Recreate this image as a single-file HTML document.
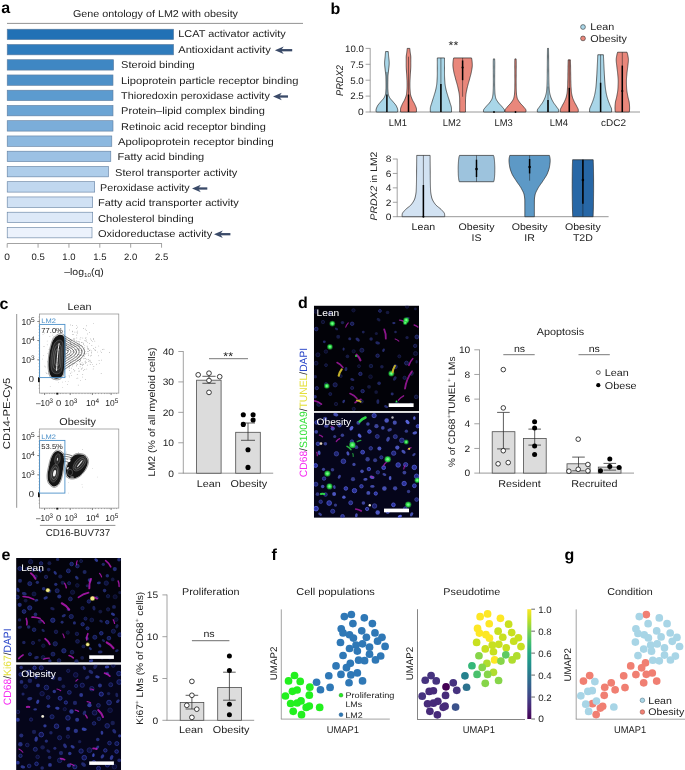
<!DOCTYPE html>
<html lang="en"><head><meta charset="utf-8"><title>Figure</title>
<style>
html,body{margin:0;padding:0;background:#fff;}
svg{display:block;font-family:"Liberation Sans", Arial, Helvetica, sans-serif;will-change:transform;}
text{font-family:"Liberation Sans", Arial, Helvetica, sans-serif;text-rendering:geometricPrecision;}
</style></head><body>
<svg width="685" height="770" viewBox="0 0 685 770">
<rect x="0" y="0" width="685" height="770" fill="#ffffff"/>
<g id="panel-a">
<text x="1.30" y="12.85" font-size="16" font-weight="bold" fill="#000">a</text>
<text x="0" y="0" transform="translate(155.50 16.56) scale(1.0929 1)" font-size="9.88" text-anchor="middle" fill="#222" textLength="150.98" lengthAdjust="spacingAndGlyphs">Gene ontology of LM2 with obesity</text>
<line x1="7.00" y1="23.40" x2="303.00" y2="23.40" stroke="#777" stroke-width="0.8"/>
<rect x="7.20" y="29.20" width="166.40" height="10.40" fill="#2171b5" stroke="#5f7c9e" stroke-width="0.6"/>
<text x="0" y="0" transform="translate(178.20 37.46) scale(1.0929 1)" font-size="9.88" text-anchor="start" fill="#222" textLength="98.45" lengthAdjust="spacingAndGlyphs">LCAT activator activity</text>
<rect x="7.20" y="44.45" width="166.40" height="10.40" fill="#2f7cbd" stroke="#5f7c9e" stroke-width="0.6"/>
<text x="0" y="0" transform="translate(178.20 52.82) scale(1.0929 1)" font-size="9.88" text-anchor="start" fill="#222" textLength="84.73" lengthAdjust="spacingAndGlyphs">Antioxidant activity</text>
<rect x="7.20" y="59.70" width="106.40" height="10.40" fill="#3f87c3" stroke="#5f7c9e" stroke-width="0.6"/>
<text x="0" y="0" transform="translate(121.10 68.18) scale(1.0929 1)" font-size="9.88" text-anchor="start" fill="#222" textLength="67.34" lengthAdjust="spacingAndGlyphs">Steroid binding</text>
<rect x="7.20" y="74.95" width="105.80" height="10.40" fill="#4d90c8" stroke="#5f7c9e" stroke-width="0.6"/>
<text x="0" y="0" transform="translate(121.10 83.54) scale(1.0929 1)" font-size="9.88" text-anchor="start" fill="#222" textLength="162.23" lengthAdjust="spacingAndGlyphs">Lipoprotein particle receptor binding</text>
<rect x="7.20" y="90.20" width="105.80" height="10.40" fill="#5c9bcf" stroke="#5f7c9e" stroke-width="0.6"/>
<text x="0" y="0" transform="translate(121.10 98.90) scale(1.0929 1)" font-size="9.88" text-anchor="start" fill="#222" textLength="136.06" lengthAdjust="spacingAndGlyphs">Thioredoxin peroxidase activity</text>
<rect x="7.20" y="105.45" width="105.80" height="10.40" fill="#6ba4d4" stroke="#5f7c9e" stroke-width="0.6"/>
<text x="0" y="0" transform="translate(121.10 114.26) scale(1.0929 1)" font-size="9.88" text-anchor="start" fill="#222" textLength="131.49" lengthAdjust="spacingAndGlyphs">Protein–lipid complex binding</text>
<rect x="7.20" y="120.70" width="105.80" height="10.40" fill="#7badd9" stroke="#5f7c9e" stroke-width="0.6"/>
<text x="0" y="0" transform="translate(121.10 129.62) scale(1.0929 1)" font-size="9.88" text-anchor="start" fill="#222" textLength="132.40" lengthAdjust="spacingAndGlyphs">Retinoic acid receptor binding</text>
<rect x="7.20" y="135.95" width="104.60" height="10.40" fill="#8cb8df" stroke="#5f7c9e" stroke-width="0.6"/>
<text x="0" y="0" transform="translate(118.10 144.98) scale(1.0929 1)" font-size="9.88" text-anchor="start" fill="#222" textLength="142.47" lengthAdjust="spacingAndGlyphs">Apolipoprotein receptor binding</text>
<rect x="7.20" y="151.20" width="103.60" height="10.40" fill="#9cc1e4" stroke="#5f7c9e" stroke-width="0.6"/>
<text x="0" y="0" transform="translate(117.60 160.34) scale(1.0929 1)" font-size="9.88" text-anchor="start" fill="#222" textLength="79.24" lengthAdjust="spacingAndGlyphs">Fatty acid binding</text>
<rect x="7.20" y="166.45" width="101.30" height="10.40" fill="#aecdea" stroke="#5f7c9e" stroke-width="0.6"/>
<text x="0" y="0" transform="translate(115.10 175.70) scale(1.0929 1)" font-size="9.88" text-anchor="start" fill="#222" textLength="111.81" lengthAdjust="spacingAndGlyphs">Sterol transporter activity</text>
<rect x="7.20" y="181.70" width="87.50" height="10.40" fill="#c0d7ef" stroke="#5f7c9e" stroke-width="0.6"/>
<text x="0" y="0" transform="translate(100.10 191.06) scale(1.0929 1)" font-size="9.88" text-anchor="start" fill="#222" textLength="81.98" lengthAdjust="spacingAndGlyphs">Peroxidase activity</text>
<rect x="7.20" y="196.95" width="85.50" height="10.40" fill="#d0e1f4" stroke="#5f7c9e" stroke-width="0.6"/>
<text x="0" y="0" transform="translate(98.00 206.42) scale(1.0929 1)" font-size="9.88" text-anchor="start" fill="#222" textLength="128.83" lengthAdjust="spacingAndGlyphs">Fatty acid transporter activity</text>
<rect x="7.20" y="212.20" width="85.50" height="10.40" fill="#dde9f8" stroke="#5f7c9e" stroke-width="0.6"/>
<text x="0" y="0" transform="translate(98.00 221.78) scale(1.0929 1)" font-size="9.88" text-anchor="start" fill="#222" textLength="87.57" lengthAdjust="spacingAndGlyphs">Cholesterol binding</text>
<rect x="7.20" y="227.45" width="84.80" height="10.40" fill="#ecf2fc" stroke="#5f7c9e" stroke-width="0.6"/>
<text x="0" y="0" transform="translate(98.00 237.14) scale(1.0929 1)" font-size="9.88" text-anchor="start" fill="#222" textLength="104.49" lengthAdjust="spacingAndGlyphs">Oxidoreductase activity</text>
<path d="M292.2 50.2 L279.9 50.2" stroke="#3a4a68" stroke-width="2.3" fill="none"/>
<path d="M274.9 50.2 L283.7 46.5 L281.1 50.2 L283.7 53.9 Z" fill="#3a4a68"/>
<path d="M288.0 96.5 L278.0 96.5" stroke="#3a4a68" stroke-width="2.3" fill="none"/>
<path d="M273.0 96.5 L281.8 92.8 L279.2 96.5 L281.8 100.2 Z" fill="#3a4a68"/>
<path d="M207.3 188.5 L197.0 188.5" stroke="#3a4a68" stroke-width="2.3" fill="none"/>
<path d="M192.0 188.5 L200.8 184.8 L198.2 188.5 L200.8 192.2 Z" fill="#3a4a68"/>
<path d="M230.4 234.2 L219.0 234.2" stroke="#3a4a68" stroke-width="2.3" fill="none"/>
<path d="M214.0 234.2 L222.8 230.5 L220.2 234.2 L222.8 237.9 Z" fill="#3a4a68"/>
<line x1="7.20" y1="243.50" x2="161.90" y2="243.50" stroke="#8c8c8c" stroke-width="0.8"/>
<line x1="7.20" y1="243.50" x2="7.20" y2="247.70" stroke="#8c8c8c" stroke-width="0.8"/>
<text x="0" y="0" transform="translate(7.20 259.86) scale(1.0929 1)" font-size="9.33" text-anchor="middle" fill="#222">0</text>
<line x1="38.07" y1="243.50" x2="38.07" y2="247.70" stroke="#8c8c8c" stroke-width="0.8"/>
<text x="0" y="0" transform="translate(38.07 259.86) scale(1.0929 1)" font-size="9.33" text-anchor="middle" fill="#222" textLength="12.08" lengthAdjust="spacingAndGlyphs">0.5</text>
<line x1="68.94" y1="243.50" x2="68.94" y2="247.70" stroke="#8c8c8c" stroke-width="0.8"/>
<text x="0" y="0" transform="translate(68.94 259.86) scale(1.0929 1)" font-size="9.33" text-anchor="middle" fill="#222" textLength="12.08" lengthAdjust="spacingAndGlyphs">1.0</text>
<line x1="99.81" y1="243.50" x2="99.81" y2="247.70" stroke="#8c8c8c" stroke-width="0.8"/>
<text x="0" y="0" transform="translate(99.81 259.86) scale(1.0929 1)" font-size="9.33" text-anchor="middle" fill="#222" textLength="12.08" lengthAdjust="spacingAndGlyphs">1.5</text>
<line x1="130.68" y1="243.50" x2="130.68" y2="247.70" stroke="#8c8c8c" stroke-width="0.8"/>
<text x="0" y="0" transform="translate(130.68 259.86) scale(1.0929 1)" font-size="9.33" text-anchor="middle" fill="#222" textLength="12.08" lengthAdjust="spacingAndGlyphs">2.0</text>
<line x1="161.55" y1="243.50" x2="161.55" y2="247.70" stroke="#8c8c8c" stroke-width="0.8"/>
<text x="0" y="0" transform="translate(161.55 259.86) scale(1.0929 1)" font-size="9.33" text-anchor="middle" fill="#222" textLength="12.08" lengthAdjust="spacingAndGlyphs">2.5</text>
<text x="0" y="0" transform="translate(84.00 274.96) scale(1.0929 1)" font-size="9.61" text-anchor="middle" fill="#222">–log<tspan font-size="5.76" dy="2.2">10</tspan><tspan dy="-2.2">(q)</tspan></text>
</g>
<g id="panel-b">
<text x="330.60" y="14.00" font-size="16" font-weight="bold" fill="#000">b</text>
<line x1="370.20" y1="48.20" x2="370.20" y2="112.00" stroke="#8c8c8c" stroke-width="0.8"/>
<line x1="369.80" y1="112.00" x2="640.00" y2="112.00" stroke="#8c8c8c" stroke-width="0.9"/>
<line x1="365.60" y1="112.00" x2="370.20" y2="112.00" stroke="#8c8c8c" stroke-width="0.8"/>
<text x="0" y="0" transform="translate(363.80 115.36) scale(1.0929 1)" font-size="9.33" text-anchor="end" fill="#222">0</text>
<line x1="365.60" y1="96.10" x2="370.20" y2="96.10" stroke="#8c8c8c" stroke-width="0.8"/>
<text x="0" y="0" transform="translate(363.80 99.46) scale(1.0929 1)" font-size="9.33" text-anchor="end" fill="#222" textLength="12.44" lengthAdjust="spacingAndGlyphs">2.5</text>
<line x1="365.60" y1="80.20" x2="370.20" y2="80.20" stroke="#8c8c8c" stroke-width="0.8"/>
<text x="0" y="0" transform="translate(363.80 83.56) scale(1.0929 1)" font-size="9.33" text-anchor="end" fill="#222" textLength="12.44" lengthAdjust="spacingAndGlyphs">5.0</text>
<line x1="365.60" y1="64.30" x2="370.20" y2="64.30" stroke="#8c8c8c" stroke-width="0.8"/>
<text x="0" y="0" transform="translate(363.80 67.66) scale(1.0929 1)" font-size="9.33" text-anchor="end" fill="#222" textLength="12.44" lengthAdjust="spacingAndGlyphs">7.5</text>
<line x1="365.60" y1="48.40" x2="370.20" y2="48.40" stroke="#8c8c8c" stroke-width="0.8"/>
<text x="0" y="0" transform="translate(363.80 51.76) scale(1.0929 1)" font-size="9.33" text-anchor="end" fill="#222" textLength="17.20" lengthAdjust="spacingAndGlyphs">10.0</text>
<text x="0" y="0" transform="rotate(-90 339.60 80.60) translate(339.60 83.89) scale(1.0929 1)" font-size="9.70" text-anchor="middle" fill="#222" font-style="italic" textLength="28.18" lengthAdjust="spacingAndGlyphs">PRDX2</text>
<path d="M397.50 112.00 L397.76 110.98 L397.78 109.95 L397.57 108.93 L397.21 107.90 L396.77 106.88 L396.29 105.86 L395.62 104.83 L394.79 103.81 L393.90 102.78 L393.05 101.76 L392.17 100.74 L391.23 99.71 L390.35 98.69 L389.65 97.66 L389.16 96.64 L388.73 95.61 L388.40 94.59 L388.20 93.57 L388.10 92.54 L388.01 91.52 L387.94 90.49 L387.88 89.47 L387.83 88.45 L387.81 87.42 L387.80 86.40 L387.80 85.37 L387.81 84.35 L387.81 83.33 L387.82 82.30 L387.83 81.28 L387.85 80.25 L387.86 79.23 L387.88 78.21 L387.90 77.18 L387.93 76.16 L388.01 75.13 L388.12 74.11 L388.24 73.09 L388.37 72.06 L388.49 71.04 L388.60 70.01 L388.70 68.99 L388.82 67.97 L388.94 66.94 L389.04 65.92 L389.13 64.89 L389.18 63.87 L389.20 62.84 L389.17 61.82 L389.10 60.80 L389.00 59.77 L388.88 58.75 L388.77 57.72 L388.66 56.70 L388.57 55.68 L388.49 54.65 L388.41 53.63 L388.33 52.60 L388.25 51.58 L385.55 51.58 L385.47 52.60 L385.39 53.63 L385.31 54.65 L385.23 55.68 L385.14 56.70 L385.03 57.72 L384.92 58.75 L384.80 59.77 L384.70 60.80 L384.63 61.82 L384.60 62.84 L384.62 63.87 L384.67 64.89 L384.76 65.92 L384.86 66.94 L384.98 67.97 L385.10 68.99 L385.20 70.01 L385.31 71.04 L385.43 72.06 L385.56 73.09 L385.68 74.11 L385.79 75.13 L385.87 76.16 L385.90 77.18 L385.92 78.21 L385.94 79.23 L385.95 80.25 L385.97 81.28 L385.98 82.30 L385.99 83.33 L385.99 84.35 L386.00 85.37 L386.00 86.40 L385.99 87.42 L385.97 88.45 L385.92 89.47 L385.86 90.49 L385.79 91.52 L385.70 92.54 L385.60 93.57 L385.40 94.59 L385.07 95.61 L384.64 96.64 L384.15 97.66 L383.45 98.69 L382.57 99.71 L381.63 100.74 L380.75 101.76 L379.90 102.78 L379.01 103.81 L378.18 104.83 L377.51 105.86 L377.03 106.88 L376.59 107.90 L376.23 108.93 L376.02 109.95 L376.04 110.98 L376.30 112.00 Z" fill="#a9d6e8" stroke="#2a2a2a" stroke-width="0.7" stroke-linejoin="round"/>
<line x1="386.90" y1="94.83" x2="386.90" y2="71.93" stroke="#1a1a1a" stroke-width="0.7" stroke-opacity="0.75"/>
<line x1="386.90" y1="112.00" x2="386.90" y2="94.51" stroke="#000" stroke-width="1.5"/>
<path d="M416.40 112.00 L416.48 110.92 L416.50 109.84 L416.45 108.77 L416.19 107.69 L415.79 106.61 L415.31 105.53 L414.84 104.45 L414.33 103.38 L413.72 102.30 L413.08 101.22 L412.48 100.14 L412.02 99.06 L411.60 97.99 L411.21 96.91 L410.87 95.83 L410.59 94.75 L410.41 93.67 L410.31 92.60 L410.21 91.52 L410.13 90.44 L410.06 89.36 L409.99 88.28 L409.95 87.21 L409.92 86.13 L409.90 85.05 L409.90 83.97 L409.92 82.89 L409.96 81.82 L410.00 80.74 L410.06 79.66 L410.11 78.58 L410.17 77.51 L410.23 76.43 L410.29 75.35 L410.34 74.27 L410.41 73.19 L410.48 72.12 L410.56 71.04 L410.63 69.96 L410.70 68.88 L410.75 67.80 L410.79 66.73 L410.80 65.65 L410.80 64.57 L410.80 63.49 L410.80 62.41 L410.80 61.34 L410.80 60.26 L410.80 59.18 L410.80 58.10 L410.80 57.02 L410.73 55.95 L410.59 54.87 L410.42 53.79 L410.25 52.71 L410.11 51.63 L410.00 50.56 L409.89 49.48 L409.80 48.40 L407.20 48.40 L407.11 49.48 L407.00 50.56 L406.89 51.63 L406.75 52.71 L406.58 53.79 L406.41 54.87 L406.27 55.95 L406.20 57.02 L406.20 58.10 L406.20 59.18 L406.20 60.26 L406.20 61.34 L406.20 62.41 L406.20 63.49 L406.20 64.57 L406.20 65.65 L406.21 66.73 L406.25 67.80 L406.30 68.88 L406.37 69.96 L406.44 71.04 L406.52 72.12 L406.59 73.19 L406.66 74.27 L406.71 75.35 L406.77 76.43 L406.83 77.51 L406.89 78.58 L406.94 79.66 L407.00 80.74 L407.04 81.82 L407.08 82.89 L407.10 83.97 L407.10 85.05 L407.08 86.13 L407.05 87.21 L407.01 88.28 L406.94 89.36 L406.87 90.44 L406.79 91.52 L406.69 92.60 L406.59 93.67 L406.41 94.75 L406.13 95.83 L405.79 96.91 L405.40 97.99 L404.98 99.06 L404.52 100.14 L403.92 101.22 L403.28 102.30 L402.67 103.38 L402.16 104.45 L401.69 105.53 L401.21 106.61 L400.81 107.69 L400.55 108.77 L400.50 109.84 L400.52 110.92 L400.60 112.00 Z" fill="#e9877b" stroke="#2a2a2a" stroke-width="0.7" stroke-linejoin="round"/>
<line x1="408.50" y1="112.00" x2="408.50" y2="56.67" stroke="#1a1a1a" stroke-width="0.7" stroke-opacity="0.75"/>
<line x1="408.50" y1="112.00" x2="408.50" y2="94.51" stroke="#000" stroke-width="1.5"/>
<path d="M451.50 112.00 L451.50 111.08 L451.50 110.17 L451.50 109.25 L451.48 108.33 L451.37 107.42 L451.17 106.50 L450.91 105.59 L450.61 104.67 L450.30 103.75 L450.01 102.84 L449.75 101.92 L449.47 101.00 L449.18 100.09 L448.89 99.17 L448.58 98.26 L448.29 97.34 L447.99 96.42 L447.71 95.51 L447.44 94.59 L447.15 93.67 L446.87 92.76 L446.59 91.84 L446.34 90.93 L446.10 90.01 L445.90 89.09 L445.71 88.18 L445.54 87.26 L445.37 86.34 L445.22 85.43 L445.08 84.51 L444.98 83.60 L444.90 82.68 L444.83 81.76 L444.77 80.85 L444.71 79.93 L444.66 79.01 L444.61 78.10 L444.57 77.18 L444.54 76.27 L444.52 75.35 L444.50 74.43 L444.50 73.52 L444.50 72.60 L444.50 71.68 L444.50 70.77 L444.50 69.85 L444.50 68.94 L444.50 68.02 L444.50 67.10 L444.50 66.19 L444.50 65.27 L444.50 64.35 L444.50 63.44 L444.50 62.52 L444.50 61.61 L444.50 60.69 L444.50 59.77 L444.50 58.86 L444.50 57.94 L437.30 57.94 L437.30 58.86 L437.30 59.77 L437.30 60.69 L437.30 61.61 L437.30 62.52 L437.30 63.44 L437.30 64.35 L437.30 65.27 L437.30 66.19 L437.30 67.10 L437.30 68.02 L437.30 68.94 L437.30 69.85 L437.30 70.77 L437.30 71.68 L437.30 72.60 L437.30 73.52 L437.30 74.43 L437.28 75.35 L437.26 76.27 L437.23 77.18 L437.19 78.10 L437.14 79.01 L437.09 79.93 L437.03 80.85 L436.97 81.76 L436.90 82.68 L436.82 83.60 L436.72 84.51 L436.58 85.43 L436.43 86.34 L436.26 87.26 L436.09 88.18 L435.90 89.09 L435.70 90.01 L435.46 90.93 L435.21 91.84 L434.93 92.76 L434.65 93.67 L434.36 94.59 L434.09 95.51 L433.81 96.42 L433.51 97.34 L433.22 98.26 L432.91 99.17 L432.62 100.09 L432.33 101.00 L432.05 101.92 L431.79 102.84 L431.50 103.75 L431.19 104.67 L430.89 105.59 L430.63 106.50 L430.43 107.42 L430.32 108.33 L430.30 109.25 L430.30 110.17 L430.30 111.08 L430.30 112.00 Z" fill="#a9d6e8" stroke="#2a2a2a" stroke-width="0.7" stroke-linejoin="round"/>
<line x1="440.90" y1="112.00" x2="440.90" y2="57.94" stroke="#1a1a1a" stroke-width="0.7" stroke-opacity="0.75"/>
<line x1="440.90" y1="112.00" x2="440.90" y2="84.02" stroke="#000" stroke-width="1.5"/>
<path d="M465.50 112.00 L465.50 111.08 L465.50 110.17 L465.50 109.25 L465.50 108.33 L465.50 107.42 L465.50 106.50 L465.50 105.59 L465.50 104.67 L465.50 103.75 L465.50 102.84 L465.50 101.92 L465.50 101.00 L465.50 100.09 L465.53 99.17 L465.58 98.26 L465.64 97.34 L465.72 96.42 L465.80 95.51 L465.89 94.59 L466.02 93.67 L466.17 92.76 L466.34 91.84 L466.52 90.93 L466.72 90.01 L466.92 89.09 L467.12 88.18 L467.33 87.26 L467.55 86.34 L467.79 85.43 L468.04 84.51 L468.29 83.60 L468.55 82.68 L468.82 81.76 L469.08 80.85 L469.33 79.93 L469.58 79.01 L469.82 78.10 L470.07 77.18 L470.32 76.27 L470.58 75.35 L470.82 74.43 L471.04 73.52 L471.25 72.60 L471.43 71.68 L471.59 70.77 L471.75 69.85 L471.90 68.94 L472.05 68.02 L472.17 67.10 L472.25 66.19 L472.30 65.27 L472.29 64.35 L472.26 63.44 L472.19 62.52 L472.11 61.61 L472.02 60.69 L471.90 59.77 L471.72 58.86 L471.50 57.94 L453.70 57.94 L453.48 58.86 L453.30 59.77 L453.18 60.69 L453.09 61.61 L453.01 62.52 L452.94 63.44 L452.91 64.35 L452.90 65.27 L452.95 66.19 L453.03 67.10 L453.15 68.02 L453.30 68.94 L453.45 69.85 L453.61 70.77 L453.77 71.68 L453.95 72.60 L454.16 73.52 L454.38 74.43 L454.62 75.35 L454.88 76.27 L455.13 77.18 L455.38 78.10 L455.62 79.01 L455.87 79.93 L456.12 80.85 L456.38 81.76 L456.65 82.68 L456.91 83.60 L457.16 84.51 L457.41 85.43 L457.65 86.34 L457.87 87.26 L458.08 88.18 L458.28 89.09 L458.48 90.01 L458.68 90.93 L458.86 91.84 L459.03 92.76 L459.18 93.67 L459.31 94.59 L459.40 95.51 L459.48 96.42 L459.56 97.34 L459.62 98.26 L459.67 99.17 L459.70 100.09 L459.70 101.00 L459.70 101.92 L459.70 102.84 L459.70 103.75 L459.70 104.67 L459.70 105.59 L459.70 106.50 L459.70 107.42 L459.70 108.33 L459.70 109.25 L459.70 110.17 L459.70 111.08 L459.70 112.00 Z" fill="#e9877b" stroke="#2a2a2a" stroke-width="0.7" stroke-linejoin="round"/>
<line x1="462.60" y1="96.74" x2="462.60" y2="57.94" stroke="#1a1a1a" stroke-width="0.7" stroke-opacity="0.75"/>
<line x1="462.60" y1="80.20" x2="462.60" y2="60.48" stroke="#000" stroke-width="1.5"/>
<circle cx="462.60" cy="67.48" r="1.10" fill="#000" stroke="none" stroke-width="0.7"/>
<path d="M504.40 112.00 L504.49 111.10 L504.49 110.20 L504.13 109.30 L503.46 108.40 L502.68 107.50 L501.95 106.60 L501.15 105.70 L500.28 104.80 L499.40 103.90 L498.61 103.00 L497.95 102.10 L497.33 101.20 L496.74 100.30 L496.24 99.40 L495.85 98.50 L495.60 97.60 L495.40 96.70 L495.23 95.80 L495.09 94.90 L494.98 94.00 L494.91 93.10 L494.87 92.20 L494.83 91.30 L494.79 90.40 L494.76 89.50 L494.73 88.60 L494.71 87.70 L494.69 86.80 L494.67 85.90 L494.66 85.00 L494.65 84.10 L494.65 83.20 L494.65 82.30 L494.65 81.40 L494.65 80.50 L494.66 79.60 L494.66 78.70 L494.66 77.80 L494.67 76.90 L494.67 76.00 L494.68 75.10 L494.68 74.20 L494.69 73.30 L494.69 72.40 L494.70 71.50 L494.70 70.60 L494.71 69.70 L494.71 68.80 L494.72 67.90 L494.73 66.99 L494.73 66.09 L494.74 65.19 L494.74 64.29 L494.75 63.39 L494.75 62.49 L494.74 61.59 L494.70 60.69 L494.65 59.79 L494.60 58.89 L493.40 58.89 L493.35 59.79 L493.30 60.69 L493.26 61.59 L493.25 62.49 L493.25 63.39 L493.26 64.29 L493.26 65.19 L493.27 66.09 L493.27 66.99 L493.28 67.90 L493.29 68.80 L493.29 69.70 L493.30 70.60 L493.30 71.50 L493.31 72.40 L493.31 73.30 L493.32 74.20 L493.32 75.10 L493.33 76.00 L493.33 76.90 L493.34 77.80 L493.34 78.70 L493.34 79.60 L493.35 80.50 L493.35 81.40 L493.35 82.30 L493.35 83.20 L493.35 84.10 L493.34 85.00 L493.33 85.90 L493.31 86.80 L493.29 87.70 L493.27 88.60 L493.24 89.50 L493.21 90.40 L493.17 91.30 L493.13 92.20 L493.09 93.10 L493.02 94.00 L492.91 94.90 L492.77 95.80 L492.60 96.70 L492.40 97.60 L492.15 98.50 L491.76 99.40 L491.26 100.30 L490.67 101.20 L490.05 102.10 L489.39 103.00 L488.60 103.90 L487.72 104.80 L486.85 105.70 L486.05 106.60 L485.32 107.50 L484.54 108.40 L483.87 109.30 L483.51 110.20 L483.51 111.10 L483.60 112.00 Z" fill="#a9d6e8" stroke="#2a2a2a" stroke-width="0.7" stroke-linejoin="round"/>
<circle cx="494.00" cy="112.00" r="0.90" fill="#000" stroke="none" stroke-width="0.7"/>
<path d="M525.90 112.00 L525.99 111.10 L525.99 110.20 L525.63 109.30 L524.96 108.40 L524.18 107.50 L523.45 106.60 L522.65 105.70 L521.78 104.80 L520.90 103.90 L520.11 103.00 L519.45 102.10 L518.83 101.20 L518.24 100.30 L517.74 99.40 L517.35 98.50 L517.10 97.60 L516.90 96.70 L516.73 95.80 L516.59 94.90 L516.48 94.00 L516.41 93.10 L516.37 92.20 L516.33 91.30 L516.29 90.40 L516.26 89.50 L516.23 88.60 L516.21 87.70 L516.19 86.80 L516.17 85.90 L516.16 85.00 L516.15 84.10 L516.15 83.20 L516.15 82.30 L516.15 81.40 L516.15 80.50 L516.16 79.60 L516.16 78.70 L516.16 77.80 L516.17 76.90 L516.17 76.00 L516.18 75.10 L516.18 74.20 L516.19 73.30 L516.19 72.40 L516.20 71.50 L516.20 70.60 L516.21 69.70 L516.21 68.80 L516.22 67.90 L516.23 66.99 L516.23 66.09 L516.24 65.19 L516.24 64.29 L516.25 63.39 L516.25 62.49 L516.24 61.59 L516.20 60.69 L516.15 59.79 L516.10 58.89 L514.90 58.89 L514.85 59.79 L514.80 60.69 L514.76 61.59 L514.75 62.49 L514.75 63.39 L514.76 64.29 L514.76 65.19 L514.77 66.09 L514.77 66.99 L514.78 67.90 L514.79 68.80 L514.79 69.70 L514.80 70.60 L514.80 71.50 L514.81 72.40 L514.81 73.30 L514.82 74.20 L514.82 75.10 L514.83 76.00 L514.83 76.90 L514.84 77.80 L514.84 78.70 L514.84 79.60 L514.85 80.50 L514.85 81.40 L514.85 82.30 L514.85 83.20 L514.85 84.10 L514.84 85.00 L514.83 85.90 L514.81 86.80 L514.79 87.70 L514.77 88.60 L514.74 89.50 L514.71 90.40 L514.67 91.30 L514.63 92.20 L514.59 93.10 L514.52 94.00 L514.41 94.90 L514.27 95.80 L514.10 96.70 L513.90 97.60 L513.65 98.50 L513.26 99.40 L512.76 100.30 L512.17 101.20 L511.55 102.10 L510.89 103.00 L510.10 103.90 L509.22 104.80 L508.35 105.70 L507.55 106.60 L506.82 107.50 L506.04 108.40 L505.37 109.30 L505.01 110.20 L505.01 111.10 L505.10 112.00 Z" fill="#e9877b" stroke="#2a2a2a" stroke-width="0.7" stroke-linejoin="round"/>
<circle cx="515.50" cy="112.00" r="0.90" fill="#000" stroke="none" stroke-width="0.7"/>
<path d="M558.60 112.00 L558.70 110.92 L558.60 109.84 L558.01 108.77 L557.17 107.69 L556.40 106.61 L555.61 105.53 L554.79 104.45 L553.99 103.38 L553.31 102.30 L552.69 101.22 L552.10 100.14 L551.57 99.06 L551.12 97.99 L550.75 96.91 L550.41 95.83 L550.11 94.75 L549.85 93.67 L549.64 92.60 L549.49 91.52 L549.37 90.44 L549.26 89.36 L549.16 88.28 L549.08 87.21 L549.01 86.13 L548.96 85.05 L548.92 83.97 L548.89 82.89 L548.87 81.82 L548.85 80.74 L548.83 79.66 L548.81 78.58 L548.80 77.51 L548.78 76.43 L548.77 75.35 L548.76 74.27 L548.75 73.19 L548.74 72.12 L548.73 71.04 L548.72 69.96 L548.71 68.88 L548.70 67.80 L548.69 66.73 L548.68 65.65 L548.68 64.57 L548.67 63.49 L548.66 62.41 L548.65 61.34 L548.65 60.26 L548.64 59.18 L548.63 58.10 L548.62 57.02 L548.61 55.95 L548.60 54.87 L548.59 53.79 L548.57 52.71 L548.56 51.63 L548.54 50.56 L548.52 49.48 L548.50 48.40 L547.50 48.40 L547.48 49.48 L547.46 50.56 L547.44 51.63 L547.43 52.71 L547.41 53.79 L547.40 54.87 L547.39 55.95 L547.38 57.02 L547.37 58.10 L547.36 59.18 L547.35 60.26 L547.35 61.34 L547.34 62.41 L547.33 63.49 L547.32 64.57 L547.32 65.65 L547.31 66.73 L547.30 67.80 L547.29 68.88 L547.28 69.96 L547.27 71.04 L547.26 72.12 L547.25 73.19 L547.24 74.27 L547.23 75.35 L547.22 76.43 L547.20 77.51 L547.19 78.58 L547.17 79.66 L547.15 80.74 L547.13 81.82 L547.11 82.89 L547.08 83.97 L547.04 85.05 L546.99 86.13 L546.92 87.21 L546.84 88.28 L546.74 89.36 L546.63 90.44 L546.51 91.52 L546.36 92.60 L546.15 93.67 L545.89 94.75 L545.59 95.83 L545.25 96.91 L544.88 97.99 L544.43 99.06 L543.90 100.14 L543.31 101.22 L542.69 102.30 L542.01 103.38 L541.21 104.45 L540.39 105.53 L539.60 106.61 L538.83 107.69 L537.99 108.77 L537.40 109.84 L537.30 110.92 L537.40 112.00 Z" fill="#a9d6e8" stroke="#2a2a2a" stroke-width="0.7" stroke-linejoin="round"/>
<line x1="548.00" y1="112.00" x2="548.00" y2="86.56" stroke="#1a1a1a" stroke-width="0.7" stroke-opacity="0.75"/>
<line x1="548.00" y1="112.00" x2="548.00" y2="99.92" stroke="#000" stroke-width="1.5"/>
<path d="M578.20 112.00 L578.28 111.12 L578.30 110.23 L578.20 109.35 L577.86 108.46 L577.40 107.58 L576.91 106.70 L576.47 105.81 L576.00 104.93 L575.49 104.04 L574.99 103.16 L574.52 102.28 L574.10 101.39 L573.70 100.51 L573.31 99.62 L572.95 98.74 L572.63 97.86 L572.36 96.97 L572.15 96.09 L571.95 95.21 L571.77 94.32 L571.60 93.44 L571.47 92.55 L571.36 91.67 L571.28 90.79 L571.22 89.90 L571.16 89.02 L571.11 88.13 L571.06 87.25 L571.01 86.37 L570.97 85.48 L570.94 84.60 L570.90 83.71 L570.87 82.83 L570.85 81.95 L570.82 81.06 L570.80 80.18 L570.78 79.29 L570.76 78.41 L570.75 77.53 L570.73 76.64 L570.72 75.76 L570.71 74.87 L570.70 73.99 L570.68 73.11 L570.67 72.22 L570.66 71.34 L570.65 70.46 L570.64 69.57 L570.62 68.69 L570.61 67.80 L570.59 66.92 L570.57 66.04 L570.55 65.15 L570.53 64.27 L570.50 63.38 L570.48 62.50 L570.45 61.62 L570.43 60.73 L570.40 59.85 L568.20 59.85 L568.17 60.73 L568.15 61.62 L568.12 62.50 L568.10 63.38 L568.07 64.27 L568.05 65.15 L568.03 66.04 L568.01 66.92 L567.99 67.80 L567.98 68.69 L567.96 69.57 L567.95 70.46 L567.94 71.34 L567.93 72.22 L567.92 73.11 L567.90 73.99 L567.89 74.87 L567.88 75.76 L567.87 76.64 L567.85 77.53 L567.84 78.41 L567.82 79.29 L567.80 80.18 L567.78 81.06 L567.75 81.95 L567.73 82.83 L567.70 83.71 L567.66 84.60 L567.63 85.48 L567.59 86.37 L567.54 87.25 L567.49 88.13 L567.44 89.02 L567.38 89.90 L567.32 90.79 L567.24 91.67 L567.13 92.55 L567.00 93.44 L566.83 94.32 L566.65 95.21 L566.45 96.09 L566.24 96.97 L565.97 97.86 L565.65 98.74 L565.29 99.62 L564.90 100.51 L564.50 101.39 L564.08 102.28 L563.61 103.16 L563.11 104.04 L562.60 104.93 L562.13 105.81 L561.69 106.70 L561.20 107.58 L560.74 108.46 L560.40 109.35 L560.30 110.23 L560.32 111.12 L560.40 112.00 Z" fill="#e9877b" stroke="#2a2a2a" stroke-width="0.7" stroke-linejoin="round"/>
<line x1="569.30" y1="112.00" x2="569.30" y2="59.85" stroke="#1a1a1a" stroke-width="0.7" stroke-opacity="0.75"/>
<line x1="569.30" y1="112.00" x2="569.30" y2="87.83" stroke="#000" stroke-width="1.5"/>
<path d="M611.60 112.00 L611.60 111.03 L611.60 110.06 L611.58 109.09 L611.32 108.12 L610.89 107.15 L610.43 106.18 L610.03 105.21 L609.64 104.24 L609.24 103.27 L608.85 102.30 L608.47 101.33 L608.14 100.36 L607.82 99.39 L607.51 98.42 L607.22 97.45 L606.95 96.48 L606.70 95.51 L606.47 94.54 L606.27 93.57 L606.09 92.60 L605.91 91.63 L605.75 90.66 L605.60 89.69 L605.46 88.72 L605.33 87.75 L605.22 86.78 L605.13 85.81 L605.04 84.84 L604.96 83.87 L604.88 82.89 L604.81 81.92 L604.75 80.95 L604.68 79.98 L604.62 79.01 L604.56 78.04 L604.50 77.07 L604.45 76.10 L604.39 75.13 L604.34 74.16 L604.29 73.19 L604.24 72.22 L604.19 71.25 L604.14 70.28 L604.09 69.31 L604.04 68.34 L603.99 67.37 L603.95 66.40 L603.90 65.43 L603.85 64.46 L603.80 63.49 L603.76 62.52 L603.71 61.55 L603.67 60.58 L603.62 59.61 L603.58 58.64 L603.53 57.67 L603.49 56.70 L603.44 55.73 L603.40 54.76 L597.80 54.76 L597.76 55.73 L597.71 56.70 L597.67 57.67 L597.62 58.64 L597.58 59.61 L597.53 60.58 L597.49 61.55 L597.44 62.52 L597.40 63.49 L597.35 64.46 L597.30 65.43 L597.25 66.40 L597.21 67.37 L597.16 68.34 L597.11 69.31 L597.06 70.28 L597.01 71.25 L596.96 72.22 L596.91 73.19 L596.86 74.16 L596.81 75.13 L596.75 76.10 L596.70 77.07 L596.64 78.04 L596.58 79.01 L596.52 79.98 L596.45 80.95 L596.39 81.92 L596.32 82.89 L596.24 83.87 L596.16 84.84 L596.07 85.81 L595.98 86.78 L595.87 87.75 L595.74 88.72 L595.60 89.69 L595.45 90.66 L595.29 91.63 L595.11 92.60 L594.93 93.57 L594.73 94.54 L594.50 95.51 L594.25 96.48 L593.98 97.45 L593.69 98.42 L593.38 99.39 L593.06 100.36 L592.73 101.33 L592.35 102.30 L591.96 103.27 L591.56 104.24 L591.17 105.21 L590.77 106.18 L590.31 107.15 L589.88 108.12 L589.62 109.09 L589.60 110.06 L589.60 111.03 L589.60 112.00 Z" fill="#a9d6e8" stroke="#2a2a2a" stroke-width="0.7" stroke-linejoin="round"/>
<line x1="600.60" y1="112.00" x2="600.60" y2="54.76" stroke="#1a1a1a" stroke-width="0.7" stroke-opacity="0.75"/>
<line x1="600.60" y1="112.00" x2="600.60" y2="82.74" stroke="#000" stroke-width="1.5"/>
<path d="M629.30 112.00 L629.43 110.99 L629.53 109.97 L629.59 108.96 L629.60 107.95 L629.58 106.93 L629.53 105.92 L629.46 104.91 L629.37 103.89 L629.28 102.88 L629.13 101.87 L628.91 100.85 L628.65 99.84 L628.39 98.83 L628.13 97.81 L627.91 96.80 L627.72 95.79 L627.53 94.77 L627.34 93.76 L627.15 92.75 L626.99 91.73 L626.85 90.72 L626.75 89.71 L626.67 88.69 L626.61 87.68 L626.56 86.67 L626.51 85.65 L626.46 84.64 L626.43 83.63 L626.41 82.61 L626.40 81.60 L626.41 80.59 L626.45 79.57 L626.50 78.56 L626.58 77.55 L626.66 76.53 L626.75 75.52 L626.84 74.51 L626.93 73.50 L627.03 72.48 L627.15 71.47 L627.28 70.46 L627.41 69.44 L627.54 68.43 L627.66 67.42 L627.78 66.40 L627.89 65.39 L628.02 64.38 L628.14 63.36 L628.26 62.35 L628.34 61.34 L628.39 60.32 L628.39 59.31 L628.31 58.30 L628.17 57.28 L627.99 56.27 L627.80 55.26 L627.59 54.24 L627.32 53.23 L627.00 52.22 L617.60 52.22 L617.28 53.23 L617.01 54.24 L616.80 55.26 L616.61 56.27 L616.43 57.28 L616.29 58.30 L616.21 59.31 L616.21 60.32 L616.26 61.34 L616.34 62.35 L616.46 63.36 L616.58 64.38 L616.71 65.39 L616.82 66.40 L616.94 67.42 L617.06 68.43 L617.19 69.44 L617.32 70.46 L617.45 71.47 L617.57 72.48 L617.67 73.50 L617.76 74.51 L617.85 75.52 L617.94 76.53 L618.02 77.55 L618.10 78.56 L618.15 79.57 L618.19 80.59 L618.20 81.60 L618.19 82.61 L618.17 83.63 L618.14 84.64 L618.09 85.65 L618.04 86.67 L617.99 87.68 L617.93 88.69 L617.85 89.71 L617.75 90.72 L617.61 91.73 L617.45 92.75 L617.26 93.76 L617.07 94.77 L616.88 95.79 L616.69 96.80 L616.47 97.81 L616.21 98.83 L615.95 99.84 L615.69 100.85 L615.47 101.87 L615.32 102.88 L615.23 103.89 L615.14 104.91 L615.07 105.92 L615.02 106.93 L615.00 107.95 L615.01 108.96 L615.07 109.97 L615.17 110.99 L615.30 112.00 Z" fill="#e9877b" stroke="#2a2a2a" stroke-width="0.7" stroke-linejoin="round"/>
<line x1="622.30" y1="112.00" x2="622.30" y2="52.22" stroke="#1a1a1a" stroke-width="0.7" stroke-opacity="0.75"/>
<line x1="622.30" y1="112.00" x2="622.30" y2="65.57" stroke="#000" stroke-width="1.5"/>
<circle cx="622.30" cy="91.01" r="1.10" fill="#000" stroke="none" stroke-width="0.7"/>
<text x="0" y="0" transform="translate(453.40 48.52) scale(1.0929 1)" font-size="11.44" text-anchor="middle" fill="#222">**</text>
<text x="0" y="0" transform="translate(397.80 125.59) scale(1.0929 1)" font-size="9.70" text-anchor="middle" fill="#222" textLength="16.65" lengthAdjust="spacingAndGlyphs">LM1</text>
<text x="0" y="0" transform="translate(451.90 125.59) scale(1.0929 1)" font-size="9.70" text-anchor="middle" fill="#222" textLength="16.65" lengthAdjust="spacingAndGlyphs">LM2</text>
<text x="0" y="0" transform="translate(503.70 125.59) scale(1.0929 1)" font-size="9.70" text-anchor="middle" fill="#222" textLength="16.65" lengthAdjust="spacingAndGlyphs">LM3</text>
<text x="0" y="0" transform="translate(558.80 125.59) scale(1.0929 1)" font-size="9.70" text-anchor="middle" fill="#222" textLength="16.65" lengthAdjust="spacingAndGlyphs">LM4</text>
<text x="0" y="0" transform="translate(613.50 125.59) scale(1.0929 1)" font-size="9.70" text-anchor="middle" fill="#222" textLength="22.88" lengthAdjust="spacingAndGlyphs">cDC2</text>
<circle cx="583.00" cy="27.00" r="2.40" fill="#a9d6e8" stroke="#333" stroke-width="0.6"/>
<text x="0" y="0" transform="translate(590.30 30.36) scale(1.0929 1)" font-size="9.88" text-anchor="start" fill="#222">Lean</text>
<circle cx="583.00" cy="38.40" r="2.40" fill="#e9877b" stroke="#333" stroke-width="0.6"/>
<text x="0" y="0" transform="translate(590.30 41.76) scale(1.0929 1)" font-size="9.88" text-anchor="start" fill="#222">Obesity</text>
<line x1="397.20" y1="158.72" x2="397.20" y2="216.70" stroke="#8c8c8c" stroke-width="0.8"/>
<line x1="396.80" y1="216.70" x2="608.60" y2="216.70" stroke="#8c8c8c" stroke-width="0.9"/>
<line x1="392.80" y1="216.70" x2="397.20" y2="216.70" stroke="#8c8c8c" stroke-width="0.8"/>
<text x="0" y="0" transform="translate(391.40 220.06) scale(1.0929 1)" font-size="9.33" text-anchor="end" fill="#222">0</text>
<line x1="392.80" y1="202.28" x2="397.20" y2="202.28" stroke="#8c8c8c" stroke-width="0.8"/>
<text x="0" y="0" transform="translate(391.40 205.64) scale(1.0929 1)" font-size="9.33" text-anchor="end" fill="#222">2</text>
<line x1="392.80" y1="187.86" x2="397.20" y2="187.86" stroke="#8c8c8c" stroke-width="0.8"/>
<text x="0" y="0" transform="translate(391.40 191.22) scale(1.0929 1)" font-size="9.33" text-anchor="end" fill="#222">4</text>
<line x1="392.80" y1="173.44" x2="397.20" y2="173.44" stroke="#8c8c8c" stroke-width="0.8"/>
<text x="0" y="0" transform="translate(391.40 176.80) scale(1.0929 1)" font-size="9.33" text-anchor="end" fill="#222">6</text>
<line x1="392.80" y1="159.02" x2="397.20" y2="159.02" stroke="#8c8c8c" stroke-width="0.8"/>
<text x="0" y="0" transform="translate(391.40 162.38) scale(1.0929 1)" font-size="9.33" text-anchor="end" fill="#222">8</text>
<text x="0" y="0" transform="rotate(-90 373.30 186.00) translate(373.30 189.23) scale(1.0929 1)" font-size="9.52" text-anchor="middle" fill="#222"><tspan font-style="italic">PRDX2</tspan> in LM2</text>
<path d="M444.70 216.70 L444.68 215.66 L444.63 214.62 L444.47 213.58 L443.90 212.55 L443.05 211.51 L442.12 210.47 L441.15 209.43 L439.95 208.39 L438.62 207.35 L437.30 206.31 L436.14 205.27 L435.25 204.24 L434.49 203.20 L433.79 202.16 L433.16 201.12 L432.60 200.08 L432.15 199.04 L431.81 198.00 L431.55 196.96 L431.32 195.93 L431.11 194.89 L430.93 193.85 L430.79 192.81 L430.67 191.77 L430.60 190.73 L430.55 189.69 L430.50 188.65 L430.46 187.62 L430.43 186.58 L430.40 185.54 L430.37 184.50 L430.35 183.46 L430.33 182.42 L430.31 181.38 L430.30 180.34 L430.28 179.31 L430.27 178.27 L430.26 177.23 L430.25 176.19 L430.24 175.15 L430.23 174.11 L430.22 173.07 L430.22 172.03 L430.21 171.00 L430.20 169.96 L430.19 168.92 L430.18 167.88 L430.18 166.84 L430.17 165.80 L430.16 164.76 L430.15 163.72 L430.15 162.69 L430.14 161.65 L430.13 160.61 L430.13 159.57 L430.12 158.53 L430.11 157.49 L430.11 156.45 L430.10 155.41 L416.70 155.41 L416.69 156.45 L416.69 157.49 L416.68 158.53 L416.67 159.57 L416.67 160.61 L416.66 161.65 L416.65 162.69 L416.65 163.72 L416.64 164.76 L416.63 165.80 L416.62 166.84 L416.62 167.88 L416.61 168.92 L416.60 169.96 L416.59 171.00 L416.58 172.03 L416.58 173.07 L416.57 174.11 L416.56 175.15 L416.55 176.19 L416.54 177.23 L416.53 178.27 L416.52 179.31 L416.50 180.34 L416.49 181.38 L416.47 182.42 L416.45 183.46 L416.43 184.50 L416.40 185.54 L416.37 186.58 L416.34 187.62 L416.30 188.65 L416.25 189.69 L416.20 190.73 L416.13 191.77 L416.01 192.81 L415.87 193.85 L415.69 194.89 L415.48 195.93 L415.25 196.96 L414.99 198.00 L414.65 199.04 L414.20 200.08 L413.64 201.12 L413.01 202.16 L412.31 203.20 L411.55 204.24 L410.66 205.27 L409.50 206.31 L408.18 207.35 L406.85 208.39 L405.65 209.43 L404.68 210.47 L403.75 211.51 L402.90 212.55 L402.33 213.58 L402.17 214.62 L402.12 215.66 L402.10 216.70 Z" fill="#d2e2f2" stroke="#2a2a2a" stroke-width="0.7" stroke-linejoin="round"/>
<line x1="423.40" y1="216.70" x2="423.40" y2="155.41" stroke="#1a1a1a" stroke-width="0.7" stroke-opacity="0.75"/>
<line x1="423.40" y1="216.70" x2="423.40" y2="184.98" stroke="#000" stroke-width="1.5"/>
<circle cx="423.40" cy="216.70" r="1.00" fill="#000" stroke="none" stroke-width="0.7"/>
<path d="M493.70 181.73 L493.83 181.29 L493.95 180.84 L494.07 180.39 L494.17 179.95 L494.26 179.50 L494.32 179.06 L494.37 178.61 L494.42 178.16 L494.47 177.72 L494.51 177.27 L494.55 176.83 L494.58 176.38 L494.62 175.93 L494.64 175.49 L494.67 175.04 L494.69 174.59 L494.70 174.15 L494.71 173.70 L494.73 173.26 L494.74 172.81 L494.75 172.36 L494.76 171.92 L494.77 171.47 L494.78 171.03 L494.78 170.58 L494.79 170.13 L494.79 169.69 L494.80 169.24 L494.80 168.80 L494.80 168.35 L494.80 167.90 L494.79 167.46 L494.78 167.01 L494.77 166.57 L494.76 166.12 L494.74 165.67 L494.73 165.23 L494.71 164.78 L494.69 164.34 L494.66 163.89 L494.64 163.44 L494.62 163.00 L494.60 162.55 L494.57 162.11 L494.54 161.66 L494.51 161.21 L494.48 160.77 L494.44 160.32 L494.39 159.88 L494.35 159.43 L494.29 158.98 L494.24 158.54 L494.18 158.09 L494.11 157.65 L494.03 157.20 L493.92 156.75 L493.79 156.31 L493.65 155.86 L493.50 155.41 L459.50 155.41 L459.35 155.86 L459.21 156.31 L459.08 156.75 L458.97 157.20 L458.89 157.65 L458.82 158.09 L458.76 158.54 L458.71 158.98 L458.65 159.43 L458.61 159.88 L458.56 160.32 L458.52 160.77 L458.49 161.21 L458.46 161.66 L458.43 162.11 L458.40 162.55 L458.38 163.00 L458.36 163.44 L458.34 163.89 L458.31 164.34 L458.29 164.78 L458.27 165.23 L458.26 165.67 L458.24 166.12 L458.23 166.57 L458.22 167.01 L458.21 167.46 L458.20 167.90 L458.20 168.35 L458.20 168.80 L458.20 169.24 L458.21 169.69 L458.21 170.13 L458.22 170.58 L458.22 171.03 L458.23 171.47 L458.24 171.92 L458.25 172.36 L458.26 172.81 L458.27 173.26 L458.29 173.70 L458.30 174.15 L458.31 174.59 L458.33 175.04 L458.36 175.49 L458.38 175.93 L458.42 176.38 L458.45 176.83 L458.49 177.27 L458.53 177.72 L458.58 178.16 L458.63 178.61 L458.68 179.06 L458.74 179.50 L458.83 179.95 L458.93 180.39 L459.05 180.84 L459.17 181.29 L459.30 181.73 Z" fill="#9dc3dd" stroke="#2a2a2a" stroke-width="0.7" stroke-linejoin="round"/>
<line x1="476.50" y1="181.73" x2="476.50" y2="155.41" stroke="#1a1a1a" stroke-width="0.7" stroke-opacity="0.75"/>
<line x1="476.50" y1="177.04" x2="476.50" y2="159.74" stroke="#000" stroke-width="1.5"/>
<circle cx="476.50" cy="169.11" r="1.30" fill="#000" stroke="none" stroke-width="0.7"/>
<path d="M534.40 216.70 L534.40 215.66 L534.40 214.62 L534.40 213.58 L534.40 212.55 L534.40 211.51 L534.40 210.47 L534.40 209.43 L534.40 208.39 L534.40 207.35 L534.40 206.31 L534.40 205.27 L534.40 204.24 L534.40 203.20 L534.40 202.16 L534.40 201.12 L534.40 200.08 L534.44 199.04 L534.53 198.00 L534.68 196.96 L534.85 195.93 L535.04 194.89 L535.31 193.85 L535.69 192.81 L536.15 191.77 L536.67 190.73 L537.21 189.69 L537.76 188.65 L538.34 187.62 L538.99 186.58 L539.69 185.54 L540.42 184.50 L541.17 183.46 L541.91 182.42 L542.62 181.38 L543.29 180.34 L543.97 179.31 L544.66 178.27 L545.34 177.23 L545.98 176.19 L546.58 175.15 L547.11 174.11 L547.55 173.07 L547.95 172.03 L548.33 171.00 L548.69 169.96 L549.00 168.92 L549.28 167.88 L549.50 166.84 L549.67 165.80 L549.82 164.76 L549.96 163.72 L550.08 162.69 L550.16 161.65 L550.20 160.61 L550.17 159.57 L550.07 158.53 L549.90 157.49 L549.67 156.45 L549.40 155.41 L509.80 155.41 L509.53 156.45 L509.30 157.49 L509.13 158.53 L509.03 159.57 L509.00 160.61 L509.04 161.65 L509.12 162.69 L509.24 163.72 L509.38 164.76 L509.53 165.80 L509.70 166.84 L509.92 167.88 L510.20 168.92 L510.51 169.96 L510.87 171.00 L511.25 172.03 L511.65 173.07 L512.09 174.11 L512.62 175.15 L513.22 176.19 L513.86 177.23 L514.54 178.27 L515.23 179.31 L515.91 180.34 L516.58 181.38 L517.29 182.42 L518.03 183.46 L518.78 184.50 L519.51 185.54 L520.21 186.58 L520.86 187.62 L521.44 188.65 L521.99 189.69 L522.53 190.73 L523.05 191.77 L523.51 192.81 L523.89 193.85 L524.16 194.89 L524.35 195.93 L524.52 196.96 L524.67 198.00 L524.76 199.04 L524.80 200.08 L524.80 201.12 L524.80 202.16 L524.80 203.20 L524.80 204.24 L524.80 205.27 L524.80 206.31 L524.80 207.35 L524.80 208.39 L524.80 209.43 L524.80 210.47 L524.80 211.51 L524.80 212.55 L524.80 213.58 L524.80 214.62 L524.80 215.66 L524.80 216.70 Z" fill="#5d99c6" stroke="#2a2a2a" stroke-width="0.7" stroke-linejoin="round"/>
<line x1="529.60" y1="180.65" x2="529.60" y2="155.41" stroke="#1a1a1a" stroke-width="0.7" stroke-opacity="0.75"/>
<line x1="529.60" y1="173.44" x2="529.60" y2="159.02" stroke="#000" stroke-width="1.5"/>
<circle cx="529.60" cy="166.95" r="1.30" fill="#000" stroke="none" stroke-width="0.7"/>
<path d="M593.10 216.70 L593.13 215.73 L593.16 214.77 L593.20 213.80 L593.23 212.84 L593.26 211.87 L593.28 210.91 L593.31 209.94 L593.34 208.98 L593.36 208.01 L593.38 207.05 L593.40 206.08 L593.41 205.12 L593.43 204.15 L593.44 203.18 L593.46 202.22 L593.47 201.25 L593.49 200.29 L593.50 199.32 L593.52 198.36 L593.53 197.39 L593.54 196.43 L593.55 195.46 L593.56 194.50 L593.57 193.53 L593.58 192.56 L593.59 191.60 L593.59 190.63 L593.60 189.67 L593.60 188.70 L593.60 187.74 L593.60 186.77 L593.60 185.81 L593.60 184.84 L593.59 183.88 L593.59 182.91 L593.59 181.95 L593.58 180.98 L593.58 180.01 L593.57 179.05 L593.57 178.08 L593.56 177.12 L593.55 176.15 L593.55 175.19 L593.54 174.22 L593.53 173.26 L593.52 172.29 L593.51 171.33 L593.51 170.36 L593.50 169.40 L593.48 168.43 L593.46 167.46 L593.44 166.50 L593.41 165.53 L593.38 164.57 L593.35 163.60 L593.31 162.64 L593.27 161.67 L593.24 160.71 L593.20 159.74 L572.60 159.74 L572.56 160.71 L572.53 161.67 L572.49 162.64 L572.45 163.60 L572.42 164.57 L572.39 165.53 L572.36 166.50 L572.34 167.46 L572.32 168.43 L572.30 169.40 L572.29 170.36 L572.29 171.33 L572.28 172.29 L572.27 173.26 L572.26 174.22 L572.25 175.19 L572.25 176.15 L572.24 177.12 L572.23 178.08 L572.23 179.05 L572.22 180.01 L572.22 180.98 L572.21 181.95 L572.21 182.91 L572.21 183.88 L572.20 184.84 L572.20 185.81 L572.20 186.77 L572.20 187.74 L572.20 188.70 L572.20 189.67 L572.21 190.63 L572.21 191.60 L572.22 192.56 L572.23 193.53 L572.24 194.50 L572.25 195.46 L572.26 196.43 L572.27 197.39 L572.28 198.36 L572.30 199.32 L572.31 200.29 L572.33 201.25 L572.34 202.22 L572.36 203.18 L572.37 204.15 L572.39 205.12 L572.40 206.08 L572.42 207.05 L572.44 208.01 L572.46 208.98 L572.49 209.94 L572.52 210.91 L572.54 211.87 L572.57 212.84 L572.60 213.80 L572.64 214.77 L572.67 215.73 L572.70 216.70 Z" fill="#2767a6" stroke="#2a2a2a" stroke-width="0.7" stroke-linejoin="round"/>
<line x1="582.90" y1="216.70" x2="582.90" y2="159.74" stroke="#1a1a1a" stroke-width="0.7" stroke-opacity="0.75"/>
<line x1="582.90" y1="203.72" x2="582.90" y2="159.74" stroke="#000" stroke-width="1.5"/>
<circle cx="582.90" cy="179.93" r="1.30" fill="#000" stroke="none" stroke-width="0.7"/>
<text x="0" y="0" transform="translate(423.40 229.89) scale(1.0929 1)" font-size="9.70" text-anchor="middle" fill="#222">Lean</text>
<text x="0" y="0" transform="translate(476.50 229.89) scale(1.0929 1)" font-size="9.70" text-anchor="middle" fill="#222">Obesity</text>
<text x="0" y="0" transform="translate(476.50 240.89) scale(1.0929 1)" font-size="9.70" text-anchor="middle" fill="#222">IS</text>
<text x="0" y="0" transform="translate(529.60 229.89) scale(1.0929 1)" font-size="9.70" text-anchor="middle" fill="#222">Obesity</text>
<text x="0" y="0" transform="translate(529.60 240.89) scale(1.0929 1)" font-size="9.70" text-anchor="middle" fill="#222">IR</text>
<text x="0" y="0" transform="translate(582.90 229.89) scale(1.0929 1)" font-size="9.70" text-anchor="middle" fill="#222">Obesity</text>
<text x="0" y="0" transform="translate(582.90 240.89) scale(1.0929 1)" font-size="9.70" text-anchor="middle" fill="#222">T2D</text>
</g>
<g id="panel-c">
<text x="-0.40" y="308.60" font-size="16" font-weight="bold" fill="#000">c</text>
<line x1="16.70" y1="314.00" x2="16.70" y2="507.80" stroke="#777" stroke-width="0.8"/>
<text x="0" y="0" transform="rotate(-90 6.90 413.40) translate(6.90 416.76) scale(1.0929 1)" font-size="9.88" text-anchor="middle" fill="#222" textLength="65.42" lengthAdjust="spacingAndGlyphs">CD14-PE-Cy5</text>
<rect x="39.50" y="314.00" width="79.30" height="79.10" fill="#fff" stroke="#8a8a8a" stroke-width="0.7"/>
<text x="0" y="0" transform="translate(79.40 309.96) scale(1.0929 1)" font-size="9.88" text-anchor="middle" fill="#222">Lean</text>
<text x="0" y="0" transform="translate(34.60 325.00) scale(1.0929 1)" font-size="8.60" text-anchor="end" fill="#222" textLength="12.08" lengthAdjust="spacingAndGlyphs">10<tspan font-size="6.59" dy="-3.1">5</tspan><tspan dy="3.1" font-size="0.92">​</tspan></text>
<line x1="37.30" y1="321.50" x2="39.50" y2="321.50" stroke="#333" stroke-width="0.6"/>
<text x="0" y="0" transform="translate(34.60 344.00) scale(1.0929 1)" font-size="8.60" text-anchor="end" fill="#222" textLength="12.08" lengthAdjust="spacingAndGlyphs">10<tspan font-size="6.59" dy="-3.1">4</tspan><tspan dy="3.1" font-size="0.92">​</tspan></text>
<line x1="37.30" y1="340.50" x2="39.50" y2="340.50" stroke="#333" stroke-width="0.6"/>
<text x="0" y="0" transform="translate(34.60 363.30) scale(1.0929 1)" font-size="8.60" text-anchor="end" fill="#222" textLength="12.08" lengthAdjust="spacingAndGlyphs">10<tspan font-size="6.59" dy="-3.1">3</tspan><tspan dy="3.1" font-size="0.92">​</tspan></text>
<line x1="37.30" y1="359.80" x2="39.50" y2="359.80" stroke="#333" stroke-width="0.6"/>
<text x="0" y="0" transform="translate(33.90 382.40) scale(1.0929 1)" font-size="8.60" text-anchor="end" fill="#222">0</text>
<text x="0" y="0" transform="translate(44.60 406.40) scale(1.0929 1)" font-size="8.60" text-anchor="middle" fill="#222" textLength="15.56" lengthAdjust="spacingAndGlyphs">–10<tspan font-size="6.59" dy="-3.1">3</tspan><tspan dy="3.1" font-size="0.92">​</tspan></text>
<text x="0" y="0" transform="translate(58.60 406.40) scale(1.0929 1)" font-size="8.60" text-anchor="middle" fill="#222">0</text>
<text x="0" y="0" transform="translate(71.00 406.40) scale(1.0929 1)" font-size="8.60" text-anchor="middle" fill="#222" textLength="11.71" lengthAdjust="spacingAndGlyphs">10<tspan font-size="6.59" dy="-3.1">3</tspan><tspan dy="3.1" font-size="0.92">​</tspan></text>
<text x="0" y="0" transform="translate(92.60 406.40) scale(1.0929 1)" font-size="8.60" text-anchor="middle" fill="#222" textLength="11.90" lengthAdjust="spacingAndGlyphs">10<tspan font-size="6.59" dy="-3.1">4</tspan><tspan dy="3.1" font-size="0.92">​</tspan></text>
<text x="0" y="0" transform="translate(111.80 406.40) scale(1.0929 1)" font-size="8.60" text-anchor="middle" fill="#222" textLength="11.90" lengthAdjust="spacingAndGlyphs">10<tspan font-size="6.59" dy="-3.1">5</tspan><tspan dy="3.1" font-size="0.92">​</tspan></text>
<line x1="44.60" y1="393.10" x2="44.60" y2="395.00" stroke="#333" stroke-width="0.6"/>
<line x1="70.20" y1="393.10" x2="70.20" y2="395.00" stroke="#333" stroke-width="0.6"/>
<line x1="92.40" y1="393.10" x2="92.40" y2="395.00" stroke="#333" stroke-width="0.6"/>
<line x1="111.10" y1="393.10" x2="111.10" y2="395.00" stroke="#333" stroke-width="0.6"/>
<line x1="42.00" y1="393.10" x2="42.00" y2="394.10" stroke="#666" stroke-width="0.45"/>
<line x1="47.00" y1="393.10" x2="47.00" y2="394.10" stroke="#666" stroke-width="0.45"/>
<line x1="49.50" y1="393.10" x2="49.50" y2="394.10" stroke="#666" stroke-width="0.45"/>
<line x1="52.00" y1="393.10" x2="52.00" y2="394.10" stroke="#666" stroke-width="0.45"/>
<line x1="54.50" y1="393.10" x2="54.50" y2="394.10" stroke="#666" stroke-width="0.45"/>
<line x1="60.50" y1="393.10" x2="60.50" y2="394.10" stroke="#666" stroke-width="0.45"/>
<line x1="63.00" y1="393.10" x2="63.00" y2="394.10" stroke="#666" stroke-width="0.45"/>
<line x1="66.00" y1="393.10" x2="66.00" y2="394.10" stroke="#666" stroke-width="0.45"/>
<line x1="73.00" y1="393.10" x2="73.00" y2="394.10" stroke="#666" stroke-width="0.45"/>
<line x1="76.00" y1="393.10" x2="76.00" y2="394.10" stroke="#666" stroke-width="0.45"/>
<line x1="79.00" y1="393.10" x2="79.00" y2="394.10" stroke="#666" stroke-width="0.45"/>
<line x1="82.00" y1="393.10" x2="82.00" y2="394.10" stroke="#666" stroke-width="0.45"/>
<line x1="85.00" y1="393.10" x2="85.00" y2="394.10" stroke="#666" stroke-width="0.45"/>
<line x1="88.00" y1="393.10" x2="88.00" y2="394.10" stroke="#666" stroke-width="0.45"/>
<line x1="90.30" y1="393.10" x2="90.30" y2="394.10" stroke="#666" stroke-width="0.45"/>
<line x1="95.50" y1="393.10" x2="95.50" y2="394.10" stroke="#666" stroke-width="0.45"/>
<line x1="98.50" y1="393.10" x2="98.50" y2="394.10" stroke="#666" stroke-width="0.45"/>
<line x1="101.50" y1="393.10" x2="101.50" y2="394.10" stroke="#666" stroke-width="0.45"/>
<line x1="104.50" y1="393.10" x2="104.50" y2="394.10" stroke="#666" stroke-width="0.45"/>
<line x1="107.00" y1="393.10" x2="107.00" y2="394.10" stroke="#666" stroke-width="0.45"/>
<line x1="109.20" y1="393.10" x2="109.20" y2="394.10" stroke="#666" stroke-width="0.45"/>
<line x1="114.00" y1="393.10" x2="114.00" y2="394.10" stroke="#666" stroke-width="0.45"/>
<line x1="116.50" y1="393.10" x2="116.50" y2="394.10" stroke="#666" stroke-width="0.45"/>
<rect x="56.30" y="392.80" width="2.00" height="1.80" fill="#111" stroke="none" stroke-width="0.7"/>
<line x1="38.60" y1="317.00" x2="39.50" y2="317.00" stroke="#666" stroke-width="0.45"/>
<line x1="38.60" y1="320.10" x2="39.50" y2="320.10" stroke="#666" stroke-width="0.45"/>
<line x1="38.60" y1="323.20" x2="39.50" y2="323.20" stroke="#666" stroke-width="0.45"/>
<line x1="38.60" y1="326.30" x2="39.50" y2="326.30" stroke="#666" stroke-width="0.45"/>
<line x1="38.60" y1="329.40" x2="39.50" y2="329.40" stroke="#666" stroke-width="0.45"/>
<line x1="38.60" y1="332.50" x2="39.50" y2="332.50" stroke="#666" stroke-width="0.45"/>
<line x1="38.60" y1="335.60" x2="39.50" y2="335.60" stroke="#666" stroke-width="0.45"/>
<line x1="38.60" y1="338.70" x2="39.50" y2="338.70" stroke="#666" stroke-width="0.45"/>
<line x1="38.60" y1="341.80" x2="39.50" y2="341.80" stroke="#666" stroke-width="0.45"/>
<line x1="38.60" y1="344.90" x2="39.50" y2="344.90" stroke="#666" stroke-width="0.45"/>
<line x1="38.60" y1="348.00" x2="39.50" y2="348.00" stroke="#666" stroke-width="0.45"/>
<line x1="38.60" y1="351.10" x2="39.50" y2="351.10" stroke="#666" stroke-width="0.45"/>
<line x1="38.60" y1="354.20" x2="39.50" y2="354.20" stroke="#666" stroke-width="0.45"/>
<line x1="38.60" y1="357.30" x2="39.50" y2="357.30" stroke="#666" stroke-width="0.45"/>
<line x1="38.60" y1="360.40" x2="39.50" y2="360.40" stroke="#666" stroke-width="0.45"/>
<line x1="38.60" y1="363.50" x2="39.50" y2="363.50" stroke="#666" stroke-width="0.45"/>
<line x1="38.60" y1="366.60" x2="39.50" y2="366.60" stroke="#666" stroke-width="0.45"/>
<line x1="38.60" y1="369.70" x2="39.50" y2="369.70" stroke="#666" stroke-width="0.45"/>
<line x1="38.60" y1="372.80" x2="39.50" y2="372.80" stroke="#666" stroke-width="0.45"/>
<line x1="38.60" y1="375.90" x2="39.50" y2="375.90" stroke="#666" stroke-width="0.45"/>
<line x1="38.60" y1="379.00" x2="39.50" y2="379.00" stroke="#666" stroke-width="0.45"/>
<line x1="38.60" y1="382.10" x2="39.50" y2="382.10" stroke="#666" stroke-width="0.45"/>
<line x1="38.60" y1="385.20" x2="39.50" y2="385.20" stroke="#666" stroke-width="0.45"/>
<line x1="38.60" y1="388.30" x2="39.50" y2="388.30" stroke="#666" stroke-width="0.45"/>
<rect x="38.00" y="377.30" width="1.70" height="4.80" fill="#111" stroke="none" stroke-width="0.7"/>
<circle cx="66.37" cy="357.34" r="0.32" fill="#555" stroke="none" stroke-width="0.7"/>
<circle cx="87.45" cy="347.10" r="0.32" fill="#555" stroke="none" stroke-width="0.7"/>
<circle cx="82.54" cy="365.63" r="0.32" fill="#555" stroke="none" stroke-width="0.7"/>
<circle cx="66.45" cy="338.13" r="0.32" fill="#555" stroke="none" stroke-width="0.7"/>
<circle cx="84.71" cy="358.45" r="0.32" fill="#555" stroke="none" stroke-width="0.7"/>
<circle cx="92.57" cy="364.30" r="0.32" fill="#555" stroke="none" stroke-width="0.7"/>
<circle cx="77.03" cy="349.85" r="0.32" fill="#555" stroke="none" stroke-width="0.7"/>
<circle cx="102.42" cy="349.68" r="0.32" fill="#555" stroke="none" stroke-width="0.7"/>
<circle cx="70.54" cy="339.91" r="0.32" fill="#555" stroke="none" stroke-width="0.7"/>
<circle cx="78.91" cy="354.67" r="0.32" fill="#555" stroke="none" stroke-width="0.7"/>
<circle cx="74.72" cy="352.29" r="0.32" fill="#555" stroke="none" stroke-width="0.7"/>
<circle cx="80.59" cy="360.96" r="0.32" fill="#555" stroke="none" stroke-width="0.7"/>
<circle cx="88.42" cy="355.41" r="0.32" fill="#555" stroke="none" stroke-width="0.7"/>
<circle cx="70.60" cy="355.46" r="0.32" fill="#555" stroke="none" stroke-width="0.7"/>
<circle cx="109.35" cy="352.44" r="0.32" fill="#555" stroke="none" stroke-width="0.7"/>
<circle cx="86.00" cy="337.78" r="0.32" fill="#555" stroke="none" stroke-width="0.7"/>
<circle cx="75.26" cy="360.62" r="0.32" fill="#555" stroke="none" stroke-width="0.7"/>
<circle cx="77.12" cy="357.26" r="0.32" fill="#555" stroke="none" stroke-width="0.7"/>
<circle cx="78.98" cy="341.43" r="0.32" fill="#555" stroke="none" stroke-width="0.7"/>
<circle cx="83.36" cy="343.66" r="0.32" fill="#555" stroke="none" stroke-width="0.7"/>
<circle cx="95.78" cy="347.19" r="0.32" fill="#555" stroke="none" stroke-width="0.7"/>
<circle cx="84.52" cy="353.03" r="0.32" fill="#555" stroke="none" stroke-width="0.7"/>
<circle cx="87.05" cy="346.08" r="0.32" fill="#555" stroke="none" stroke-width="0.7"/>
<circle cx="87.49" cy="351.58" r="0.32" fill="#555" stroke="none" stroke-width="0.7"/>
<circle cx="90.00" cy="360.18" r="0.32" fill="#555" stroke="none" stroke-width="0.7"/>
<circle cx="79.34" cy="344.03" r="0.32" fill="#555" stroke="none" stroke-width="0.7"/>
<circle cx="85.29" cy="358.38" r="0.32" fill="#555" stroke="none" stroke-width="0.7"/>
<circle cx="93.60" cy="348.66" r="0.32" fill="#555" stroke="none" stroke-width="0.7"/>
<circle cx="83.27" cy="358.84" r="0.32" fill="#555" stroke="none" stroke-width="0.7"/>
<circle cx="80.69" cy="355.40" r="0.32" fill="#555" stroke="none" stroke-width="0.7"/>
<circle cx="79.73" cy="346.12" r="0.32" fill="#555" stroke="none" stroke-width="0.7"/>
<circle cx="68.36" cy="348.44" r="0.32" fill="#555" stroke="none" stroke-width="0.7"/>
<circle cx="83.61" cy="370.38" r="0.32" fill="#555" stroke="none" stroke-width="0.7"/>
<circle cx="87.28" cy="365.11" r="0.32" fill="#555" stroke="none" stroke-width="0.7"/>
<circle cx="85.38" cy="361.03" r="0.32" fill="#555" stroke="none" stroke-width="0.7"/>
<circle cx="79.74" cy="361.87" r="0.32" fill="#555" stroke="none" stroke-width="0.7"/>
<circle cx="94.85" cy="349.23" r="0.32" fill="#555" stroke="none" stroke-width="0.7"/>
<circle cx="71.41" cy="375.54" r="0.32" fill="#555" stroke="none" stroke-width="0.7"/>
<circle cx="80.32" cy="364.17" r="0.32" fill="#555" stroke="none" stroke-width="0.7"/>
<circle cx="86.30" cy="339.94" r="0.32" fill="#555" stroke="none" stroke-width="0.7"/>
<circle cx="101.12" cy="373.42" r="0.32" fill="#555" stroke="none" stroke-width="0.7"/>
<circle cx="79.68" cy="361.65" r="0.32" fill="#555" stroke="none" stroke-width="0.7"/>
<circle cx="79.21" cy="342.83" r="0.32" fill="#555" stroke="none" stroke-width="0.7"/>
<circle cx="76.94" cy="357.30" r="0.32" fill="#555" stroke="none" stroke-width="0.7"/>
<circle cx="88.60" cy="361.16" r="0.32" fill="#555" stroke="none" stroke-width="0.7"/>
<circle cx="78.57" cy="368.58" r="0.32" fill="#555" stroke="none" stroke-width="0.7"/>
<circle cx="70.77" cy="362.12" r="0.32" fill="#555" stroke="none" stroke-width="0.7"/>
<circle cx="88.57" cy="349.64" r="0.32" fill="#555" stroke="none" stroke-width="0.7"/>
<circle cx="80.25" cy="359.07" r="0.32" fill="#555" stroke="none" stroke-width="0.7"/>
<circle cx="92.71" cy="341.45" r="0.32" fill="#555" stroke="none" stroke-width="0.7"/>
<circle cx="78.02" cy="360.46" r="0.32" fill="#555" stroke="none" stroke-width="0.7"/>
<circle cx="76.50" cy="325.75" r="0.32" fill="#555" stroke="none" stroke-width="0.7"/>
<circle cx="85.66" cy="379.59" r="0.32" fill="#555" stroke="none" stroke-width="0.7"/>
<circle cx="87.54" cy="342.45" r="0.32" fill="#555" stroke="none" stroke-width="0.7"/>
<circle cx="74.08" cy="355.55" r="0.32" fill="#555" stroke="none" stroke-width="0.7"/>
<circle cx="101.65" cy="360.10" r="0.32" fill="#555" stroke="none" stroke-width="0.7"/>
<circle cx="79.08" cy="370.91" r="0.32" fill="#555" stroke="none" stroke-width="0.7"/>
<circle cx="77.22" cy="374.41" r="0.32" fill="#555" stroke="none" stroke-width="0.7"/>
<circle cx="71.49" cy="347.54" r="0.32" fill="#555" stroke="none" stroke-width="0.7"/>
<circle cx="84.85" cy="369.38" r="0.32" fill="#555" stroke="none" stroke-width="0.7"/>
<circle cx="84.21" cy="356.47" r="0.32" fill="#555" stroke="none" stroke-width="0.7"/>
<circle cx="72.20" cy="346.86" r="0.32" fill="#555" stroke="none" stroke-width="0.7"/>
<circle cx="83.57" cy="349.15" r="0.32" fill="#555" stroke="none" stroke-width="0.7"/>
<circle cx="85.48" cy="353.95" r="0.32" fill="#555" stroke="none" stroke-width="0.7"/>
<circle cx="74.84" cy="354.36" r="0.32" fill="#555" stroke="none" stroke-width="0.7"/>
<circle cx="82.07" cy="362.87" r="0.32" fill="#555" stroke="none" stroke-width="0.7"/>
<circle cx="73.46" cy="350.32" r="0.32" fill="#555" stroke="none" stroke-width="0.7"/>
<circle cx="91.79" cy="350.94" r="0.32" fill="#555" stroke="none" stroke-width="0.7"/>
<circle cx="73.46" cy="338.79" r="0.32" fill="#555" stroke="none" stroke-width="0.7"/>
<circle cx="79.61" cy="355.37" r="0.32" fill="#555" stroke="none" stroke-width="0.7"/>
<circle cx="98.73" cy="355.83" r="0.32" fill="#555" stroke="none" stroke-width="0.7"/>
<circle cx="70.61" cy="324.89" r="0.32" fill="#555" stroke="none" stroke-width="0.7"/>
<circle cx="91.39" cy="355.18" r="0.32" fill="#555" stroke="none" stroke-width="0.7"/>
<circle cx="88.63" cy="359.58" r="0.32" fill="#555" stroke="none" stroke-width="0.7"/>
<circle cx="76.34" cy="328.39" r="0.32" fill="#555" stroke="none" stroke-width="0.7"/>
<circle cx="76.80" cy="335.12" r="0.32" fill="#555" stroke="none" stroke-width="0.7"/>
<circle cx="83.66" cy="328.40" r="0.32" fill="#555" stroke="none" stroke-width="0.7"/>
<circle cx="69.38" cy="367.02" r="0.32" fill="#555" stroke="none" stroke-width="0.7"/>
<circle cx="93.62" cy="339.42" r="0.32" fill="#555" stroke="none" stroke-width="0.7"/>
<circle cx="86.10" cy="341.65" r="0.32" fill="#555" stroke="none" stroke-width="0.7"/>
<circle cx="71.40" cy="345.02" r="0.32" fill="#555" stroke="none" stroke-width="0.7"/>
<circle cx="66.70" cy="345.18" r="0.32" fill="#555" stroke="none" stroke-width="0.7"/>
<circle cx="89.88" cy="360.93" r="0.32" fill="#555" stroke="none" stroke-width="0.7"/>
<circle cx="97.54" cy="352.01" r="0.32" fill="#555" stroke="none" stroke-width="0.7"/>
<circle cx="76.71" cy="341.70" r="0.32" fill="#555" stroke="none" stroke-width="0.7"/>
<circle cx="76.82" cy="337.90" r="0.32" fill="#555" stroke="none" stroke-width="0.7"/>
<circle cx="91.68" cy="362.62" r="0.32" fill="#555" stroke="none" stroke-width="0.7"/>
<circle cx="90.66" cy="355.90" r="0.32" fill="#555" stroke="none" stroke-width="0.7"/>
<circle cx="71.18" cy="353.99" r="0.32" fill="#555" stroke="none" stroke-width="0.7"/>
<circle cx="74.45" cy="340.22" r="0.32" fill="#555" stroke="none" stroke-width="0.7"/>
<circle cx="77.95" cy="354.73" r="0.32" fill="#555" stroke="none" stroke-width="0.7"/>
<circle cx="73.49" cy="369.43" r="0.32" fill="#555" stroke="none" stroke-width="0.7"/>
<circle cx="79.70" cy="359.70" r="0.32" fill="#555" stroke="none" stroke-width="0.7"/>
<circle cx="89.58" cy="343.57" r="0.32" fill="#555" stroke="none" stroke-width="0.7"/>
<circle cx="71.46" cy="368.08" r="0.32" fill="#555" stroke="none" stroke-width="0.7"/>
<circle cx="81.21" cy="364.58" r="0.32" fill="#555" stroke="none" stroke-width="0.7"/>
<circle cx="85.25" cy="329.07" r="0.32" fill="#555" stroke="none" stroke-width="0.7"/>
<circle cx="84.83" cy="345.26" r="0.32" fill="#555" stroke="none" stroke-width="0.7"/>
<circle cx="70.82" cy="348.00" r="0.32" fill="#555" stroke="none" stroke-width="0.7"/>
<circle cx="85.30" cy="363.17" r="0.32" fill="#555" stroke="none" stroke-width="0.7"/>
<circle cx="87.61" cy="333.91" r="0.32" fill="#555" stroke="none" stroke-width="0.7"/>
<circle cx="72.39" cy="325.68" r="0.32" fill="#555" stroke="none" stroke-width="0.7"/>
<circle cx="77.03" cy="359.90" r="0.32" fill="#555" stroke="none" stroke-width="0.7"/>
<circle cx="70.74" cy="355.82" r="0.32" fill="#555" stroke="none" stroke-width="0.7"/>
<circle cx="80.20" cy="364.59" r="0.32" fill="#555" stroke="none" stroke-width="0.7"/>
<circle cx="70.20" cy="343.47" r="0.32" fill="#555" stroke="none" stroke-width="0.7"/>
<circle cx="70.75" cy="373.15" r="0.32" fill="#555" stroke="none" stroke-width="0.7"/>
<circle cx="88.36" cy="351.58" r="0.32" fill="#555" stroke="none" stroke-width="0.7"/>
<circle cx="80.14" cy="354.32" r="0.32" fill="#555" stroke="none" stroke-width="0.7"/>
<circle cx="79.93" cy="350.60" r="0.32" fill="#555" stroke="none" stroke-width="0.7"/>
<circle cx="74.83" cy="338.55" r="0.32" fill="#555" stroke="none" stroke-width="0.7"/>
<circle cx="71.90" cy="371.98" r="0.32" fill="#555" stroke="none" stroke-width="0.7"/>
<circle cx="83.10" cy="353.74" r="0.32" fill="#555" stroke="none" stroke-width="0.7"/>
<circle cx="75.96" cy="353.72" r="0.32" fill="#555" stroke="none" stroke-width="0.7"/>
<circle cx="81.36" cy="345.57" r="0.32" fill="#555" stroke="none" stroke-width="0.7"/>
<circle cx="79.87" cy="355.76" r="0.32" fill="#555" stroke="none" stroke-width="0.7"/>
<circle cx="70.89" cy="343.93" r="0.32" fill="#555" stroke="none" stroke-width="0.7"/>
<circle cx="68.51" cy="340.77" r="0.32" fill="#555" stroke="none" stroke-width="0.7"/>
<circle cx="86.45" cy="325.86" r="0.32" fill="#555" stroke="none" stroke-width="0.7"/>
<circle cx="75.47" cy="345.97" r="0.32" fill="#555" stroke="none" stroke-width="0.7"/>
<circle cx="72.11" cy="354.12" r="0.32" fill="#555" stroke="none" stroke-width="0.7"/>
<circle cx="88.72" cy="353.88" r="0.32" fill="#555" stroke="none" stroke-width="0.7"/>
<circle cx="76.67" cy="345.96" r="0.32" fill="#555" stroke="none" stroke-width="0.7"/>
<circle cx="76.77" cy="363.49" r="0.32" fill="#555" stroke="none" stroke-width="0.7"/>
<circle cx="74.26" cy="339.82" r="0.32" fill="#555" stroke="none" stroke-width="0.7"/>
<circle cx="81.37" cy="350.27" r="0.32" fill="#555" stroke="none" stroke-width="0.7"/>
<circle cx="91.87" cy="345.43" r="0.32" fill="#555" stroke="none" stroke-width="0.7"/>
<circle cx="85.15" cy="362.21" r="0.32" fill="#555" stroke="none" stroke-width="0.7"/>
<circle cx="69.19" cy="363.43" r="0.32" fill="#555" stroke="none" stroke-width="0.7"/>
<circle cx="90.31" cy="338.88" r="0.32" fill="#555" stroke="none" stroke-width="0.7"/>
<circle cx="87.96" cy="348.60" r="0.32" fill="#555" stroke="none" stroke-width="0.7"/>
<circle cx="74.26" cy="346.66" r="0.32" fill="#555" stroke="none" stroke-width="0.7"/>
<circle cx="74.92" cy="332.09" r="0.32" fill="#555" stroke="none" stroke-width="0.7"/>
<circle cx="68.49" cy="338.79" r="0.32" fill="#555" stroke="none" stroke-width="0.7"/>
<circle cx="82.66" cy="377.02" r="0.32" fill="#555" stroke="none" stroke-width="0.7"/>
<circle cx="103.95" cy="349.13" r="0.32" fill="#555" stroke="none" stroke-width="0.7"/>
<circle cx="69.08" cy="375.81" r="0.32" fill="#555" stroke="none" stroke-width="0.7"/>
<circle cx="83.42" cy="344.62" r="0.32" fill="#555" stroke="none" stroke-width="0.7"/>
<circle cx="86.89" cy="359.16" r="0.32" fill="#555" stroke="none" stroke-width="0.7"/>
<circle cx="75.73" cy="353.22" r="0.32" fill="#555" stroke="none" stroke-width="0.7"/>
<circle cx="79.26" cy="349.10" r="0.32" fill="#555" stroke="none" stroke-width="0.7"/>
<circle cx="79.80" cy="346.26" r="0.32" fill="#555" stroke="none" stroke-width="0.7"/>
<circle cx="69.48" cy="370.43" r="0.32" fill="#555" stroke="none" stroke-width="0.7"/>
<circle cx="81.42" cy="358.04" r="0.32" fill="#555" stroke="none" stroke-width="0.7"/>
<circle cx="85.78" cy="338.15" r="0.32" fill="#555" stroke="none" stroke-width="0.7"/>
<circle cx="88.43" cy="348.52" r="0.32" fill="#555" stroke="none" stroke-width="0.7"/>
<circle cx="81.83" cy="351.47" r="0.32" fill="#555" stroke="none" stroke-width="0.7"/>
<circle cx="80.08" cy="366.84" r="0.32" fill="#555" stroke="none" stroke-width="0.7"/>
<circle cx="74.17" cy="370.99" r="0.32" fill="#555" stroke="none" stroke-width="0.7"/>
<circle cx="70.57" cy="342.29" r="0.32" fill="#555" stroke="none" stroke-width="0.7"/>
<circle cx="84.75" cy="340.74" r="0.32" fill="#555" stroke="none" stroke-width="0.7"/>
<circle cx="74.48" cy="363.43" r="0.32" fill="#555" stroke="none" stroke-width="0.7"/>
<circle cx="89.50" cy="332.59" r="0.32" fill="#555" stroke="none" stroke-width="0.7"/>
<circle cx="82.81" cy="374.66" r="0.32" fill="#555" stroke="none" stroke-width="0.7"/>
<circle cx="89.35" cy="350.24" r="0.32" fill="#555" stroke="none" stroke-width="0.7"/>
<circle cx="72.29" cy="349.59" r="0.32" fill="#555" stroke="none" stroke-width="0.7"/>
<circle cx="67.05" cy="349.96" r="0.32" fill="#555" stroke="none" stroke-width="0.7"/>
<circle cx="76.22" cy="351.32" r="0.32" fill="#555" stroke="none" stroke-width="0.7"/>
<circle cx="89.23" cy="350.35" r="0.32" fill="#555" stroke="none" stroke-width="0.7"/>
<circle cx="67.81" cy="347.86" r="0.32" fill="#555" stroke="none" stroke-width="0.7"/>
<circle cx="76.73" cy="349.04" r="0.32" fill="#555" stroke="none" stroke-width="0.7"/>
<circle cx="68.47" cy="350.14" r="0.32" fill="#555" stroke="none" stroke-width="0.7"/>
<circle cx="98.75" cy="346.02" r="0.32" fill="#555" stroke="none" stroke-width="0.7"/>
<circle cx="76.70" cy="365.92" r="0.32" fill="#555" stroke="none" stroke-width="0.7"/>
<circle cx="85.07" cy="361.78" r="0.32" fill="#555" stroke="none" stroke-width="0.7"/>
<circle cx="86.19" cy="330.37" r="0.32" fill="#555" stroke="none" stroke-width="0.7"/>
<circle cx="69.79" cy="354.48" r="0.32" fill="#555" stroke="none" stroke-width="0.7"/>
<circle cx="82.74" cy="367.88" r="0.32" fill="#555" stroke="none" stroke-width="0.7"/>
<circle cx="82.46" cy="350.26" r="0.32" fill="#555" stroke="none" stroke-width="0.7"/>
<circle cx="78.37" cy="350.57" r="0.32" fill="#555" stroke="none" stroke-width="0.7"/>
<circle cx="80.35" cy="360.75" r="0.32" fill="#555" stroke="none" stroke-width="0.7"/>
<circle cx="74.77" cy="343.64" r="0.32" fill="#555" stroke="none" stroke-width="0.7"/>
<circle cx="69.88" cy="365.62" r="0.32" fill="#555" stroke="none" stroke-width="0.7"/>
<circle cx="90.17" cy="364.41" r="0.32" fill="#555" stroke="none" stroke-width="0.7"/>
<circle cx="86.14" cy="362.58" r="0.32" fill="#555" stroke="none" stroke-width="0.7"/>
<circle cx="77.98" cy="360.63" r="0.32" fill="#555" stroke="none" stroke-width="0.7"/>
<circle cx="68.01" cy="350.66" r="0.32" fill="#555" stroke="none" stroke-width="0.7"/>
<circle cx="71.03" cy="361.36" r="0.32" fill="#555" stroke="none" stroke-width="0.7"/>
<circle cx="72.49" cy="351.76" r="0.32" fill="#555" stroke="none" stroke-width="0.7"/>
<circle cx="81.80" cy="368.58" r="0.32" fill="#555" stroke="none" stroke-width="0.7"/>
<circle cx="70.48" cy="342.20" r="0.32" fill="#555" stroke="none" stroke-width="0.7"/>
<circle cx="85.76" cy="340.28" r="0.32" fill="#555" stroke="none" stroke-width="0.7"/>
<circle cx="82.30" cy="346.44" r="0.32" fill="#555" stroke="none" stroke-width="0.7"/>
<circle cx="77.00" cy="332.06" r="0.32" fill="#555" stroke="none" stroke-width="0.7"/>
<circle cx="84.78" cy="347.25" r="0.32" fill="#555" stroke="none" stroke-width="0.7"/>
<circle cx="69.46" cy="376.89" r="0.32" fill="#555" stroke="none" stroke-width="0.7"/>
<circle cx="81.87" cy="349.00" r="0.32" fill="#555" stroke="none" stroke-width="0.7"/>
<circle cx="79.02" cy="371.48" r="0.32" fill="#555" stroke="none" stroke-width="0.7"/>
<circle cx="77.74" cy="358.19" r="0.32" fill="#555" stroke="none" stroke-width="0.7"/>
<circle cx="82.91" cy="342.53" r="0.32" fill="#555" stroke="none" stroke-width="0.7"/>
<circle cx="79.22" cy="347.22" r="0.32" fill="#555" stroke="none" stroke-width="0.7"/>
<circle cx="66.17" cy="363.03" r="0.32" fill="#555" stroke="none" stroke-width="0.7"/>
<circle cx="84.32" cy="353.86" r="0.32" fill="#555" stroke="none" stroke-width="0.7"/>
<circle cx="69.38" cy="329.93" r="0.32" fill="#555" stroke="none" stroke-width="0.7"/>
<circle cx="82.61" cy="351.88" r="0.32" fill="#555" stroke="none" stroke-width="0.7"/>
<circle cx="79.36" cy="357.08" r="0.32" fill="#555" stroke="none" stroke-width="0.7"/>
<circle cx="80.06" cy="354.97" r="0.32" fill="#555" stroke="none" stroke-width="0.7"/>
<circle cx="67.17" cy="348.59" r="0.32" fill="#555" stroke="none" stroke-width="0.7"/>
<circle cx="73.14" cy="350.29" r="0.32" fill="#555" stroke="none" stroke-width="0.7"/>
<circle cx="80.57" cy="360.12" r="0.32" fill="#555" stroke="none" stroke-width="0.7"/>
<circle cx="93.53" cy="323.46" r="0.32" fill="#555" stroke="none" stroke-width="0.7"/>
<circle cx="81.81" cy="350.72" r="0.32" fill="#555" stroke="none" stroke-width="0.7"/>
<circle cx="99.62" cy="363.74" r="0.32" fill="#555" stroke="none" stroke-width="0.7"/>
<circle cx="73.05" cy="364.43" r="0.32" fill="#555" stroke="none" stroke-width="0.7"/>
<circle cx="67.97" cy="351.83" r="0.32" fill="#555" stroke="none" stroke-width="0.7"/>
<circle cx="76.75" cy="351.89" r="0.32" fill="#555" stroke="none" stroke-width="0.7"/>
<circle cx="72.45" cy="331.86" r="0.32" fill="#555" stroke="none" stroke-width="0.7"/>
<circle cx="82.37" cy="364.49" r="0.32" fill="#555" stroke="none" stroke-width="0.7"/>
<circle cx="77.35" cy="341.30" r="0.32" fill="#555" stroke="none" stroke-width="0.7"/>
<circle cx="79.93" cy="359.50" r="0.32" fill="#555" stroke="none" stroke-width="0.7"/>
<circle cx="76.33" cy="352.84" r="0.32" fill="#555" stroke="none" stroke-width="0.7"/>
<circle cx="91.38" cy="340.14" r="0.32" fill="#555" stroke="none" stroke-width="0.7"/>
<circle cx="72.70" cy="331.09" r="0.32" fill="#555" stroke="none" stroke-width="0.7"/>
<circle cx="71.35" cy="344.50" r="0.32" fill="#555" stroke="none" stroke-width="0.7"/>
<circle cx="68.88" cy="345.02" r="0.32" fill="#555" stroke="none" stroke-width="0.7"/>
<circle cx="95.07" cy="350.74" r="0.32" fill="#555" stroke="none" stroke-width="0.7"/>
<circle cx="76.91" cy="378.28" r="0.32" fill="#555" stroke="none" stroke-width="0.7"/>
<circle cx="77.42" cy="333.06" r="0.32" fill="#555" stroke="none" stroke-width="0.7"/>
<circle cx="81.83" cy="342.22" r="0.32" fill="#555" stroke="none" stroke-width="0.7"/>
<circle cx="93.57" cy="338.67" r="0.32" fill="#555" stroke="none" stroke-width="0.7"/>
<circle cx="72.49" cy="334.53" r="0.32" fill="#555" stroke="none" stroke-width="0.7"/>
<circle cx="78.93" cy="341.32" r="0.32" fill="#555" stroke="none" stroke-width="0.7"/>
<circle cx="77.38" cy="348.67" r="0.32" fill="#555" stroke="none" stroke-width="0.7"/>
<circle cx="72.18" cy="363.85" r="0.32" fill="#555" stroke="none" stroke-width="0.7"/>
<circle cx="86.89" cy="353.72" r="0.32" fill="#555" stroke="none" stroke-width="0.7"/>
<circle cx="69.45" cy="340.69" r="0.32" fill="#555" stroke="none" stroke-width="0.7"/>
<circle cx="80.56" cy="380.49" r="0.32" fill="#555" stroke="none" stroke-width="0.7"/>
<circle cx="73.66" cy="343.98" r="0.32" fill="#555" stroke="none" stroke-width="0.7"/>
<circle cx="71.37" cy="340.40" r="0.32" fill="#555" stroke="none" stroke-width="0.7"/>
<circle cx="68.76" cy="350.64" r="0.32" fill="#555" stroke="none" stroke-width="0.7"/>
<circle cx="91.62" cy="352.99" r="0.32" fill="#555" stroke="none" stroke-width="0.7"/>
<circle cx="73.15" cy="334.43" r="0.32" fill="#555" stroke="none" stroke-width="0.7"/>
<circle cx="80.03" cy="352.69" r="0.32" fill="#555" stroke="none" stroke-width="0.7"/>
<circle cx="66.35" cy="340.50" r="0.32" fill="#555" stroke="none" stroke-width="0.7"/>
<circle cx="77.60" cy="364.64" r="0.32" fill="#555" stroke="none" stroke-width="0.7"/>
<circle cx="83.95" cy="355.36" r="0.32" fill="#555" stroke="none" stroke-width="0.7"/>
<circle cx="74.93" cy="356.69" r="0.32" fill="#555" stroke="none" stroke-width="0.7"/>
<circle cx="77.88" cy="377.99" r="0.32" fill="#555" stroke="none" stroke-width="0.7"/>
<circle cx="67.24" cy="348.76" r="0.32" fill="#555" stroke="none" stroke-width="0.7"/>
<circle cx="90.05" cy="349.95" r="0.32" fill="#555" stroke="none" stroke-width="0.7"/>
<circle cx="91.54" cy="352.50" r="0.32" fill="#555" stroke="none" stroke-width="0.7"/>
<circle cx="79.38" cy="348.74" r="0.32" fill="#555" stroke="none" stroke-width="0.7"/>
<circle cx="99.04" cy="360.42" r="0.32" fill="#555" stroke="none" stroke-width="0.7"/>
<circle cx="83.75" cy="363.97" r="0.32" fill="#555" stroke="none" stroke-width="0.7"/>
<circle cx="83.41" cy="364.75" r="0.32" fill="#555" stroke="none" stroke-width="0.7"/>
<circle cx="75.47" cy="350.43" r="0.32" fill="#555" stroke="none" stroke-width="0.7"/>
<circle cx="87.35" cy="348.95" r="0.32" fill="#555" stroke="none" stroke-width="0.7"/>
<circle cx="72.82" cy="360.05" r="0.32" fill="#555" stroke="none" stroke-width="0.7"/>
<circle cx="71.16" cy="340.80" r="0.32" fill="#555" stroke="none" stroke-width="0.7"/>
<circle cx="74.85" cy="370.86" r="0.32" fill="#555" stroke="none" stroke-width="0.7"/>
<circle cx="77.54" cy="354.85" r="0.32" fill="#555" stroke="none" stroke-width="0.7"/>
<circle cx="78.09" cy="356.40" r="0.32" fill="#555" stroke="none" stroke-width="0.7"/>
<circle cx="86.82" cy="369.05" r="0.32" fill="#555" stroke="none" stroke-width="0.7"/>
<circle cx="77.97" cy="349.31" r="0.32" fill="#555" stroke="none" stroke-width="0.7"/>
<circle cx="100.79" cy="351.05" r="0.32" fill="#555" stroke="none" stroke-width="0.7"/>
<circle cx="96.48" cy="364.13" r="0.32" fill="#555" stroke="none" stroke-width="0.7"/>
<circle cx="68.22" cy="358.62" r="0.32" fill="#555" stroke="none" stroke-width="0.7"/>
<circle cx="85.00" cy="351.56" r="0.32" fill="#555" stroke="none" stroke-width="0.7"/>
<circle cx="76.18" cy="340.26" r="0.32" fill="#555" stroke="none" stroke-width="0.7"/>
<circle cx="95.34" cy="350.19" r="0.32" fill="#555" stroke="none" stroke-width="0.7"/>
<circle cx="74.26" cy="349.55" r="0.32" fill="#555" stroke="none" stroke-width="0.7"/>
<circle cx="70.56" cy="344.07" r="0.32" fill="#555" stroke="none" stroke-width="0.7"/>
<circle cx="78.89" cy="356.60" r="0.32" fill="#555" stroke="none" stroke-width="0.7"/>
<circle cx="73.18" cy="351.96" r="0.32" fill="#555" stroke="none" stroke-width="0.7"/>
<circle cx="70.88" cy="355.47" r="0.32" fill="#555" stroke="none" stroke-width="0.7"/>
<circle cx="69.39" cy="347.07" r="0.32" fill="#555" stroke="none" stroke-width="0.7"/>
<circle cx="80.04" cy="339.07" r="0.32" fill="#555" stroke="none" stroke-width="0.7"/>
<circle cx="101.46" cy="352.58" r="0.32" fill="#555" stroke="none" stroke-width="0.7"/>
<circle cx="77.31" cy="344.55" r="0.32" fill="#555" stroke="none" stroke-width="0.7"/>
<circle cx="93.15" cy="368.94" r="0.32" fill="#555" stroke="none" stroke-width="0.7"/>
<circle cx="80.85" cy="337.27" r="0.32" fill="#555" stroke="none" stroke-width="0.7"/>
<circle cx="73.21" cy="360.08" r="0.32" fill="#555" stroke="none" stroke-width="0.7"/>
<circle cx="73.14" cy="339.38" r="0.32" fill="#555" stroke="none" stroke-width="0.7"/>
<circle cx="66.72" cy="344.13" r="0.32" fill="#555" stroke="none" stroke-width="0.7"/>
<circle cx="78.13" cy="345.54" r="0.32" fill="#555" stroke="none" stroke-width="0.7"/>
<circle cx="78.17" cy="385.11" r="0.32" fill="#555" stroke="none" stroke-width="0.7"/>
<circle cx="94.84" cy="341.07" r="0.32" fill="#555" stroke="none" stroke-width="0.7"/>
<circle cx="81.26" cy="354.00" r="0.32" fill="#555" stroke="none" stroke-width="0.7"/>
<circle cx="76.69" cy="365.00" r="0.32" fill="#555" stroke="none" stroke-width="0.7"/>
<circle cx="74.84" cy="349.26" r="0.32" fill="#555" stroke="none" stroke-width="0.7"/>
<circle cx="74.44" cy="351.85" r="0.32" fill="#555" stroke="none" stroke-width="0.7"/>
<circle cx="90.21" cy="361.93" r="0.32" fill="#555" stroke="none" stroke-width="0.7"/>
<circle cx="70.42" cy="362.39" r="0.32" fill="#555" stroke="none" stroke-width="0.7"/>
<circle cx="80.13" cy="363.23" r="0.32" fill="#555" stroke="none" stroke-width="0.7"/>
<circle cx="77.41" cy="331.05" r="0.32" fill="#555" stroke="none" stroke-width="0.7"/>
<circle cx="82.28" cy="355.62" r="0.32" fill="#555" stroke="none" stroke-width="0.7"/>
<circle cx="82.83" cy="338.02" r="0.32" fill="#555" stroke="none" stroke-width="0.7"/>
<circle cx="78.77" cy="345.09" r="0.32" fill="#555" stroke="none" stroke-width="0.7"/>
<circle cx="71.47" cy="357.07" r="0.32" fill="#555" stroke="none" stroke-width="0.7"/>
<circle cx="81.35" cy="342.74" r="0.32" fill="#555" stroke="none" stroke-width="0.7"/>
<circle cx="72.53" cy="365.91" r="0.32" fill="#555" stroke="none" stroke-width="0.7"/>
<circle cx="77.48" cy="327.11" r="0.32" fill="#555" stroke="none" stroke-width="0.7"/>
<circle cx="69.81" cy="357.85" r="0.32" fill="#555" stroke="none" stroke-width="0.7"/>
<circle cx="93.89" cy="366.43" r="0.32" fill="#555" stroke="none" stroke-width="0.7"/>
<circle cx="81.48" cy="355.27" r="0.32" fill="#555" stroke="none" stroke-width="0.7"/>
<circle cx="67.94" cy="347.80" r="0.32" fill="#555" stroke="none" stroke-width="0.7"/>
<circle cx="74.84" cy="344.10" r="0.32" fill="#555" stroke="none" stroke-width="0.7"/>
<circle cx="78.60" cy="348.48" r="0.32" fill="#555" stroke="none" stroke-width="0.7"/>
<circle cx="81.20" cy="369.49" r="0.32" fill="#555" stroke="none" stroke-width="0.7"/>
<circle cx="44.29" cy="346.23" r="0.30" fill="#666" stroke="none" stroke-width="0.7"/>
<circle cx="62.30" cy="369.64" r="0.30" fill="#666" stroke="none" stroke-width="0.7"/>
<circle cx="49.92" cy="336.58" r="0.30" fill="#666" stroke="none" stroke-width="0.7"/>
<circle cx="52.02" cy="371.56" r="0.30" fill="#666" stroke="none" stroke-width="0.7"/>
<circle cx="52.26" cy="335.04" r="0.30" fill="#666" stroke="none" stroke-width="0.7"/>
<circle cx="61.86" cy="362.16" r="0.30" fill="#666" stroke="none" stroke-width="0.7"/>
<circle cx="67.72" cy="384.40" r="0.30" fill="#666" stroke="none" stroke-width="0.7"/>
<circle cx="67.57" cy="354.28" r="0.30" fill="#666" stroke="none" stroke-width="0.7"/>
<circle cx="64.49" cy="346.29" r="0.30" fill="#666" stroke="none" stroke-width="0.7"/>
<circle cx="50.89" cy="351.98" r="0.30" fill="#666" stroke="none" stroke-width="0.7"/>
<circle cx="68.17" cy="381.68" r="0.30" fill="#666" stroke="none" stroke-width="0.7"/>
<circle cx="48.95" cy="349.70" r="0.30" fill="#666" stroke="none" stroke-width="0.7"/>
<circle cx="52.24" cy="349.80" r="0.30" fill="#666" stroke="none" stroke-width="0.7"/>
<circle cx="53.08" cy="351.25" r="0.30" fill="#666" stroke="none" stroke-width="0.7"/>
<circle cx="47.46" cy="361.83" r="0.30" fill="#666" stroke="none" stroke-width="0.7"/>
<circle cx="64.32" cy="360.43" r="0.30" fill="#666" stroke="none" stroke-width="0.7"/>
<circle cx="65.42" cy="361.77" r="0.30" fill="#666" stroke="none" stroke-width="0.7"/>
<circle cx="46.94" cy="373.54" r="0.30" fill="#666" stroke="none" stroke-width="0.7"/>
<circle cx="66.67" cy="344.89" r="0.30" fill="#666" stroke="none" stroke-width="0.7"/>
<circle cx="42.62" cy="358.94" r="0.30" fill="#666" stroke="none" stroke-width="0.7"/>
<circle cx="57.24" cy="362.05" r="0.30" fill="#666" stroke="none" stroke-width="0.7"/>
<circle cx="69.06" cy="367.07" r="0.30" fill="#666" stroke="none" stroke-width="0.7"/>
<circle cx="64.52" cy="331.84" r="0.30" fill="#666" stroke="none" stroke-width="0.7"/>
<circle cx="57.31" cy="375.28" r="0.30" fill="#666" stroke="none" stroke-width="0.7"/>
<circle cx="44.35" cy="332.90" r="0.30" fill="#666" stroke="none" stroke-width="0.7"/>
<circle cx="62.64" cy="381.94" r="0.30" fill="#666" stroke="none" stroke-width="0.7"/>
<circle cx="44.37" cy="366.05" r="0.30" fill="#666" stroke="none" stroke-width="0.7"/>
<circle cx="46.03" cy="372.75" r="0.30" fill="#666" stroke="none" stroke-width="0.7"/>
<circle cx="60.17" cy="342.73" r="0.30" fill="#666" stroke="none" stroke-width="0.7"/>
<circle cx="48.17" cy="373.92" r="0.30" fill="#666" stroke="none" stroke-width="0.7"/>
<circle cx="56.60" cy="373.88" r="0.30" fill="#666" stroke="none" stroke-width="0.7"/>
<circle cx="53.04" cy="348.27" r="0.30" fill="#666" stroke="none" stroke-width="0.7"/>
<circle cx="69.11" cy="368.34" r="0.30" fill="#666" stroke="none" stroke-width="0.7"/>
<circle cx="55.82" cy="360.24" r="0.30" fill="#666" stroke="none" stroke-width="0.7"/>
<circle cx="62.19" cy="370.49" r="0.30" fill="#666" stroke="none" stroke-width="0.7"/>
<circle cx="67.62" cy="352.64" r="0.30" fill="#666" stroke="none" stroke-width="0.7"/>
<circle cx="65.13" cy="368.00" r="0.30" fill="#666" stroke="none" stroke-width="0.7"/>
<circle cx="65.90" cy="376.35" r="0.30" fill="#666" stroke="none" stroke-width="0.7"/>
<circle cx="65.35" cy="381.32" r="0.30" fill="#666" stroke="none" stroke-width="0.7"/>
<circle cx="68.82" cy="366.42" r="0.30" fill="#666" stroke="none" stroke-width="0.7"/>
<circle cx="56.67" cy="370.61" r="0.30" fill="#666" stroke="none" stroke-width="0.7"/>
<circle cx="64.46" cy="353.30" r="0.30" fill="#666" stroke="none" stroke-width="0.7"/>
<circle cx="53.77" cy="336.77" r="0.30" fill="#666" stroke="none" stroke-width="0.7"/>
<circle cx="62.75" cy="387.46" r="0.30" fill="#666" stroke="none" stroke-width="0.7"/>
<circle cx="52.51" cy="338.06" r="0.30" fill="#666" stroke="none" stroke-width="0.7"/>
<circle cx="47.72" cy="353.50" r="0.30" fill="#666" stroke="none" stroke-width="0.7"/>
<circle cx="50.18" cy="386.19" r="0.30" fill="#666" stroke="none" stroke-width="0.7"/>
<circle cx="43.66" cy="346.51" r="0.30" fill="#666" stroke="none" stroke-width="0.7"/>
<circle cx="45.21" cy="366.88" r="0.30" fill="#666" stroke="none" stroke-width="0.7"/>
<circle cx="63.73" cy="338.77" r="0.30" fill="#666" stroke="none" stroke-width="0.7"/>
<circle cx="43.75" cy="355.53" r="0.30" fill="#666" stroke="none" stroke-width="0.7"/>
<circle cx="58.35" cy="382.56" r="0.30" fill="#666" stroke="none" stroke-width="0.7"/>
<circle cx="43.02" cy="334.52" r="0.30" fill="#666" stroke="none" stroke-width="0.7"/>
<circle cx="47.17" cy="341.04" r="0.30" fill="#666" stroke="none" stroke-width="0.7"/>
<circle cx="48.59" cy="371.03" r="0.30" fill="#666" stroke="none" stroke-width="0.7"/>
<circle cx="58.65" cy="341.44" r="0.30" fill="#666" stroke="none" stroke-width="0.7"/>
<circle cx="47.18" cy="344.86" r="0.30" fill="#666" stroke="none" stroke-width="0.7"/>
<circle cx="46.83" cy="373.45" r="0.30" fill="#666" stroke="none" stroke-width="0.7"/>
<circle cx="50.73" cy="360.89" r="0.30" fill="#666" stroke="none" stroke-width="0.7"/>
<circle cx="64.88" cy="356.77" r="0.30" fill="#666" stroke="none" stroke-width="0.7"/>
<path d="M63.8 335.40 C76.70 343.82 84.60 345.44 84.60 351.60 C84.60 358.15 77.53 360.34 63.8 369.80" fill="none" stroke="#1c1c1c" stroke-width="0.55"/>
<path d="M63.8 337.57 C75.00 344.86 81.87 346.27 81.87 351.60 C81.87 357.28 75.72 359.17 63.8 367.37" fill="none" stroke="#1c1c1c" stroke-width="0.55"/>
<path d="M63.8 339.73 C73.31 345.90 79.13 347.09 79.13 351.60 C79.13 356.40 73.92 358.00 63.8 364.93" fill="none" stroke="#1c1c1c" stroke-width="0.55"/>
<path d="M63.8 341.90 C71.61 346.94 76.40 347.91 76.40 351.60 C76.40 355.52 72.12 356.83 63.8 362.50" fill="none" stroke="#1c1c1c" stroke-width="0.55"/>
<path d="M63.8 344.07 C69.92 347.98 73.67 348.74 73.67 351.60 C73.67 354.65 70.31 355.66 63.8 360.07" fill="none" stroke="#1c1c1c" stroke-width="0.55"/>
<path d="M63.8 346.23 C68.22 349.02 70.93 349.56 70.93 351.60 C70.93 353.77 68.51 354.50 63.8 357.63" fill="none" stroke="#1c1c1c" stroke-width="0.55"/>
<path d="M63.8 348.40 C66.53 350.06 68.20 350.38 68.20 351.60 C68.20 352.90 66.70 353.33 63.8 355.20" fill="none" stroke="#1c1c1c" stroke-width="0.55"/>
<path d="M60.09 333.67 C61.91 333.54 63.99 334.10 64.90 336.71 C65.81 339.32 65.56 345.02 65.55 349.31 C65.53 353.60 65.06 358.48 64.80 362.44 C64.53 366.39 64.51 370.40 63.94 373.04 C63.37 375.68 62.69 377.17 61.37 378.29 C60.05 379.41 57.86 379.99 56.02 379.76 C54.19 379.53 51.67 378.94 50.35 376.93 C49.03 374.91 48.39 371.19 48.11 367.69 C47.82 364.19 48.21 359.65 48.64 355.93 C49.07 352.20 49.78 348.40 50.67 345.32 C51.56 342.24 52.42 339.39 53.99 337.44 C55.56 335.50 58.27 333.79 60.09 333.67 Z" fill="none" stroke="#222" stroke-width="0.45"/>
<path d="M59.90 334.80 C61.60 334.68 63.55 335.22 64.40 337.70 C65.25 340.18 65.02 345.62 65.00 349.70 C64.98 353.78 64.55 358.43 64.30 362.20 C64.05 365.97 64.03 369.78 63.50 372.30 C62.97 374.82 62.33 376.23 61.10 377.30 C59.87 378.37 57.82 378.92 56.10 378.70 C54.38 378.48 52.03 377.92 50.80 376.00 C49.57 374.08 48.97 370.53 48.70 367.20 C48.43 363.87 48.80 359.55 49.20 356.00 C49.60 352.45 50.27 348.83 51.10 345.90 C51.93 342.97 52.73 340.25 54.20 338.40 C55.67 336.55 58.20 334.92 59.90 334.80 Z" fill="#151515"/>
<path d="M59.20 340.11 C60.46 340.02 61.90 340.43 62.53 342.33 C63.16 344.24 62.98 348.40 62.97 351.53 C62.96 354.65 62.64 358.21 62.45 361.10 C62.27 363.99 62.26 366.91 61.86 368.84 C61.47 370.76 61.00 371.85 60.09 372.67 C59.17 373.48 57.66 373.91 56.39 373.74 C55.12 373.57 53.38 373.14 52.46 371.67 C51.55 370.20 51.11 367.48 50.91 364.93 C50.71 362.38 50.98 359.07 51.28 356.35 C51.58 353.63 52.07 350.86 52.69 348.61 C53.30 346.37 53.89 344.29 54.98 342.87 C56.07 341.45 57.94 340.20 59.20 340.11 Z" fill="#2a2a2a" stroke="#8c8c8c" stroke-width="0.38"/>
<path d="M58.60 344.61 C59.49 344.54 60.50 344.84 60.94 346.25 C61.39 347.66 61.26 350.75 61.26 353.07 C61.25 355.39 61.02 358.03 60.89 360.17 C60.76 362.31 60.75 364.48 60.48 365.91 C60.20 367.34 59.87 368.14 59.23 368.75 C58.59 369.35 57.52 369.66 56.63 369.54 C55.74 369.42 54.51 369.10 53.87 368.01 C53.23 366.92 52.92 364.90 52.78 363.01 C52.64 361.12 52.83 358.66 53.04 356.65 C53.25 354.63 53.59 352.58 54.03 350.91 C54.46 349.25 54.88 347.70 55.64 346.65 C56.40 345.60 57.72 344.67 58.60 344.61 Z" fill="none" stroke="#a4a4a4" stroke-width="0.38"/>
<path d="M58.06 348.69 C58.61 348.65 59.23 348.85 59.50 349.82 C59.78 350.78 59.70 352.89 59.70 354.47 C59.69 356.06 59.55 357.86 59.47 359.32 C59.39 360.79 59.39 362.27 59.22 363.24 C59.05 364.22 58.84 364.77 58.45 365.18 C58.05 365.60 57.40 365.81 56.85 365.73 C56.30 365.64 55.55 365.42 55.15 364.68 C54.76 363.93 54.57 362.56 54.48 361.26 C54.39 359.97 54.51 358.30 54.64 356.92 C54.77 355.54 54.98 354.14 55.25 353.00 C55.51 351.86 55.77 350.81 56.24 350.09 C56.71 349.37 57.52 348.74 58.06 348.69 Z" fill="none" stroke="#bcbcbc" stroke-width="0.38"/>
<path d="M56.60 370.50 C57.00 359.50 58.00 349.50 59.10 343.50" fill="none" stroke="#f2f2f2" stroke-width="1.0" stroke-linecap="round"/>
<rect x="39.60" y="324.40" width="25.30" height="53.20" fill="none" stroke="#4b90c9" stroke-width="0.9"/>
<text x="0" y="0" transform="translate(41.30 322.61) scale(1.0929 1)" font-size="6.41" text-anchor="start" fill="#4b90c9" textLength="13.36" lengthAdjust="spacingAndGlyphs">LM2</text>
<text x="0" y="0" transform="translate(41.30 332.54) scale(1.0929 1)" font-size="7.32" text-anchor="start" fill="#222" textLength="19.76" lengthAdjust="spacingAndGlyphs">77.0%</text>
<rect x="39.50" y="429.00" width="79.30" height="79.10" fill="#fff" stroke="#8a8a8a" stroke-width="0.7"/>
<text x="0" y="0" transform="translate(77.60 424.96) scale(1.0929 1)" font-size="9.88" text-anchor="middle" fill="#222">Obesity</text>
<text x="0" y="0" transform="translate(34.60 440.00) scale(1.0929 1)" font-size="8.60" text-anchor="end" fill="#222" textLength="12.08" lengthAdjust="spacingAndGlyphs">10<tspan font-size="6.59" dy="-3.1">5</tspan><tspan dy="3.1" font-size="0.92">​</tspan></text>
<line x1="37.30" y1="436.50" x2="39.50" y2="436.50" stroke="#333" stroke-width="0.6"/>
<text x="0" y="0" transform="translate(34.60 459.00) scale(1.0929 1)" font-size="8.60" text-anchor="end" fill="#222" textLength="12.08" lengthAdjust="spacingAndGlyphs">10<tspan font-size="6.59" dy="-3.1">4</tspan><tspan dy="3.1" font-size="0.92">​</tspan></text>
<line x1="37.30" y1="455.50" x2="39.50" y2="455.50" stroke="#333" stroke-width="0.6"/>
<text x="0" y="0" transform="translate(34.60 478.30) scale(1.0929 1)" font-size="8.60" text-anchor="end" fill="#222" textLength="12.08" lengthAdjust="spacingAndGlyphs">10<tspan font-size="6.59" dy="-3.1">3</tspan><tspan dy="3.1" font-size="0.92">​</tspan></text>
<line x1="37.30" y1="474.80" x2="39.50" y2="474.80" stroke="#333" stroke-width="0.6"/>
<text x="0" y="0" transform="translate(33.90 497.40) scale(1.0929 1)" font-size="8.60" text-anchor="end" fill="#222">0</text>
<text x="0" y="0" transform="translate(44.60 521.40) scale(1.0929 1)" font-size="8.60" text-anchor="middle" fill="#222" textLength="15.56" lengthAdjust="spacingAndGlyphs">–10<tspan font-size="6.59" dy="-3.1">3</tspan><tspan dy="3.1" font-size="0.92">​</tspan></text>
<text x="0" y="0" transform="translate(58.60 521.40) scale(1.0929 1)" font-size="8.60" text-anchor="middle" fill="#222">0</text>
<text x="0" y="0" transform="translate(71.00 521.40) scale(1.0929 1)" font-size="8.60" text-anchor="middle" fill="#222" textLength="11.71" lengthAdjust="spacingAndGlyphs">10<tspan font-size="6.59" dy="-3.1">3</tspan><tspan dy="3.1" font-size="0.92">​</tspan></text>
<text x="0" y="0" transform="translate(92.60 521.40) scale(1.0929 1)" font-size="8.60" text-anchor="middle" fill="#222" textLength="11.90" lengthAdjust="spacingAndGlyphs">10<tspan font-size="6.59" dy="-3.1">4</tspan><tspan dy="3.1" font-size="0.92">​</tspan></text>
<text x="0" y="0" transform="translate(111.80 521.40) scale(1.0929 1)" font-size="8.60" text-anchor="middle" fill="#222" textLength="11.90" lengthAdjust="spacingAndGlyphs">10<tspan font-size="6.59" dy="-3.1">5</tspan><tspan dy="3.1" font-size="0.92">​</tspan></text>
<line x1="44.60" y1="508.10" x2="44.60" y2="510.00" stroke="#333" stroke-width="0.6"/>
<line x1="70.20" y1="508.10" x2="70.20" y2="510.00" stroke="#333" stroke-width="0.6"/>
<line x1="92.40" y1="508.10" x2="92.40" y2="510.00" stroke="#333" stroke-width="0.6"/>
<line x1="111.10" y1="508.10" x2="111.10" y2="510.00" stroke="#333" stroke-width="0.6"/>
<line x1="42.00" y1="508.10" x2="42.00" y2="509.10" stroke="#666" stroke-width="0.45"/>
<line x1="47.00" y1="508.10" x2="47.00" y2="509.10" stroke="#666" stroke-width="0.45"/>
<line x1="49.50" y1="508.10" x2="49.50" y2="509.10" stroke="#666" stroke-width="0.45"/>
<line x1="52.00" y1="508.10" x2="52.00" y2="509.10" stroke="#666" stroke-width="0.45"/>
<line x1="54.50" y1="508.10" x2="54.50" y2="509.10" stroke="#666" stroke-width="0.45"/>
<line x1="60.50" y1="508.10" x2="60.50" y2="509.10" stroke="#666" stroke-width="0.45"/>
<line x1="63.00" y1="508.10" x2="63.00" y2="509.10" stroke="#666" stroke-width="0.45"/>
<line x1="66.00" y1="508.10" x2="66.00" y2="509.10" stroke="#666" stroke-width="0.45"/>
<line x1="73.00" y1="508.10" x2="73.00" y2="509.10" stroke="#666" stroke-width="0.45"/>
<line x1="76.00" y1="508.10" x2="76.00" y2="509.10" stroke="#666" stroke-width="0.45"/>
<line x1="79.00" y1="508.10" x2="79.00" y2="509.10" stroke="#666" stroke-width="0.45"/>
<line x1="82.00" y1="508.10" x2="82.00" y2="509.10" stroke="#666" stroke-width="0.45"/>
<line x1="85.00" y1="508.10" x2="85.00" y2="509.10" stroke="#666" stroke-width="0.45"/>
<line x1="88.00" y1="508.10" x2="88.00" y2="509.10" stroke="#666" stroke-width="0.45"/>
<line x1="90.30" y1="508.10" x2="90.30" y2="509.10" stroke="#666" stroke-width="0.45"/>
<line x1="95.50" y1="508.10" x2="95.50" y2="509.10" stroke="#666" stroke-width="0.45"/>
<line x1="98.50" y1="508.10" x2="98.50" y2="509.10" stroke="#666" stroke-width="0.45"/>
<line x1="101.50" y1="508.10" x2="101.50" y2="509.10" stroke="#666" stroke-width="0.45"/>
<line x1="104.50" y1="508.10" x2="104.50" y2="509.10" stroke="#666" stroke-width="0.45"/>
<line x1="107.00" y1="508.10" x2="107.00" y2="509.10" stroke="#666" stroke-width="0.45"/>
<line x1="109.20" y1="508.10" x2="109.20" y2="509.10" stroke="#666" stroke-width="0.45"/>
<line x1="114.00" y1="508.10" x2="114.00" y2="509.10" stroke="#666" stroke-width="0.45"/>
<line x1="116.50" y1="508.10" x2="116.50" y2="509.10" stroke="#666" stroke-width="0.45"/>
<rect x="56.30" y="507.80" width="2.00" height="1.80" fill="#111" stroke="none" stroke-width="0.7"/>
<line x1="38.60" y1="432.00" x2="39.50" y2="432.00" stroke="#666" stroke-width="0.45"/>
<line x1="38.60" y1="435.10" x2="39.50" y2="435.10" stroke="#666" stroke-width="0.45"/>
<line x1="38.60" y1="438.20" x2="39.50" y2="438.20" stroke="#666" stroke-width="0.45"/>
<line x1="38.60" y1="441.30" x2="39.50" y2="441.30" stroke="#666" stroke-width="0.45"/>
<line x1="38.60" y1="444.40" x2="39.50" y2="444.40" stroke="#666" stroke-width="0.45"/>
<line x1="38.60" y1="447.50" x2="39.50" y2="447.50" stroke="#666" stroke-width="0.45"/>
<line x1="38.60" y1="450.60" x2="39.50" y2="450.60" stroke="#666" stroke-width="0.45"/>
<line x1="38.60" y1="453.70" x2="39.50" y2="453.70" stroke="#666" stroke-width="0.45"/>
<line x1="38.60" y1="456.80" x2="39.50" y2="456.80" stroke="#666" stroke-width="0.45"/>
<line x1="38.60" y1="459.90" x2="39.50" y2="459.90" stroke="#666" stroke-width="0.45"/>
<line x1="38.60" y1="463.00" x2="39.50" y2="463.00" stroke="#666" stroke-width="0.45"/>
<line x1="38.60" y1="466.10" x2="39.50" y2="466.10" stroke="#666" stroke-width="0.45"/>
<line x1="38.60" y1="469.20" x2="39.50" y2="469.20" stroke="#666" stroke-width="0.45"/>
<line x1="38.60" y1="472.30" x2="39.50" y2="472.30" stroke="#666" stroke-width="0.45"/>
<line x1="38.60" y1="475.40" x2="39.50" y2="475.40" stroke="#666" stroke-width="0.45"/>
<line x1="38.60" y1="478.50" x2="39.50" y2="478.50" stroke="#666" stroke-width="0.45"/>
<line x1="38.60" y1="481.60" x2="39.50" y2="481.60" stroke="#666" stroke-width="0.45"/>
<line x1="38.60" y1="484.70" x2="39.50" y2="484.70" stroke="#666" stroke-width="0.45"/>
<line x1="38.60" y1="487.80" x2="39.50" y2="487.80" stroke="#666" stroke-width="0.45"/>
<line x1="38.60" y1="490.90" x2="39.50" y2="490.90" stroke="#666" stroke-width="0.45"/>
<line x1="38.60" y1="494.00" x2="39.50" y2="494.00" stroke="#666" stroke-width="0.45"/>
<line x1="38.60" y1="497.10" x2="39.50" y2="497.10" stroke="#666" stroke-width="0.45"/>
<line x1="38.60" y1="500.20" x2="39.50" y2="500.20" stroke="#666" stroke-width="0.45"/>
<line x1="38.60" y1="503.30" x2="39.50" y2="503.30" stroke="#666" stroke-width="0.45"/>
<rect x="38.00" y="492.30" width="1.70" height="4.80" fill="#111" stroke="none" stroke-width="0.7"/>
<circle cx="68.35" cy="493.03" r="0.30" fill="#777" stroke="none" stroke-width="0.7"/>
<circle cx="79.43" cy="462.37" r="0.30" fill="#777" stroke="none" stroke-width="0.7"/>
<circle cx="61.57" cy="468.92" r="0.30" fill="#777" stroke="none" stroke-width="0.7"/>
<circle cx="97.73" cy="476.95" r="0.30" fill="#777" stroke="none" stroke-width="0.7"/>
<circle cx="73.76" cy="456.78" r="0.30" fill="#777" stroke="none" stroke-width="0.7"/>
<circle cx="55.76" cy="465.51" r="0.30" fill="#777" stroke="none" stroke-width="0.7"/>
<circle cx="65.15" cy="460.61" r="0.30" fill="#777" stroke="none" stroke-width="0.7"/>
<circle cx="83.54" cy="468.93" r="0.30" fill="#777" stroke="none" stroke-width="0.7"/>
<circle cx="55.18" cy="483.47" r="0.30" fill="#777" stroke="none" stroke-width="0.7"/>
<circle cx="66.26" cy="452.05" r="0.30" fill="#777" stroke="none" stroke-width="0.7"/>
<circle cx="73.86" cy="473.85" r="0.30" fill="#777" stroke="none" stroke-width="0.7"/>
<circle cx="65.95" cy="476.37" r="0.30" fill="#777" stroke="none" stroke-width="0.7"/>
<circle cx="79.85" cy="457.41" r="0.30" fill="#777" stroke="none" stroke-width="0.7"/>
<circle cx="45.31" cy="439.29" r="0.30" fill="#777" stroke="none" stroke-width="0.7"/>
<circle cx="68.46" cy="482.76" r="0.30" fill="#777" stroke="none" stroke-width="0.7"/>
<circle cx="82.03" cy="484.70" r="0.30" fill="#777" stroke="none" stroke-width="0.7"/>
<circle cx="92.27" cy="468.19" r="0.30" fill="#777" stroke="none" stroke-width="0.7"/>
<circle cx="82.67" cy="449.65" r="0.30" fill="#777" stroke="none" stroke-width="0.7"/>
<circle cx="78.27" cy="472.71" r="0.30" fill="#777" stroke="none" stroke-width="0.7"/>
<circle cx="68.87" cy="462.69" r="0.30" fill="#777" stroke="none" stroke-width="0.7"/>
<circle cx="56.61" cy="469.68" r="0.30" fill="#777" stroke="none" stroke-width="0.7"/>
<circle cx="85.33" cy="463.60" r="0.30" fill="#777" stroke="none" stroke-width="0.7"/>
<circle cx="76.37" cy="460.03" r="0.30" fill="#777" stroke="none" stroke-width="0.7"/>
<circle cx="73.05" cy="455.91" r="0.30" fill="#777" stroke="none" stroke-width="0.7"/>
<circle cx="74.54" cy="465.38" r="0.30" fill="#777" stroke="none" stroke-width="0.7"/>
<circle cx="73.79" cy="460.72" r="0.30" fill="#777" stroke="none" stroke-width="0.7"/>
<circle cx="55.88" cy="464.06" r="0.30" fill="#777" stroke="none" stroke-width="0.7"/>
<circle cx="82.44" cy="486.95" r="0.30" fill="#777" stroke="none" stroke-width="0.7"/>
<circle cx="66.10" cy="477.59" r="0.30" fill="#777" stroke="none" stroke-width="0.7"/>
<circle cx="79.10" cy="472.71" r="0.30" fill="#777" stroke="none" stroke-width="0.7"/>
<circle cx="51.38" cy="471.89" r="0.30" fill="#777" stroke="none" stroke-width="0.7"/>
<circle cx="58.37" cy="482.12" r="0.30" fill="#777" stroke="none" stroke-width="0.7"/>
<circle cx="79.46" cy="475.41" r="0.30" fill="#777" stroke="none" stroke-width="0.7"/>
<circle cx="78.40" cy="452.67" r="0.30" fill="#777" stroke="none" stroke-width="0.7"/>
<circle cx="81.64" cy="468.91" r="0.30" fill="#777" stroke="none" stroke-width="0.7"/>
<circle cx="67.80" cy="459.44" r="0.30" fill="#777" stroke="none" stroke-width="0.7"/>
<circle cx="57.78" cy="462.79" r="0.30" fill="#777" stroke="none" stroke-width="0.7"/>
<path d="M61 454.6 C64.5 453.8 67.5 454.0 72 455.8" fill="none" stroke="#1c1c1c" stroke-width="0.55"/>
<path d="M61 456.8 C64.5 456.0 67.5 456.2 72 458.0" fill="none" stroke="#1c1c1c" stroke-width="0.55"/>
<path d="M61 459.2 C64.5 458.4 67.5 458.59999999999997 72 460.4" fill="none" stroke="#1c1c1c" stroke-width="0.55"/>
<path d="M61 462.0 C64.5 461.2 67.5 461.4 72 463.2" fill="none" stroke="#1c1c1c" stroke-width="0.55"/>
<path d="M77.44 453.49 C79.30 453.40 82.81 453.70 84.61 454.66 C86.41 455.61 87.68 457.56 88.25 459.22 C88.82 460.88 88.62 462.63 88.03 464.62 C87.45 466.62 86.25 469.13 84.72 471.19 C83.18 473.26 80.94 475.72 78.83 477.02 C76.73 478.33 74.07 479.04 72.09 479.04 C70.11 479.04 68.10 478.33 66.96 477.02 C65.81 475.72 65.26 473.26 65.24 471.19 C65.23 469.13 66.05 466.69 66.85 464.62 C67.65 462.56 68.95 460.36 70.06 458.79 C71.16 457.22 72.25 456.07 73.48 455.19 C74.71 454.30 75.59 453.58 77.44 453.49 Z" fill="none" stroke="#222" stroke-width="0.45"/>
<path d="M77.40 454.20 C79.13 454.12 82.42 454.40 84.10 455.30 C85.78 456.20 86.97 458.03 87.50 459.60 C88.03 461.17 87.85 462.82 87.30 464.70 C86.75 466.58 85.63 468.95 84.20 470.90 C82.77 472.85 80.67 475.17 78.70 476.40 C76.73 477.63 74.25 478.30 72.40 478.30 C70.55 478.30 68.67 477.63 67.60 476.40 C66.53 475.17 66.02 472.85 66.00 470.90 C65.98 468.95 66.75 466.65 67.50 464.70 C68.25 462.75 69.47 460.68 70.50 459.20 C71.53 457.72 72.55 456.63 73.70 455.80 C74.85 454.97 75.67 454.28 77.40 454.20 Z" fill="#151515"/>
<ellipse cx="79.6" cy="463.8" rx="4.6" ry="8.6" transform="rotate(40 79.6 463.8)" fill="#2a2a2a" stroke="#8c8c8c" stroke-width="0.38"/>
<ellipse cx="79.6" cy="463.8" rx="2.6" ry="6.6" transform="rotate(40 79.6 463.8)" fill="none" stroke="#a8a8a8" stroke-width="0.38"/>
<ellipse cx="79.8" cy="463.6" rx="0.6" ry="4.6" transform="rotate(38 79.8 463.6)" fill="#e4e4e4"/>
<ellipse cx="70.0" cy="472.4" rx="2.6" ry="3.2" fill="none" stroke="#9a9a9a" stroke-width="0.38"/>
<ellipse cx="67.8" cy="468.2" rx="0.8" ry="1.4" transform="rotate(30 67.8 468.2)" fill="#e0e0e0"/>
<ellipse cx="72.0" cy="477.0" rx="2.0" ry="0.6" fill="#c4c4c4"/>
<ellipse cx="69.0" cy="460.4" rx="1.5" ry="1.5" fill="#fff"/>
<path d="M58.18 450.11 C59.72 450.32 62.28 451.53 63.36 453.26 C64.44 454.99 64.64 457.76 64.66 460.50 C64.67 463.25 63.99 466.67 63.47 469.75 C62.95 472.82 62.41 476.38 61.52 478.99 C60.64 481.59 59.53 484.01 58.18 485.39 C56.83 486.77 55.08 487.70 53.42 487.28 C51.77 486.86 49.30 484.92 48.24 482.87 C47.18 480.82 46.98 477.85 47.05 475.00 C47.12 472.14 48.06 468.61 48.67 465.75 C49.28 462.90 49.82 460.17 50.72 457.88 C51.62 455.59 52.83 453.30 54.07 452.00 C55.31 450.70 56.63 449.90 58.18 450.11 Z" fill="none" stroke="#222" stroke-width="0.45"/>
<path d="M58.00 451.00 C59.43 451.20 61.80 452.35 62.80 454.00 C63.80 455.65 63.98 458.28 64.00 460.90 C64.02 463.52 63.38 466.77 62.90 469.70 C62.42 472.63 61.92 476.02 61.10 478.50 C60.28 480.98 59.25 483.28 58.00 484.60 C56.75 485.92 55.13 486.80 53.60 486.40 C52.07 486.00 49.78 484.15 48.80 482.20 C47.82 480.25 47.63 477.42 47.70 474.70 C47.77 471.98 48.63 468.62 49.20 465.90 C49.77 463.18 50.27 460.58 51.10 458.40 C51.93 456.22 53.05 454.03 54.20 452.80 C55.35 451.57 56.57 450.80 58.00 451.00 Z" fill="#151515"/>
<g transform="rotate(11 55.8 468.8)">
<ellipse cx="55.40" cy="473.40" rx="4.2" ry="9.0" fill="#2c2c2c" stroke="#8a8a8a" stroke-width="0.35"/>
<ellipse cx="55.40" cy="473.40" rx="2.8" ry="6.4" fill="none" stroke="#a6a6a6" stroke-width="0.4"/>
<ellipse cx="55.40" cy="473.40" rx="1.45" ry="3.3" fill="#f2f2f2"/>
<ellipse cx="55.60" cy="459.00" rx="2.6" ry="5.4" fill="#2c2c2c" stroke="#8a8a8a" stroke-width="0.35"/>
<ellipse cx="55.60" cy="459.20" rx="0.55" ry="1.6" fill="#ddd"/>
</g>
<rect x="39.60" y="440.40" width="25.30" height="52.70" fill="none" stroke="#4b90c9" stroke-width="0.9"/>
<text x="0" y="0" transform="translate(41.30 438.61) scale(1.0929 1)" font-size="6.41" text-anchor="start" fill="#4b90c9" textLength="13.36" lengthAdjust="spacingAndGlyphs">LM2</text>
<text x="0" y="0" transform="translate(41.30 448.54) scale(1.0929 1)" font-size="7.32" text-anchor="start" fill="#222" textLength="19.76" lengthAdjust="spacingAndGlyphs">53.5%</text>
<line x1="39.90" y1="525.40" x2="115.40" y2="525.40" stroke="#777" stroke-width="0.8"/>
<text x="0" y="0" transform="translate(77.90 535.56) scale(1.0929 1)" font-size="9.88" text-anchor="middle" fill="#222" textLength="59.02" lengthAdjust="spacingAndGlyphs">CD16-BUV737</text>
<line x1="183.30" y1="351.20" x2="183.30" y2="473.20" stroke="#8c8c8c" stroke-width="0.8"/>
<line x1="182.90" y1="473.20" x2="273.20" y2="473.20" stroke="#8c8c8c" stroke-width="0.9"/>
<line x1="178.30" y1="473.20" x2="183.30" y2="473.20" stroke="#8c8c8c" stroke-width="0.8"/>
<text x="0" y="0" transform="translate(174.00 476.56) scale(1.0929 1)" font-size="9.33" text-anchor="end" fill="#222">0</text>
<line x1="178.30" y1="442.77" x2="183.30" y2="442.77" stroke="#8c8c8c" stroke-width="0.8"/>
<text x="0" y="0" transform="translate(174.00 446.13) scale(1.0929 1)" font-size="9.33" text-anchor="end" fill="#222">10</text>
<line x1="178.30" y1="412.35" x2="183.30" y2="412.35" stroke="#8c8c8c" stroke-width="0.8"/>
<text x="0" y="0" transform="translate(174.00 415.71) scale(1.0929 1)" font-size="9.33" text-anchor="end" fill="#222">20</text>
<line x1="178.30" y1="381.92" x2="183.30" y2="381.92" stroke="#8c8c8c" stroke-width="0.8"/>
<text x="0" y="0" transform="translate(174.00 385.28) scale(1.0929 1)" font-size="9.33" text-anchor="end" fill="#222">30</text>
<line x1="178.30" y1="351.50" x2="183.30" y2="351.50" stroke="#8c8c8c" stroke-width="0.8"/>
<text x="0" y="0" transform="translate(174.00 354.86) scale(1.0929 1)" font-size="9.33" text-anchor="end" fill="#222">40</text>
<rect x="196.60" y="380.20" width="24.50" height="93.00" fill="#dcdcdc" stroke="#4d4d4d" stroke-width="0.8"/>
<rect x="235.70" y="432.30" width="24.60" height="40.90" fill="#dcdcdc" stroke="#4d4d4d" stroke-width="0.8"/>
<line x1="209.00" y1="376.30" x2="209.00" y2="383.30" stroke="#333" stroke-width="0.8"/>
<line x1="202.40" y1="376.30" x2="215.60" y2="376.30" stroke="#333" stroke-width="0.8"/>
<line x1="202.40" y1="383.30" x2="215.60" y2="383.30" stroke="#333" stroke-width="0.8"/>
<line x1="248.00" y1="423.00" x2="248.00" y2="440.30" stroke="#333" stroke-width="0.8"/>
<line x1="241.00" y1="423.00" x2="255.00" y2="423.00" stroke="#333" stroke-width="0.8"/>
<line x1="241.00" y1="440.30" x2="255.00" y2="440.30" stroke="#333" stroke-width="0.8"/>
<circle cx="198.20" cy="374.80" r="2.35" fill="#fff" stroke="#111" stroke-width="0.8"/>
<circle cx="209.00" cy="373.20" r="2.35" fill="#fff" stroke="#111" stroke-width="0.8"/>
<circle cx="219.70" cy="376.70" r="2.35" fill="#fff" stroke="#111" stroke-width="0.8"/>
<circle cx="209.00" cy="380.50" r="2.35" fill="#fff" stroke="#111" stroke-width="0.8"/>
<circle cx="209.00" cy="392.40" r="2.35" fill="#fff" stroke="#111" stroke-width="0.8"/>
<circle cx="243.30" cy="414.80" r="2.55" fill="#000" stroke="none" stroke-width="0.7"/>
<circle cx="253.10" cy="414.80" r="2.55" fill="#000" stroke="none" stroke-width="0.7"/>
<circle cx="253.10" cy="420.00" r="2.55" fill="#000" stroke="none" stroke-width="0.7"/>
<circle cx="243.30" cy="424.40" r="2.55" fill="#000" stroke="none" stroke-width="0.7"/>
<circle cx="248.00" cy="449.80" r="2.55" fill="#000" stroke="none" stroke-width="0.7"/>
<circle cx="248.00" cy="467.40" r="2.55" fill="#000" stroke="none" stroke-width="0.7"/>
<line x1="209.00" y1="358.70" x2="248.00" y2="358.70" stroke="#555" stroke-width="0.8"/>
<text x="0" y="0" transform="translate(228.20 359.52) scale(1.0929 1)" font-size="11.44" text-anchor="middle" fill="#222">**</text>
<text x="0" y="0" transform="translate(208.80 486.96) scale(1.0929 1)" font-size="9.88" text-anchor="middle" fill="#222">Lean</text>
<text x="0" y="0" transform="translate(248.80 486.96) scale(1.0929 1)" font-size="9.88" text-anchor="middle" fill="#222">Obesity</text>
<text x="0" y="0" transform="rotate(-90 151.60 412.00) translate(151.60 415.29) scale(1.0929 1)" font-size="9.70" text-anchor="middle" fill="#222" textLength="118.04" lengthAdjust="spacingAndGlyphs">LM2 (% of all myeloid cells)</text>
</g>
<g id="panel-d">
<text x="298.10" y="308.45" font-size="16" font-weight="bold" fill="#000">d</text>
<rect x="313.90" y="305.60" width="105.10" height="212.20" fill="#e6e6e6" stroke="none" stroke-width="0.7"/>
<clipPath id="cd1"><rect x="313.9" y="305.6" width="105.1" height="105.5"/></clipPath>
<clipPath id="cd2"><rect x="313.9" y="412.7" width="105.1" height="105.1"/></clipPath>
<filter id="soft" x="-5%" y="-5%" width="110%" height="110%"><feGaussianBlur stdDeviation="0.55"/></filter>
<g clip-path="url(#cd1)">
<rect x="313.90" y="305.60" width="105.10" height="105.50" fill="#020208" stroke="none" stroke-width="0.7"/>
<g filter="url(#soft)">
<circle cx="379.12" cy="383.37" r="1.80" fill="#333c94" stroke="none" stroke-width="0.7" opacity="0.61"/>
<circle cx="396.88" cy="404.14" r="2.04" fill="#181c52" stroke="#333c94" stroke-width="0.8" opacity="0.59"/>
<circle cx="317.89" cy="354.79" r="2.00" fill="#181c52" stroke="#333c94" stroke-width="0.8" opacity="0.50"/>
<ellipse cx="412.16" cy="373.77" rx="2.28" ry="1.49" transform="rotate(125 412.16 373.77)" fill="#333c94" opacity="0.43"/>
<ellipse cx="407.78" cy="318.32" rx="1.96" ry="1.28" transform="rotate(164 407.78 318.32)" fill="#333c94" opacity="0.54"/>
<circle cx="363.26" cy="332.12" r="1.42" fill="#333c94" stroke="none" stroke-width="0.7" opacity="0.54"/>
<circle cx="370.96" cy="366.00" r="1.75" fill="#181c52" stroke="#333c94" stroke-width="0.8" opacity="0.57"/>
<circle cx="316.25" cy="329.03" r="1.81" fill="#181c52" stroke="#333c94" stroke-width="0.8" opacity="0.81"/>
<ellipse cx="343.71" cy="401.44" rx="1.80" ry="1.17" transform="rotate(119 343.71 401.44)" fill="#333c94" opacity="0.81"/>
<ellipse cx="393.85" cy="323.12" rx="1.63" ry="1.06" transform="rotate(180 393.85 323.12)" fill="#333c94" opacity="0.76"/>
<ellipse cx="378.56" cy="319.71" rx="2.17" ry="1.42" transform="rotate(39 378.56 319.71)" fill="#333c94" opacity="0.42"/>
<circle cx="315.08" cy="396.79" r="1.76" fill="#333c94" stroke="none" stroke-width="0.7" opacity="0.74"/>
<ellipse cx="336.49" cy="328.90" rx="1.72" ry="1.12" transform="rotate(27 336.49 328.90)" fill="#333c94" opacity="0.55"/>
<circle cx="416.19" cy="396.89" r="1.83" fill="#181c52" stroke="#333c94" stroke-width="0.8" opacity="0.61"/>
<circle cx="370.49" cy="376.76" r="1.84" fill="#181c52" stroke="#333c94" stroke-width="0.8" opacity="0.42"/>
<circle cx="336.01" cy="403.99" r="1.67" fill="#181c52" stroke="#333c94" stroke-width="0.8" opacity="0.44"/>
<ellipse cx="386.11" cy="406.64" rx="2.07" ry="1.35" transform="rotate(24 386.11 406.64)" fill="#333c94" opacity="0.77"/>
<circle cx="407.04" cy="337.52" r="1.62" fill="#333c94" stroke="none" stroke-width="0.7" opacity="0.47"/>
<circle cx="352.14" cy="323.78" r="1.74" fill="#181c52" stroke="#333c94" stroke-width="0.8" opacity="0.87"/>
<circle cx="329.92" cy="313.34" r="1.44" fill="#181c52" stroke="#333c94" stroke-width="0.8" opacity="0.75"/>
<ellipse cx="345.97" cy="369.02" rx="2.12" ry="1.38" transform="rotate(100 345.97 369.02)" fill="#333c94" opacity="0.65"/>
<circle cx="315.25" cy="376.77" r="1.74" fill="#333c94" stroke="none" stroke-width="0.7" opacity="0.45"/>
<circle cx="349.74" cy="338.68" r="1.50" fill="#333c94" stroke="none" stroke-width="0.7" opacity="0.66"/>
<circle cx="399.29" cy="356.36" r="1.49" fill="#181c52" stroke="#333c94" stroke-width="0.8" opacity="0.52"/>
<circle cx="347.46" cy="356.41" r="1.82" fill="#333c94" stroke="none" stroke-width="0.7" opacity="0.42"/>
<circle cx="387.55" cy="312.50" r="1.77" fill="#333c94" stroke="none" stroke-width="0.7" opacity="0.38"/>
<circle cx="415.43" cy="308.97" r="1.39" fill="#333c94" stroke="none" stroke-width="0.7" opacity="0.39"/>
<circle cx="392.20" cy="394.05" r="1.49" fill="#333c94" stroke="none" stroke-width="0.7" opacity="0.71"/>
<circle cx="316.76" cy="388.13" r="1.63" fill="#181c52" stroke="#333c94" stroke-width="0.8" opacity="0.80"/>
<circle cx="315.84" cy="311.44" r="1.91" fill="#181c52" stroke="#333c94" stroke-width="0.8" opacity="0.43"/>
<circle cx="335.16" cy="384.82" r="2.07" fill="#181c52" stroke="#333c94" stroke-width="0.8" opacity="0.74"/>
<circle cx="410.75" cy="404.10" r="1.41" fill="#333c94" stroke="none" stroke-width="0.7" opacity="0.75"/>
<circle cx="369.00" cy="386.87" r="1.88" fill="#333c94" stroke="none" stroke-width="0.7" opacity="0.40"/>
<circle cx="326.04" cy="384.06" r="1.65" fill="#181c52" stroke="#333c94" stroke-width="0.8" opacity="0.52"/>
<circle cx="318.68" cy="404.49" r="1.83" fill="#181c52" stroke="#333c94" stroke-width="0.8" opacity="0.57"/>
<circle cx="324.30" cy="341.87" r="1.42" fill="#333c94" stroke="none" stroke-width="0.7" opacity="0.69"/>
<ellipse cx="377.88" cy="401.62" rx="2.26" ry="1.47" transform="rotate(93 377.88 401.62)" fill="#333c94" opacity="0.62"/>
<circle cx="371.10" cy="338.94" r="1.72" fill="#333c94" stroke="none" stroke-width="0.7" opacity="0.58"/>
<circle cx="322.96" cy="322.01" r="1.68" fill="#181c52" stroke="#333c94" stroke-width="0.8" opacity="0.45"/>
<ellipse cx="416.63" cy="361.82" rx="1.77" ry="1.16" transform="rotate(87 416.63 361.82)" fill="#333c94" opacity="0.42"/>
<circle cx="376.14" cy="392.12" r="1.84" fill="#333c94" stroke="none" stroke-width="0.7" opacity="0.34"/>
<circle cx="361.88" cy="350.25" r="2.02" fill="#181c52" stroke="#333c94" stroke-width="0.8" opacity="0.71"/>
<circle cx="325.89" cy="351.58" r="1.73" fill="#181c52" stroke="#333c94" stroke-width="0.8" opacity="0.45"/>
<circle cx="330.29" cy="394.03" r="1.51" fill="#181c52" stroke="#333c94" stroke-width="0.8" opacity="0.59"/>
<circle cx="415.53" cy="353.54" r="2.02" fill="#181c52" stroke="#333c94" stroke-width="0.8" opacity="0.48"/>
<circle cx="353.77" cy="408.90" r="1.59" fill="#181c52" stroke="#333c94" stroke-width="0.8" opacity="0.48"/>
<circle cx="352.15" cy="387.95" r="1.56" fill="#181c52" stroke="#333c94" stroke-width="0.8" opacity="0.64"/>
<ellipse cx="394.79" cy="378.49" rx="2.35" ry="1.54" transform="rotate(124 394.79 378.49)" fill="#333c94" opacity="0.58"/>
<ellipse cx="352.37" cy="379.51" rx="2.15" ry="1.40" transform="rotate(21 352.37 379.51)" fill="#333c94" opacity="0.64"/>
<circle cx="381.88" cy="366.70" r="1.77" fill="#333c94" stroke="none" stroke-width="0.7" opacity="0.46"/>
<circle cx="316.09" cy="363.21" r="1.91" fill="#181c52" stroke="#333c94" stroke-width="0.8" opacity="0.48"/>
<circle cx="340.75" cy="376.12" r="1.42" fill="#181c52" stroke="#333c94" stroke-width="0.8" opacity="0.52"/>
<circle cx="362.63" cy="391.13" r="1.68" fill="#181c52" stroke="#333c94" stroke-width="0.8" opacity="0.89"/>
<circle cx="404.59" cy="377.84" r="1.62" fill="#181c52" stroke="#333c94" stroke-width="0.8" opacity="0.63"/>
<circle cx="395.36" cy="366.72" r="1.91" fill="#181c52" stroke="#333c94" stroke-width="0.8" opacity="0.76"/>
<ellipse cx="383.52" cy="350.15" rx="1.80" ry="1.18" transform="rotate(116 383.52 350.15)" fill="#333c94" opacity="0.74"/>
<circle cx="360.37" cy="373.89" r="1.70" fill="#181c52" stroke="#333c94" stroke-width="0.8" opacity="0.89"/>
<circle cx="379.94" cy="310.93" r="1.44" fill="#181c52" stroke="#333c94" stroke-width="0.8" opacity="0.79"/>
<ellipse cx="343.62" cy="349.04" rx="1.65" ry="1.07" transform="rotate(93 343.62 349.04)" fill="#333c94" opacity="0.67"/>
<circle cx="353.45" cy="310.33" r="1.65" fill="#181c52" stroke="#333c94" stroke-width="0.8" opacity="0.45"/>
<ellipse cx="377.65" cy="342.94" rx="2.33" ry="1.52" transform="rotate(10 377.65 342.94)" fill="#333c94" opacity="0.65"/>
<circle cx="407.02" cy="306.70" r="1.57" fill="#181c52" stroke="#333c94" stroke-width="0.8" opacity="0.43"/>
<circle cx="326.03" cy="365.16" r="1.44" fill="#181c52" stroke="#333c94" stroke-width="0.8" opacity="0.53"/>
<circle cx="353.65" cy="351.28" r="1.61" fill="#181c52" stroke="#333c94" stroke-width="0.8" opacity="0.43"/>
<circle cx="338.24" cy="336.77" r="1.98" fill="#333c94" stroke="none" stroke-width="0.7" opacity="0.42"/>
<circle cx="415.16" cy="345.91" r="1.68" fill="#181c52" stroke="#333c94" stroke-width="0.8" opacity="0.67"/>
<circle cx="376.33" cy="333.49" r="1.54" fill="#333c94" stroke="none" stroke-width="0.7" opacity="0.39"/>
<ellipse cx="357.74" cy="339.63" rx="2.35" ry="1.53" transform="rotate(39 357.74 339.63)" fill="#333c94" opacity="0.70"/>
<circle cx="395.51" cy="332.03" r="1.34" fill="#333c94" stroke="none" stroke-width="0.7" opacity="0.57"/>
<circle cx="342.50" cy="322.62" r="1.71" fill="#333c94" stroke="none" stroke-width="0.7" opacity="0.50"/>
<circle cx="416.85" cy="336.94" r="1.91" fill="#181c52" stroke="#333c94" stroke-width="0.8" opacity="0.86"/>
<circle cx="377.59" cy="355.72" r="1.71" fill="#181c52" stroke="#333c94" stroke-width="0.8" opacity="0.81"/>
<circle cx="361.87" cy="401.47" r="1.48" fill="#181c52" stroke="#333c94" stroke-width="0.8" opacity="0.56"/>
<circle cx="406.45" cy="363.07" r="1.94" fill="#181c52" stroke="#333c94" stroke-width="0.8" opacity="0.81"/>
<circle cx="359.00" cy="366.18" r="1.49" fill="#181c52" stroke="#333c94" stroke-width="0.8" opacity="0.44"/>
<path d="M384.19 329.40 Q386.15 333.80 385.81 338.60" stroke="#b41cb0" stroke-width="1.8" stroke-linecap="round" fill="none" opacity="0.78"/>
<path d="M356.55 354.71 Q359.20 357.01 360.45 360.29" stroke="#b41cb0" stroke-width="2.16" stroke-linecap="round" fill="none" opacity="0.78"/>
<path d="M405.00 388.67 Q406.33 379.12 412.00 371.33" stroke="#b41cb0" stroke-width="1.8" stroke-linecap="round" fill="none" opacity="0.78"/>
<path d="M337.07 362.54 Q340.61 364.27 342.93 367.46" stroke="#b41cb0" stroke-width="1.62" stroke-linecap="round" fill="none" opacity="0.78"/>
<path d="M350.02 393.56 Q354.11 395.13 356.98 398.44" stroke="#b41cb0" stroke-width="1.62" stroke-linecap="round" fill="none" opacity="0.78"/>
<path d="M314.53 400.88 Q318.40 401.63 321.47 404.12" stroke="#b41cb0" stroke-width="1.62" stroke-linecap="round" fill="none" opacity="0.78"/>
<path d="M408.89 365.31 Q409.97 361.52 412.71 358.69" stroke="#b41cb0" stroke-width="1.62" stroke-linecap="round" fill="none" opacity="0.78"/>
<path d="M399.60 320.13 Q402.22 320.40 404.40 321.87" stroke="#b41cb0" stroke-width="1.4400000000000002" stroke-linecap="round" fill="none" opacity="0.78"/>
<path d="M355.06 402.70 Q357.57 400.26 360.94 399.30" stroke="#b41cb0" stroke-width="1.62" stroke-linecap="round" fill="none" opacity="0.78"/>
<path d="M398.40 400.19 Q400.45 397.35 403.60 395.81" stroke="#b41cb0" stroke-width="1.35" stroke-linecap="round" fill="none" opacity="0.78"/>
<path d="M345.73 327.21 Q346.45 324.68 348.27 322.79" stroke="#b41cb0" stroke-width="1.08" stroke-linecap="round" fill="none" opacity="0.78"/>
<path d="M395.16 338.94 Q397.27 339.54 398.84 341.06" stroke="#b41cb0" stroke-width="1.1700000000000002" stroke-linecap="round" fill="none" opacity="0.78"/>
<path d="M414.16 324.94 Q416.27 325.54 417.84 327.06" stroke="#b41cb0" stroke-width="1.4400000000000002" stroke-linecap="round" fill="none" opacity="0.78"/>
<circle cx="332.30" cy="323.60" r="2.90" fill="#2fe24a" stroke="none" stroke-width="0.7" opacity="0.45"/>
<circle cx="332.30" cy="323.60" r="2.10" fill="#2fe24a" stroke="none" stroke-width="0.7"/>
<circle cx="332.30" cy="323.60" r="1.05" fill="#8dffa0" stroke="none" stroke-width="0.7" opacity="0.8"/>
<circle cx="329.90" cy="346.80" r="2.90" fill="#2fe24a" stroke="none" stroke-width="0.7" opacity="0.45"/>
<circle cx="329.90" cy="346.80" r="2.10" fill="#2fe24a" stroke="none" stroke-width="0.7"/>
<circle cx="329.90" cy="346.80" r="1.05" fill="#8dffa0" stroke="none" stroke-width="0.7" opacity="0.8"/>
<circle cx="406.20" cy="320.20" r="3.00" fill="#2fe24a" stroke="none" stroke-width="0.7" opacity="0.45"/>
<circle cx="406.20" cy="320.20" r="2.20" fill="#2fe24a" stroke="none" stroke-width="0.7"/>
<circle cx="406.20" cy="320.20" r="1.10" fill="#8dffa0" stroke="none" stroke-width="0.7" opacity="0.8"/>
<circle cx="326.80" cy="386.00" r="2.80" fill="#2fe24a" stroke="none" stroke-width="0.7" opacity="0.45"/>
<circle cx="326.80" cy="386.00" r="2.00" fill="#2fe24a" stroke="none" stroke-width="0.7"/>
<circle cx="326.80" cy="386.00" r="1.00" fill="#8dffa0" stroke="none" stroke-width="0.7" opacity="0.8"/>
<circle cx="391.30" cy="373.60" r="3.00" fill="#2fe24a" stroke="none" stroke-width="0.7" opacity="0.45"/>
<circle cx="391.30" cy="373.60" r="2.20" fill="#2fe24a" stroke="none" stroke-width="0.7"/>
<circle cx="391.30" cy="373.60" r="1.10" fill="#8dffa0" stroke="none" stroke-width="0.7" opacity="0.8"/>
<circle cx="405.20" cy="322.80" r="2.30" fill="#2fe24a" stroke="none" stroke-width="0.7" opacity="0.45"/>
<circle cx="405.20" cy="322.80" r="1.50" fill="#2fe24a" stroke="none" stroke-width="0.7"/>
<circle cx="405.20" cy="322.80" r="0.75" fill="#8dffa0" stroke="none" stroke-width="0.7" opacity="0.8"/>
<circle cx="356.00" cy="356.00" r="0.90" fill="#2fe24a" stroke="none" stroke-width="0.7"/>
<circle cx="396.50" cy="401.50" r="0.90" fill="#2fe24a" stroke="none" stroke-width="0.7"/>
<path d="M338.72 375.67 Q339.41 372.13 341.68 369.33" stroke="#cdbb2a" stroke-width="2.2" stroke-linecap="round" fill="none" opacity="0.95"/>
<path d="M392.60 372.29 Q392.98 368.70 395.00 365.71" stroke="#cdbb2a" stroke-width="2.0" stroke-linecap="round" fill="none" opacity="0.95"/>
<path d="M356.92 400.32 Q358.97 400.53 360.68 401.68" stroke="#cdbb2a" stroke-width="1.8" stroke-linecap="round" fill="none" opacity="0.95"/>
</g>
<rect x="388.70" y="403.30" width="24.90" height="3.70" fill="#fff" stroke="none" stroke-width="0.7"/>
<text x="0" y="0" transform="translate(316.60 316.36) scale(1.0929 1)" font-size="9.33" text-anchor="start" fill="#fff">Lean</text>
</g>
<g clip-path="url(#cd2)">
<rect x="313.90" y="412.70" width="105.10" height="105.10" fill="#05051a" stroke="none" stroke-width="0.7"/>
<g filter="url(#soft)">
<circle cx="362.64" cy="452.19" r="1.90" fill="#2c34a0" stroke="#5a66e0" stroke-width="0.8" opacity="0.91"/>
<circle cx="329.18" cy="503.04" r="2.38" fill="#2c34a0" stroke="#5a66e0" stroke-width="0.8" opacity="0.88"/>
<circle cx="315.56" cy="465.54" r="1.98" fill="#2c34a0" stroke="#5a66e0" stroke-width="0.8" opacity="0.95"/>
<ellipse cx="407.51" cy="422.03" rx="2.48" ry="1.62" transform="rotate(46 407.51 422.03)" fill="#5a66e0" opacity="0.96"/>
<ellipse cx="372.05" cy="477.28" rx="2.57" ry="1.68" transform="rotate(13 372.05 477.28)" fill="#5a66e0" opacity="0.84"/>
<ellipse cx="319.12" cy="452.78" rx="2.22" ry="1.45" transform="rotate(81 319.12 452.78)" fill="#5a66e0" opacity="0.78"/>
<ellipse cx="387.43" cy="460.30" rx="1.88" ry="1.23" transform="rotate(159 387.43 460.30)" fill="#5a66e0" opacity="0.68"/>
<ellipse cx="389.65" cy="429.90" rx="2.37" ry="1.54" transform="rotate(156 389.65 429.90)" fill="#5a66e0" opacity="0.63"/>
<circle cx="339.44" cy="425.14" r="1.83" fill="#2c34a0" stroke="#5a66e0" stroke-width="0.8" opacity="0.79"/>
<circle cx="367.10" cy="508.95" r="1.64" fill="#2c34a0" stroke="#5a66e0" stroke-width="0.8" opacity="0.89"/>
<circle cx="375.77" cy="493.52" r="1.67" fill="#2c34a0" stroke="#5a66e0" stroke-width="0.8" opacity="0.96"/>
<circle cx="354.46" cy="490.62" r="2.21" fill="#2c34a0" stroke="#5a66e0" stroke-width="0.8" opacity="0.93"/>
<circle cx="325.38" cy="443.72" r="1.80" fill="#5a66e0" stroke="none" stroke-width="0.7" opacity="0.59"/>
<circle cx="384.41" cy="488.52" r="2.26" fill="#5a66e0" stroke="none" stroke-width="0.7" opacity="0.76"/>
<circle cx="358.38" cy="422.74" r="1.93" fill="#5a66e0" stroke="none" stroke-width="0.7" opacity="0.65"/>
<circle cx="342.40" cy="435.34" r="1.72" fill="#5a66e0" stroke="none" stroke-width="0.7" opacity="0.59"/>
<circle cx="343.89" cy="497.16" r="1.71" fill="#5a66e0" stroke="none" stroke-width="0.7" opacity="0.85"/>
<circle cx="335.47" cy="505.09" r="1.66" fill="#5a66e0" stroke="none" stroke-width="0.7" opacity="0.52"/>
<circle cx="353.96" cy="464.40" r="1.62" fill="#5a66e0" stroke="none" stroke-width="0.7" opacity="0.68"/>
<circle cx="376.43" cy="426.20" r="2.13" fill="#5a66e0" stroke="none" stroke-width="0.7" opacity="0.64"/>
<circle cx="374.56" cy="506.01" r="2.25" fill="#2c34a0" stroke="#5a66e0" stroke-width="0.8" opacity="0.65"/>
<ellipse cx="335.83" cy="414.55" rx="2.58" ry="1.69" transform="rotate(15 335.83 414.55)" fill="#5a66e0" opacity="0.74"/>
<circle cx="323.51" cy="469.35" r="1.58" fill="#5a66e0" stroke="none" stroke-width="0.7" opacity="0.63"/>
<circle cx="316.70" cy="422.45" r="1.89" fill="#2c34a0" stroke="#5a66e0" stroke-width="0.8" opacity="0.69"/>
<circle cx="377.68" cy="512.50" r="2.20" fill="#5a66e0" stroke="none" stroke-width="0.7" opacity="0.83"/>
<circle cx="342.56" cy="516.27" r="1.81" fill="#2c34a0" stroke="#5a66e0" stroke-width="0.8" opacity="0.83"/>
<circle cx="417.79" cy="426.21" r="1.65" fill="#2c34a0" stroke="#5a66e0" stroke-width="0.8" opacity="0.92"/>
<circle cx="387.63" cy="511.74" r="1.73" fill="#2c34a0" stroke="#5a66e0" stroke-width="0.8" opacity="0.93"/>
<ellipse cx="339.31" cy="476.71" rx="2.06" ry="1.34" transform="rotate(123 339.31 476.71)" fill="#5a66e0" opacity="0.66"/>
<ellipse cx="384.40" cy="474.56" rx="2.01" ry="1.31" transform="rotate(23 384.40 474.56)" fill="#5a66e0" opacity="0.63"/>
<circle cx="394.76" cy="422.64" r="2.06" fill="#5a66e0" stroke="none" stroke-width="0.7" opacity="0.74"/>
<circle cx="350.70" cy="502.78" r="1.98" fill="#2c34a0" stroke="#5a66e0" stroke-width="0.8" opacity="0.77"/>
<circle cx="375.12" cy="460.23" r="2.01" fill="#5a66e0" stroke="none" stroke-width="0.7" opacity="0.56"/>
<ellipse cx="356.36" cy="515.36" rx="2.08" ry="1.36" transform="rotate(102 356.36 515.36)" fill="#5a66e0" opacity="0.75"/>
<circle cx="374.12" cy="415.59" r="2.12" fill="#2c34a0" stroke="#5a66e0" stroke-width="0.8" opacity="0.86"/>
<circle cx="397.32" cy="447.59" r="2.12" fill="#5a66e0" stroke="none" stroke-width="0.7" opacity="0.81"/>
<ellipse cx="359.60" cy="435.70" rx="2.32" ry="1.51" transform="rotate(50 359.60 435.70)" fill="#5a66e0" opacity="0.94"/>
<circle cx="324.06" cy="478.60" r="1.73" fill="#2c34a0" stroke="#5a66e0" stroke-width="0.8" opacity="0.74"/>
<circle cx="325.53" cy="494.54" r="1.79" fill="#2c34a0" stroke="#5a66e0" stroke-width="0.8" opacity="0.63"/>
<circle cx="317.52" cy="494.19" r="1.82" fill="#5a66e0" stroke="none" stroke-width="0.7" opacity="0.51"/>
<circle cx="398.16" cy="464.97" r="2.28" fill="#2c34a0" stroke="#5a66e0" stroke-width="0.8" opacity="0.89"/>
<ellipse cx="388.04" cy="439.30" rx="2.51" ry="1.64" transform="rotate(116 388.04 439.30)" fill="#5a66e0" opacity="0.68"/>
<ellipse cx="403.56" cy="451.78" rx="2.34" ry="1.53" transform="rotate(38 403.56 451.78)" fill="#5a66e0" opacity="0.77"/>
<circle cx="401.84" cy="440.39" r="2.32" fill="#2c34a0" stroke="#5a66e0" stroke-width="0.8" opacity="0.68"/>
<ellipse cx="320.11" cy="514.25" rx="2.04" ry="1.33" transform="rotate(33 320.11 514.25)" fill="#5a66e0" opacity="0.61"/>
<circle cx="332.71" cy="511.29" r="2.06" fill="#2c34a0" stroke="#5a66e0" stroke-width="0.8" opacity="0.71"/>
<circle cx="416.57" cy="476.24" r="2.23" fill="#2c34a0" stroke="#5a66e0" stroke-width="0.8" opacity="0.82"/>
<circle cx="336.41" cy="453.79" r="2.20" fill="#2c34a0" stroke="#5a66e0" stroke-width="0.8" opacity="0.66"/>
<ellipse cx="351.45" cy="428.20" rx="2.48" ry="1.62" transform="rotate(126 351.45 428.20)" fill="#5a66e0" opacity="0.94"/>
<circle cx="386.66" cy="420.46" r="2.23" fill="#5a66e0" stroke="none" stroke-width="0.7" opacity="0.82"/>
<circle cx="361.44" cy="486.27" r="1.74" fill="#2c34a0" stroke="#5a66e0" stroke-width="0.8" opacity="0.83"/>
<circle cx="393.69" cy="453.19" r="2.17" fill="#2c34a0" stroke="#5a66e0" stroke-width="0.8" opacity="0.74"/>
<circle cx="406.37" cy="431.13" r="1.67" fill="#5a66e0" stroke="none" stroke-width="0.7" opacity="0.56"/>
<circle cx="405.65" cy="464.68" r="2.15" fill="#2c34a0" stroke="#5a66e0" stroke-width="0.8" opacity="0.81"/>
<circle cx="325.13" cy="418.70" r="2.07" fill="#5a66e0" stroke="none" stroke-width="0.7" opacity="0.66"/>
<circle cx="369.42" cy="431.57" r="1.76" fill="#2c34a0" stroke="#5a66e0" stroke-width="0.8" opacity="1.00"/>
<circle cx="395.33" cy="436.63" r="1.98" fill="#2c34a0" stroke="#5a66e0" stroke-width="0.8" opacity="0.68"/>
<circle cx="316.24" cy="431.83" r="1.88" fill="#5a66e0" stroke="none" stroke-width="0.7" opacity="0.65"/>
<circle cx="361.99" cy="471.36" r="1.77" fill="#5a66e0" stroke="none" stroke-width="0.7" opacity="0.72"/>
<circle cx="368.87" cy="469.08" r="1.71" fill="#2c34a0" stroke="#5a66e0" stroke-width="0.8" opacity="0.93"/>
<circle cx="345.86" cy="488.44" r="1.81" fill="#2c34a0" stroke="#5a66e0" stroke-width="0.8" opacity="0.93"/>
<ellipse cx="365.44" cy="479.35" rx="2.09" ry="1.37" transform="rotate(174 365.44 479.35)" fill="#5a66e0" opacity="0.77"/>
<ellipse cx="390.12" cy="478.14" rx="2.04" ry="1.33" transform="rotate(93 390.12 478.14)" fill="#5a66e0" opacity="0.86"/>
<circle cx="416.59" cy="499.56" r="1.85" fill="#2c34a0" stroke="#5a66e0" stroke-width="0.8" opacity="0.66"/>
<circle cx="334.71" cy="436.50" r="1.55" fill="#5a66e0" stroke="none" stroke-width="0.7" opacity="0.53"/>
<ellipse cx="326.30" cy="426.08" rx="2.38" ry="1.55" transform="rotate(177 326.30 426.08)" fill="#5a66e0" opacity="0.63"/>
<ellipse cx="411.62" cy="514.35" rx="2.22" ry="1.45" transform="rotate(120 411.62 514.35)" fill="#5a66e0" opacity="0.74"/>
<circle cx="352.99" cy="479.14" r="2.09" fill="#5a66e0" stroke="none" stroke-width="0.7" opacity="0.57"/>
<circle cx="377.30" cy="436.45" r="1.95" fill="#2c34a0" stroke="#5a66e0" stroke-width="0.8" opacity="0.62"/>
<circle cx="405.27" cy="508.55" r="1.81" fill="#2c34a0" stroke="#5a66e0" stroke-width="0.8" opacity="0.69"/>
<circle cx="343.40" cy="461.31" r="2.33" fill="#2c34a0" stroke="#5a66e0" stroke-width="0.8" opacity="0.76"/>
<circle cx="377.84" cy="472.31" r="1.68" fill="#2c34a0" stroke="#5a66e0" stroke-width="0.8" opacity="0.62"/>
<circle cx="356.36" cy="447.21" r="1.84" fill="#5a66e0" stroke="none" stroke-width="0.7" opacity="0.54"/>
<circle cx="332.49" cy="469.77" r="1.78" fill="#5a66e0" stroke="none" stroke-width="0.7" opacity="0.52"/>
<ellipse cx="334.34" cy="487.07" rx="1.98" ry="1.29" transform="rotate(77 334.34 487.07)" fill="#5a66e0" opacity="0.67"/>
<circle cx="382.82" cy="427.90" r="1.79" fill="#5a66e0" stroke="none" stroke-width="0.7" opacity="0.70"/>
<circle cx="379.38" cy="448.53" r="2.00" fill="#5a66e0" stroke="none" stroke-width="0.7" opacity="0.83"/>
<circle cx="393.42" cy="504.80" r="1.87" fill="#2c34a0" stroke="#5a66e0" stroke-width="0.8" opacity="0.98"/>
<circle cx="370.77" cy="448.28" r="1.75" fill="#2c34a0" stroke="#5a66e0" stroke-width="0.8" opacity="0.65"/>
<circle cx="363.42" cy="503.08" r="1.79" fill="#5a66e0" stroke="none" stroke-width="0.7" opacity="0.64"/>
<circle cx="367.91" cy="423.92" r="1.78" fill="#5a66e0" stroke="none" stroke-width="0.7" opacity="0.67"/>
<circle cx="316.01" cy="508.65" r="2.34" fill="#2c34a0" stroke="#5a66e0" stroke-width="0.8" opacity="0.98"/>
<ellipse cx="399.86" cy="516.31" rx="2.19" ry="1.43" transform="rotate(158 399.86 516.31)" fill="#5a66e0" opacity="1.00"/>
<circle cx="351.91" cy="441.53" r="1.69" fill="#2c34a0" stroke="#5a66e0" stroke-width="0.8" opacity="0.72"/>
<ellipse cx="347.94" cy="453.40" rx="2.12" ry="1.39" transform="rotate(70 347.94 453.40)" fill="#5a66e0" opacity="0.79"/>
<circle cx="404.43" cy="472.55" r="1.90" fill="#5a66e0" stroke="none" stroke-width="0.7" opacity="0.62"/>
<circle cx="315.87" cy="484.24" r="2.04" fill="#2c34a0" stroke="#5a66e0" stroke-width="0.8" opacity="0.67"/>
<circle cx="404.16" cy="483.51" r="2.20" fill="#2c34a0" stroke="#5a66e0" stroke-width="0.8" opacity="0.93"/>
<circle cx="408.54" cy="491.50" r="1.67" fill="#5a66e0" stroke="none" stroke-width="0.7" opacity="0.54"/>
<circle cx="334.12" cy="493.97" r="1.96" fill="#5a66e0" stroke="none" stroke-width="0.7" opacity="0.83"/>
<ellipse cx="414.82" cy="432.91" rx="2.37" ry="1.54" transform="rotate(166 414.82 432.91)" fill="#5a66e0" opacity="0.84"/>
<circle cx="320.72" cy="501.73" r="1.73" fill="#2c34a0" stroke="#5a66e0" stroke-width="0.8" opacity="0.65"/>
<ellipse cx="414.35" cy="418.02" rx="1.85" ry="1.21" transform="rotate(90 414.35 418.02)" fill="#5a66e0" opacity="0.94"/>
<circle cx="332.74" cy="428.53" r="2.10" fill="#5a66e0" stroke="none" stroke-width="0.7" opacity="0.74"/>
<circle cx="383.69" cy="467.64" r="1.91" fill="#2c34a0" stroke="#5a66e0" stroke-width="0.8" opacity="0.98"/>
<ellipse cx="413.92" cy="454.61" rx="1.93" ry="1.26" transform="rotate(140 413.92 454.61)" fill="#5a66e0" opacity="0.62"/>
<circle cx="414.32" cy="467.35" r="2.28" fill="#2c34a0" stroke="#5a66e0" stroke-width="0.8" opacity="0.92"/>
<ellipse cx="372.39" cy="486.43" rx="2.17" ry="1.42" transform="rotate(0 372.39 486.43)" fill="#5a66e0" opacity="0.71"/>
<circle cx="322.68" cy="486.47" r="1.75" fill="#5a66e0" stroke="none" stroke-width="0.7" opacity="0.73"/>
<circle cx="381.35" cy="457.32" r="1.60" fill="#2c34a0" stroke="#5a66e0" stroke-width="0.8" opacity="0.65"/>
<circle cx="317.96" cy="443.81" r="1.78" fill="#2c34a0" stroke="#5a66e0" stroke-width="0.8" opacity="0.80"/>
<circle cx="395.11" cy="488.34" r="2.15" fill="#5a66e0" stroke="none" stroke-width="0.7" opacity="0.67"/>
<circle cx="414.39" cy="485.77" r="1.89" fill="#2c34a0" stroke="#5a66e0" stroke-width="0.8" opacity="0.94"/>
<circle cx="367.58" cy="459.27" r="2.18" fill="#5a66e0" stroke="none" stroke-width="0.7" opacity="0.59"/>
<circle cx="368.34" cy="492.90" r="1.95" fill="#5a66e0" stroke="none" stroke-width="0.7" opacity="0.74"/>
<path d="M336.37 441.37 Q337.66 439.59 339.63 438.63" stroke="#b41cb0" stroke-width="1.4400000000000002" stroke-linecap="round" fill="none" opacity="0.78"/>
<path d="M319.53 435.15 Q321.21 435.63 322.47 436.85" stroke="#b41cb0" stroke-width="1.4400000000000002" stroke-linecap="round" fill="none" opacity="0.78"/>
<path d="M383.36 465.95 Q384.51 463.59 386.64 462.05" stroke="#b41cb0" stroke-width="1.26" stroke-linecap="round" fill="none" opacity="0.78"/>
<path d="M355.70 508.98 Q358.75 509.30 361.30 511.02" stroke="#b41cb0" stroke-width="1.62" stroke-linecap="round" fill="none" opacity="0.78"/>
<path d="M403.77 469.00 Q404.00 466.82 405.23 465.00" stroke="#b41cb0" stroke-width="1.1700000000000002" stroke-linecap="round" fill="none" opacity="0.78"/>
<path d="M316.70 452.33 Q317.42 453.93 317.30 455.67" stroke="#b41cb0" stroke-width="1.1700000000000002" stroke-linecap="round" fill="none" opacity="0.78"/>
<path d="M370.90 476.36 Q372.16 476.72 373.10 477.64" stroke="#b41cb0" stroke-width="1.08" stroke-linecap="round" fill="none" opacity="0.78"/>
<path d="M408.03 449.35 Q409.29 448.13 410.97 447.65" stroke="#b41cb0" stroke-width="1.4400000000000002" stroke-linecap="round" fill="none" opacity="0.78"/>
<path d="M330.80 426.56 Q332.11 426.70 333.20 427.44" stroke="#b41cb0" stroke-width="1.08" stroke-linecap="round" fill="none" opacity="0.78"/>
<circle cx="352.40" cy="444.90" r="3.40" fill="#2fe24a" stroke="none" stroke-width="0.7" opacity="0.45"/>
<circle cx="352.40" cy="444.90" r="2.60" fill="#2fe24a" stroke="none" stroke-width="0.7"/>
<circle cx="352.40" cy="444.90" r="1.30" fill="#8dffa0" stroke="none" stroke-width="0.7" opacity="0.8"/>
<circle cx="387.70" cy="459.30" r="3.30" fill="#2fe24a" stroke="none" stroke-width="0.7" opacity="0.45"/>
<circle cx="387.70" cy="459.30" r="2.50" fill="#2fe24a" stroke="none" stroke-width="0.7"/>
<circle cx="387.70" cy="459.30" r="1.25" fill="#8dffa0" stroke="none" stroke-width="0.7" opacity="0.8"/>
<circle cx="327.40" cy="473.60" r="3.20" fill="#2fe24a" stroke="none" stroke-width="0.7" opacity="0.45"/>
<circle cx="327.40" cy="473.60" r="2.40" fill="#2fe24a" stroke="none" stroke-width="0.7"/>
<circle cx="327.40" cy="473.60" r="1.20" fill="#8dffa0" stroke="none" stroke-width="0.7" opacity="0.8"/>
<circle cx="329.50" cy="486.40" r="3.10" fill="#2fe24a" stroke="none" stroke-width="0.7" opacity="0.45"/>
<circle cx="329.50" cy="486.40" r="2.30" fill="#2fe24a" stroke="none" stroke-width="0.7"/>
<circle cx="329.50" cy="486.40" r="1.15" fill="#8dffa0" stroke="none" stroke-width="0.7" opacity="0.8"/>
<circle cx="408.20" cy="504.60" r="3.20" fill="#2fe24a" stroke="none" stroke-width="0.7" opacity="0.45"/>
<circle cx="408.20" cy="504.60" r="2.40" fill="#2fe24a" stroke="none" stroke-width="0.7"/>
<circle cx="408.20" cy="504.60" r="1.20" fill="#8dffa0" stroke="none" stroke-width="0.7" opacity="0.8"/>
<circle cx="417.30" cy="480.30" r="2.80" fill="#2fe24a" stroke="none" stroke-width="0.7" opacity="0.45"/>
<circle cx="417.30" cy="480.30" r="2.00" fill="#2fe24a" stroke="none" stroke-width="0.7"/>
<circle cx="417.30" cy="480.30" r="1.00" fill="#8dffa0" stroke="none" stroke-width="0.7" opacity="0.8"/>
<circle cx="406.20" cy="442.00" r="2.50" fill="#2fe24a" stroke="none" stroke-width="0.7" opacity="0.45"/>
<circle cx="406.20" cy="442.00" r="1.70" fill="#2fe24a" stroke="none" stroke-width="0.7"/>
<circle cx="406.20" cy="442.00" r="0.85" fill="#8dffa0" stroke="none" stroke-width="0.7" opacity="0.8"/>
<path d="M359.73 421.51 Q362.10 418.78 365.47 417.49" stroke="#2fe24a" stroke-width="2.6" stroke-linecap="round" fill="none" opacity="0.95"/>
<path d="M320.90 494.00 Q322.60 493.57 324.30 494.00" stroke="#2fe24a" stroke-width="2.0" stroke-linecap="round" fill="none" opacity="0.95"/>
<path d="M347.08 446.39 Q349.40 447.52 350.92 449.61" stroke="#2fe24a" stroke-width="1.6" stroke-linecap="round" fill="none" opacity="0.8"/>
<path d="M357.12 441.68 Q358.83 440.53 360.88 440.32" stroke="#2fe24a" stroke-width="1.2" stroke-linecap="round" fill="none" opacity="0.7"/>
<path d="M352.74 453.52 Q353.37 454.93 353.26 456.48" stroke="#2fe24a" stroke-width="1.2" stroke-linecap="round" fill="none" opacity="0.6"/>
<circle cx="321.00" cy="443.60" r="1.30" fill="#e8d8c0" stroke="none" stroke-width="0.7"/>
<circle cx="369.80" cy="505.20" r="1.20" fill="#e8e4d0" stroke="none" stroke-width="0.7"/>
<circle cx="409.20" cy="448.80" r="1.10" fill="#e8d838" stroke="none" stroke-width="0.7"/>
<circle cx="392.50" cy="417.50" r="1.20" fill="#ddd" stroke="none" stroke-width="0.7" opacity="0.8"/>
</g>
<rect x="384.00" y="508.60" width="25.00" height="3.70" fill="#fff" stroke="none" stroke-width="0.7"/>
<text x="0" y="0" transform="translate(316.60 424.76) scale(1.0929 1)" font-size="9.33" text-anchor="start" fill="#fff">Obesity</text>
</g>
<text x="0" y="0" transform="rotate(-90 303.00 412.50) translate(303.00 416.12) scale(1.0929 1)" font-size="10.61" text-anchor="middle" fill="#222" textLength="118.49" lengthAdjust="spacingAndGlyphs"><tspan fill="#f62cf2">CD68</tspan><tspan fill="#222">/</tspan><tspan fill="#35e03a">S100A9</tspan><tspan fill="#222">/</tspan><tspan fill="#e4e03c">TUNEL</tspan><tspan fill="#222">/</tspan><tspan fill="#2b47c9">DAPI</tspan></text>
<text x="0" y="0" transform="translate(560.40 334.66) scale(1.0929 1)" font-size="9.88" text-anchor="middle" fill="#222">Apoptosis</text>
<line x1="479.50" y1="349.50" x2="479.50" y2="473.10" stroke="#8c8c8c" stroke-width="0.8"/>
<line x1="479.10" y1="473.10" x2="634.00" y2="473.10" stroke="#8c8c8c" stroke-width="0.9"/>
<line x1="474.30" y1="473.10" x2="479.50" y2="473.10" stroke="#8c8c8c" stroke-width="0.8"/>
<text x="0" y="0" transform="translate(470.30 476.46) scale(1.0929 1)" font-size="9.33" text-anchor="end" fill="#222">0</text>
<line x1="474.30" y1="448.44" x2="479.50" y2="448.44" stroke="#8c8c8c" stroke-width="0.8"/>
<text x="0" y="0" transform="translate(470.30 451.80) scale(1.0929 1)" font-size="9.33" text-anchor="end" fill="#222">2</text>
<line x1="474.30" y1="423.78" x2="479.50" y2="423.78" stroke="#8c8c8c" stroke-width="0.8"/>
<text x="0" y="0" transform="translate(470.30 427.14) scale(1.0929 1)" font-size="9.33" text-anchor="end" fill="#222">4</text>
<line x1="474.30" y1="399.12" x2="479.50" y2="399.12" stroke="#8c8c8c" stroke-width="0.8"/>
<text x="0" y="0" transform="translate(470.30 402.48) scale(1.0929 1)" font-size="9.33" text-anchor="end" fill="#222">6</text>
<line x1="474.30" y1="374.46" x2="479.50" y2="374.46" stroke="#8c8c8c" stroke-width="0.8"/>
<text x="0" y="0" transform="translate(470.30 377.82) scale(1.0929 1)" font-size="9.33" text-anchor="end" fill="#222">8</text>
<line x1="474.30" y1="349.80" x2="479.50" y2="349.80" stroke="#8c8c8c" stroke-width="0.8"/>
<text x="0" y="0" transform="translate(470.30 353.16) scale(1.0929 1)" font-size="9.33" text-anchor="end" fill="#222">10</text>
<rect x="492.20" y="431.70" width="22.70" height="41.40" fill="#dcdcdc" stroke="#4d4d4d" stroke-width="0.8"/>
<rect x="523.50" y="438.40" width="22.70" height="34.70" fill="#dcdcdc" stroke="#4d4d4d" stroke-width="0.8"/>
<rect x="567.00" y="463.80" width="23.00" height="9.30" fill="#dcdcdc" stroke="#4d4d4d" stroke-width="0.8"/>
<rect x="598.30" y="467.10" width="22.70" height="6.00" fill="#dcdcdc" stroke="#4d4d4d" stroke-width="0.8"/>
<line x1="503.40" y1="412.40" x2="503.40" y2="448.90" stroke="#333" stroke-width="0.8"/>
<line x1="497.10" y1="412.40" x2="509.70" y2="412.40" stroke="#333" stroke-width="0.8"/>
<line x1="497.10" y1="448.90" x2="509.70" y2="448.90" stroke="#333" stroke-width="0.8"/>
<line x1="534.70" y1="429.10" x2="534.70" y2="445.10" stroke="#333" stroke-width="0.8"/>
<line x1="528.40" y1="429.10" x2="541.00" y2="429.10" stroke="#333" stroke-width="0.8"/>
<line x1="528.40" y1="445.10" x2="541.00" y2="445.10" stroke="#333" stroke-width="0.8"/>
<line x1="578.50" y1="457.10" x2="578.50" y2="470.80" stroke="#333" stroke-width="0.8"/>
<line x1="572.20" y1="457.10" x2="584.80" y2="457.10" stroke="#333" stroke-width="0.8"/>
<line x1="572.20" y1="470.80" x2="584.80" y2="470.80" stroke="#333" stroke-width="0.8"/>
<line x1="609.80" y1="463.40" x2="609.80" y2="470.10" stroke="#333" stroke-width="0.8"/>
<line x1="603.50" y1="463.40" x2="616.10" y2="463.40" stroke="#333" stroke-width="0.8"/>
<line x1="603.50" y1="470.10" x2="616.10" y2="470.10" stroke="#333" stroke-width="0.8"/>
<circle cx="503.30" cy="369.60" r="2.30" fill="#fff" stroke="#111" stroke-width="0.8"/>
<circle cx="503.30" cy="407.90" r="2.30" fill="#fff" stroke="#111" stroke-width="0.8"/>
<circle cx="503.30" cy="450.70" r="2.30" fill="#fff" stroke="#111" stroke-width="0.8"/>
<circle cx="498.10" cy="463.80" r="2.30" fill="#fff" stroke="#111" stroke-width="0.8"/>
<circle cx="508.20" cy="462.60" r="2.30" fill="#fff" stroke="#111" stroke-width="0.8"/>
<circle cx="578.20" cy="439.20" r="2.30" fill="#fff" stroke="#111" stroke-width="0.8"/>
<circle cx="568.90" cy="471.20" r="2.30" fill="#fff" stroke="#111" stroke-width="0.8"/>
<circle cx="578.20" cy="469.30" r="2.30" fill="#fff" stroke="#111" stroke-width="0.8"/>
<circle cx="587.90" cy="464.50" r="2.30" fill="#fff" stroke="#111" stroke-width="0.8"/>
<circle cx="587.90" cy="470.80" r="2.30" fill="#fff" stroke="#111" stroke-width="0.8"/>
<circle cx="534.60" cy="421.70" r="2.50" fill="#000" stroke="none" stroke-width="0.7"/>
<circle cx="534.60" cy="428.00" r="2.50" fill="#000" stroke="none" stroke-width="0.7"/>
<circle cx="534.60" cy="445.90" r="2.50" fill="#000" stroke="none" stroke-width="0.7"/>
<circle cx="534.60" cy="454.50" r="2.50" fill="#000" stroke="none" stroke-width="0.7"/>
<circle cx="609.80" cy="458.90" r="2.50" fill="#000" stroke="none" stroke-width="0.7"/>
<circle cx="600.50" cy="470.80" r="2.50" fill="#000" stroke="none" stroke-width="0.7"/>
<circle cx="609.80" cy="466.40" r="2.50" fill="#000" stroke="none" stroke-width="0.7"/>
<circle cx="619.10" cy="467.50" r="2.50" fill="#000" stroke="none" stroke-width="0.7"/>
<line x1="503.30" y1="354.70" x2="534.70" y2="354.70" stroke="#555" stroke-width="0.8"/>
<text x="0" y="0" transform="translate(519.50 351.69) scale(1.0929 1)" font-size="9.70" text-anchor="middle" fill="#222">ns</text>
<line x1="578.50" y1="354.70" x2="609.80" y2="354.70" stroke="#555" stroke-width="0.8"/>
<text x="0" y="0" transform="translate(594.30 351.69) scale(1.0929 1)" font-size="9.70" text-anchor="middle" fill="#222">ns</text>
<circle cx="598.30" cy="372.50" r="1.90" fill="#fff" stroke="#111" stroke-width="0.7"/>
<text x="0" y="0" transform="translate(604.80 375.96) scale(1.0929 1)" font-size="9.88" text-anchor="start" fill="#222">Lean</text>
<circle cx="598.30" cy="385.20" r="2.10" fill="#000" stroke="none" stroke-width="0.7"/>
<text x="0" y="0" transform="translate(604.80 388.66) scale(1.0929 1)" font-size="9.88" text-anchor="start" fill="#222">Obese</text>
<text x="0" y="0" transform="translate(519.50 486.66) scale(1.0929 1)" font-size="9.88" text-anchor="middle" fill="#222">Resident</text>
<text x="0" y="0" transform="translate(594.30 486.66) scale(1.0929 1)" font-size="9.88" text-anchor="middle" fill="#222">Recruited</text>
<text x="0" y="0" transform="rotate(-90 451.70 411.80) translate(451.70 414.96) scale(1.0929 1)" font-size="9.33" text-anchor="middle" fill="#222" textLength="101.11" lengthAdjust="spacingAndGlyphs">% of CD68<tspan font-size="5.95" dy="-3.4">+</tspan><tspan dy="3.4">TUNEL</tspan><tspan font-size="5.95" dy="-3.4">+</tspan><tspan dy="3.4"> LMs</tspan></text>
</g>
<g id="panel-e">
<text x="1.40" y="560.10" font-size="16" font-weight="bold" fill="#000">e</text>
<rect x="16.10" y="558.00" width="105.00" height="212.00" fill="#f2f2f2" stroke="none" stroke-width="0.7"/>
<clipPath id="ce1"><rect x="16.1" y="558.0" width="105.0" height="104.6"/></clipPath>
<clipPath id="ce2"><rect x="16.1" y="664.4" width="105.0" height="105.6"/></clipPath>
<g clip-path="url(#ce1)">
<rect x="16.10" y="558.00" width="105.00" height="104.60" fill="#03030c" stroke="none" stroke-width="0.7"/>
<g filter="url(#soft)">
<circle cx="34.09" cy="629.77" r="1.80" fill="#1a2060" stroke="#2f3c9a" stroke-width="0.8" opacity="0.77"/>
<circle cx="82.50" cy="608.16" r="1.59" fill="#1a2060" stroke="#2f3c9a" stroke-width="0.8" opacity="0.61"/>
<circle cx="39.35" cy="640.32" r="1.43" fill="#2f3c9a" stroke="none" stroke-width="0.7" opacity="0.38"/>
<circle cx="100.31" cy="611.58" r="1.93" fill="#2f3c9a" stroke="none" stroke-width="0.7" opacity="0.36"/>
<circle cx="69.12" cy="583.22" r="1.58" fill="#1a2060" stroke="#2f3c9a" stroke-width="0.8" opacity="0.68"/>
<circle cx="17.43" cy="597.07" r="1.81" fill="#1a2060" stroke="#2f3c9a" stroke-width="0.8" opacity="0.79"/>
<circle cx="77.39" cy="566.11" r="1.77" fill="#1a2060" stroke="#2f3c9a" stroke-width="0.8" opacity="0.80"/>
<ellipse cx="98.86" cy="582.83" rx="2.01" ry="1.31" transform="rotate(176 98.86 582.83)" fill="#2f3c9a" opacity="0.79"/>
<circle cx="41.07" cy="563.34" r="1.68" fill="#1a2060" stroke="#2f3c9a" stroke-width="0.8" opacity="0.74"/>
<circle cx="119.85" cy="634.79" r="1.99" fill="#1a2060" stroke="#2f3c9a" stroke-width="0.8" opacity="0.87"/>
<circle cx="107.23" cy="622.19" r="1.74" fill="#1a2060" stroke="#2f3c9a" stroke-width="0.8" opacity="0.91"/>
<circle cx="68.35" cy="570.88" r="1.94" fill="#1a2060" stroke="#2f3c9a" stroke-width="0.8" opacity="0.85"/>
<circle cx="115.15" cy="596.80" r="2.05" fill="#1a2060" stroke="#2f3c9a" stroke-width="0.8" opacity="0.40"/>
<circle cx="33.05" cy="642.88" r="1.62" fill="#1a2060" stroke="#2f3c9a" stroke-width="0.8" opacity="0.59"/>
<circle cx="29.96" cy="654.21" r="1.52" fill="#1a2060" stroke="#2f3c9a" stroke-width="0.8" opacity="0.84"/>
<ellipse cx="63.77" cy="615.64" rx="2.19" ry="1.43" transform="rotate(152 63.77 615.64)" fill="#2f3c9a" opacity="0.70"/>
<ellipse cx="52.42" cy="608.73" rx="2.23" ry="1.45" transform="rotate(18 52.42 608.73)" fill="#2f3c9a" opacity="0.49"/>
<circle cx="106.29" cy="583.10" r="2.15" fill="#1a2060" stroke="#2f3c9a" stroke-width="0.8" opacity="0.57"/>
<ellipse cx="116.88" cy="650.72" rx="1.90" ry="1.24" transform="rotate(154 116.88 650.72)" fill="#2f3c9a" opacity="0.62"/>
<circle cx="94.84" cy="637.26" r="2.02" fill="#1a2060" stroke="#2f3c9a" stroke-width="0.8" opacity="0.80"/>
<circle cx="76.92" cy="633.87" r="1.72" fill="#1a2060" stroke="#2f3c9a" stroke-width="0.8" opacity="0.57"/>
<circle cx="29.72" cy="607.87" r="2.11" fill="#1a2060" stroke="#2f3c9a" stroke-width="0.8" opacity="0.95"/>
<circle cx="59.29" cy="596.47" r="2.07" fill="#2f3c9a" stroke="none" stroke-width="0.7" opacity="0.77"/>
<circle cx="19.86" cy="568.57" r="1.98" fill="#1a2060" stroke="#2f3c9a" stroke-width="0.8" opacity="0.83"/>
<ellipse cx="91.06" cy="660.86" rx="2.22" ry="1.45" transform="rotate(164 91.06 660.86)" fill="#2f3c9a" opacity="0.94"/>
<circle cx="68.19" cy="609.43" r="1.48" fill="#2f3c9a" stroke="none" stroke-width="0.7" opacity="0.67"/>
<circle cx="39.97" cy="621.47" r="2.03" fill="#2f3c9a" stroke="none" stroke-width="0.7" opacity="0.42"/>
<circle cx="74.42" cy="622.88" r="1.51" fill="#2f3c9a" stroke="none" stroke-width="0.7" opacity="0.72"/>
<circle cx="35.71" cy="576.45" r="1.52" fill="#1a2060" stroke="#2f3c9a" stroke-width="0.8" opacity="0.57"/>
<circle cx="52.97" cy="654.12" r="1.94" fill="#1a2060" stroke="#2f3c9a" stroke-width="0.8" opacity="0.75"/>
<circle cx="52.80" cy="620.28" r="2.17" fill="#1a2060" stroke="#2f3c9a" stroke-width="0.8" opacity="0.93"/>
<circle cx="48.68" cy="569.60" r="1.81" fill="#2f3c9a" stroke="none" stroke-width="0.7" opacity="0.51"/>
<circle cx="23.86" cy="642.49" r="1.69" fill="#2f3c9a" stroke="none" stroke-width="0.7" opacity="0.55"/>
<ellipse cx="97.13" cy="597.46" rx="1.88" ry="1.22" transform="rotate(40 97.13 597.46)" fill="#2f3c9a" opacity="0.56"/>
<circle cx="87.49" cy="628.35" r="1.55" fill="#1a2060" stroke="#2f3c9a" stroke-width="0.8" opacity="0.90"/>
<circle cx="109.67" cy="657.32" r="1.79" fill="#1a2060" stroke="#2f3c9a" stroke-width="0.8" opacity="0.57"/>
<circle cx="59.02" cy="660.48" r="1.75" fill="#1a2060" stroke="#2f3c9a" stroke-width="0.8" opacity="0.70"/>
<circle cx="116.13" cy="619.59" r="1.87" fill="#1a2060" stroke="#2f3c9a" stroke-width="0.8" opacity="0.43"/>
<circle cx="108.07" cy="609.37" r="1.64" fill="#1a2060" stroke="#2f3c9a" stroke-width="0.8" opacity="0.53"/>
<circle cx="55.78" cy="584.36" r="1.62" fill="#2f3c9a" stroke="none" stroke-width="0.7" opacity="0.73"/>
<circle cx="107.34" cy="575.65" r="1.74" fill="#2f3c9a" stroke="none" stroke-width="0.7" opacity="0.70"/>
<circle cx="103.31" cy="564.35" r="1.63" fill="#2f3c9a" stroke="none" stroke-width="0.7" opacity="0.63"/>
<circle cx="43.67" cy="588.74" r="1.78" fill="#2f3c9a" stroke="none" stroke-width="0.7" opacity="0.69"/>
<circle cx="60.31" cy="576.51" r="2.04" fill="#2f3c9a" stroke="none" stroke-width="0.7" opacity="0.46"/>
<ellipse cx="24.25" cy="593.69" rx="2.51" ry="1.64" transform="rotate(17 24.25 593.69)" fill="#2f3c9a" opacity="0.69"/>
<ellipse cx="93.92" cy="608.14" rx="2.31" ry="1.50" transform="rotate(76 93.92 608.14)" fill="#2f3c9a" opacity="0.55"/>
<circle cx="43.08" cy="657.38" r="1.87" fill="#1a2060" stroke="#2f3c9a" stroke-width="0.8" opacity="0.54"/>
<circle cx="20.01" cy="580.76" r="2.00" fill="#2f3c9a" stroke="none" stroke-width="0.7" opacity="0.64"/>
<ellipse cx="103.44" cy="640.59" rx="1.82" ry="1.19" transform="rotate(37 103.44 640.59)" fill="#2f3c9a" opacity="0.56"/>
<circle cx="104.58" cy="590.60" r="1.78" fill="#2f3c9a" stroke="none" stroke-width="0.7" opacity="0.67"/>
<ellipse cx="96.23" cy="560.05" rx="2.17" ry="1.42" transform="rotate(43 96.23 560.05)" fill="#2f3c9a" opacity="0.93"/>
<circle cx="19.52" cy="619.91" r="1.71" fill="#2f3c9a" stroke="none" stroke-width="0.7" opacity="0.54"/>
<circle cx="83.42" cy="646.38" r="1.87" fill="#2f3c9a" stroke="none" stroke-width="0.7" opacity="0.46"/>
<circle cx="77.29" cy="585.39" r="1.80" fill="#1a2060" stroke="#2f3c9a" stroke-width="0.8" opacity="0.41"/>
<circle cx="26.87" cy="568.64" r="1.68" fill="#2f3c9a" stroke="none" stroke-width="0.7" opacity="0.43"/>
<circle cx="19.71" cy="604.85" r="2.08" fill="#2f3c9a" stroke="none" stroke-width="0.7" opacity="0.78"/>
<circle cx="84.60" cy="571.98" r="2.00" fill="#2f3c9a" stroke="none" stroke-width="0.7" opacity="0.57"/>
<circle cx="72.58" cy="592.27" r="2.13" fill="#1a2060" stroke="#2f3c9a" stroke-width="0.8" opacity="0.43"/>
<circle cx="56.01" cy="631.84" r="1.76" fill="#1a2060" stroke="#2f3c9a" stroke-width="0.8" opacity="0.59"/>
<ellipse cx="90.32" cy="648.66" rx="1.77" ry="1.16" transform="rotate(42 90.32 648.66)" fill="#2f3c9a" opacity="0.77"/>
<ellipse cx="43.15" cy="630.48" rx="1.87" ry="1.22" transform="rotate(41 43.15 630.48)" fill="#2f3c9a" opacity="0.58"/>
<circle cx="49.40" cy="563.30" r="1.94" fill="#2f3c9a" stroke="none" stroke-width="0.7" opacity="0.42"/>
<circle cx="57.15" cy="590.75" r="2.00" fill="#1a2060" stroke="#2f3c9a" stroke-width="0.8" opacity="0.77"/>
<circle cx="114.77" cy="569.11" r="2.06" fill="#2f3c9a" stroke="none" stroke-width="0.7" opacity="0.74"/>
<circle cx="71.26" cy="616.53" r="2.10" fill="#1a2060" stroke="#2f3c9a" stroke-width="0.8" opacity="0.73"/>
<circle cx="49.86" cy="660.90" r="1.69" fill="#2f3c9a" stroke="none" stroke-width="0.7" opacity="0.72"/>
<circle cx="81.10" cy="561.03" r="1.53" fill="#1a2060" stroke="#2f3c9a" stroke-width="0.8" opacity="0.49"/>
<circle cx="70.39" cy="598.95" r="1.91" fill="#1a2060" stroke="#2f3c9a" stroke-width="0.8" opacity="0.75"/>
<circle cx="101.28" cy="633.26" r="1.78" fill="#1a2060" stroke="#2f3c9a" stroke-width="0.8" opacity="0.93"/>
<circle cx="82.18" cy="657.82" r="1.87" fill="#2f3c9a" stroke="none" stroke-width="0.7" opacity="0.44"/>
<circle cx="67.76" cy="632.58" r="1.63" fill="#1a2060" stroke="#2f3c9a" stroke-width="0.8" opacity="0.46"/>
<circle cx="102.06" cy="657.88" r="1.50" fill="#2f3c9a" stroke="none" stroke-width="0.7" opacity="0.52"/>
<circle cx="118.99" cy="559.66" r="1.79" fill="#2f3c9a" stroke="none" stroke-width="0.7" opacity="0.71"/>
<circle cx="49.30" cy="590.98" r="1.56" fill="#1a2060" stroke="#2f3c9a" stroke-width="0.8" opacity="0.80"/>
<circle cx="89.61" cy="580.12" r="1.92" fill="#2f3c9a" stroke="none" stroke-width="0.7" opacity="0.80"/>
<circle cx="87.31" cy="585.77" r="1.59" fill="#2f3c9a" stroke="none" stroke-width="0.7" opacity="0.51"/>
<circle cx="43.29" cy="645.74" r="1.72" fill="#1a2060" stroke="#2f3c9a" stroke-width="0.8" opacity="0.46"/>
<ellipse cx="45.67" cy="597.88" rx="2.25" ry="1.47" transform="rotate(159 45.67 597.88)" fill="#2f3c9a" opacity="0.85"/>
<circle cx="114.00" cy="606.91" r="1.96" fill="#2f3c9a" stroke="none" stroke-width="0.7" opacity="0.53"/>
<circle cx="62.10" cy="622.31" r="1.46" fill="#2f3c9a" stroke="none" stroke-width="0.7" opacity="0.71"/>
<circle cx="46.00" cy="576.89" r="1.69" fill="#1a2060" stroke="#2f3c9a" stroke-width="0.8" opacity="0.66"/>
<ellipse cx="36.51" cy="657.58" rx="2.37" ry="1.54" transform="rotate(166 36.51 657.58)" fill="#2f3c9a" opacity="0.63"/>
<circle cx="113.38" cy="631.29" r="2.04" fill="#1a2060" stroke="#2f3c9a" stroke-width="0.8" opacity="0.61"/>
<circle cx="63.87" cy="650.77" r="2.16" fill="#1a2060" stroke="#2f3c9a" stroke-width="0.8" opacity="0.90"/>
<ellipse cx="55.21" cy="572.85" rx="2.02" ry="1.32" transform="rotate(51 55.21 572.85)" fill="#2f3c9a" opacity="0.83"/>
<circle cx="71.63" cy="564.04" r="1.81" fill="#1a2060" stroke="#2f3c9a" stroke-width="0.8" opacity="0.93"/>
<ellipse cx="36.42" cy="600.34" rx="1.95" ry="1.27" transform="rotate(170 36.42 600.34)" fill="#2f3c9a" opacity="0.77"/>
<ellipse cx="99.74" cy="645.54" rx="2.10" ry="1.37" transform="rotate(59 99.74 645.54)" fill="#2f3c9a" opacity="0.83"/>
<ellipse cx="101.07" cy="621.23" rx="1.91" ry="1.24" transform="rotate(25 101.07 621.23)" fill="#2f3c9a" opacity="0.54"/>
<circle cx="24.07" cy="611.51" r="1.88" fill="#1a2060" stroke="#2f3c9a" stroke-width="0.8" opacity="0.91"/>
<ellipse cx="33.39" cy="569.68" rx="2.23" ry="1.46" transform="rotate(92 33.39 569.68)" fill="#2f3c9a" opacity="0.69"/>
<ellipse cx="112.98" cy="614.26" rx="2.12" ry="1.38" transform="rotate(26 112.98 614.26)" fill="#2f3c9a" opacity="0.90"/>
<ellipse cx="100.19" cy="651.99" rx="2.37" ry="1.55" transform="rotate(173 100.19 651.99)" fill="#2f3c9a" opacity="0.62"/>
<circle cx="72.03" cy="652.21" r="1.85" fill="#1a2060" stroke="#2f3c9a" stroke-width="0.8" opacity="0.63"/>
<circle cx="108.03" cy="596.18" r="1.69" fill="#1a2060" stroke="#2f3c9a" stroke-width="0.8" opacity="0.51"/>
<circle cx="25.63" cy="600.61" r="1.91" fill="#2f3c9a" stroke="none" stroke-width="0.7" opacity="0.36"/>
<circle cx="35.46" cy="614.39" r="1.82" fill="#2f3c9a" stroke="none" stroke-width="0.7" opacity="0.68"/>
<circle cx="30.60" cy="561.77" r="2.15" fill="#1a2060" stroke="#2f3c9a" stroke-width="0.8" opacity="0.55"/>
<ellipse cx="19.81" cy="627.27" rx="2.19" ry="1.43" transform="rotate(166 19.81 627.27)" fill="#2f3c9a" opacity="0.55"/>
<circle cx="29.75" cy="583.63" r="1.98" fill="#1a2060" stroke="#2f3c9a" stroke-width="0.8" opacity="0.86"/>
<circle cx="77.50" cy="641.36" r="1.84" fill="#1a2060" stroke="#2f3c9a" stroke-width="0.8" opacity="0.61"/>
<circle cx="57.64" cy="559.38" r="1.67" fill="#2f3c9a" stroke="none" stroke-width="0.7" opacity="0.56"/>
<circle cx="85.53" cy="618.66" r="1.52" fill="#1a2060" stroke="#2f3c9a" stroke-width="0.8" opacity="0.70"/>
<circle cx="76.47" cy="661.36" r="2.07" fill="#2f3c9a" stroke="none" stroke-width="0.7" opacity="0.60"/>
<circle cx="37.38" cy="582.32" r="1.63" fill="#2f3c9a" stroke="none" stroke-width="0.7" opacity="0.67"/>
<circle cx="55.25" cy="643.79" r="2.14" fill="#1a2060" stroke="#2f3c9a" stroke-width="0.8" opacity="0.72"/>
<circle cx="112.70" cy="579.40" r="1.84" fill="#2f3c9a" stroke="none" stroke-width="0.7" opacity="0.36"/>
<circle cx="88.82" cy="601.44" r="1.71" fill="#1a2060" stroke="#2f3c9a" stroke-width="0.8" opacity="0.80"/>
<circle cx="91.75" cy="620.01" r="1.92" fill="#1a2060" stroke="#2f3c9a" stroke-width="0.8" opacity="0.49"/>
<circle cx="82.63" cy="624.23" r="1.68" fill="#1a2060" stroke="#2f3c9a" stroke-width="0.8" opacity="0.87"/>
<ellipse cx="39.86" cy="570.47" rx="2.15" ry="1.40" transform="rotate(47 39.86 570.47)" fill="#2f3c9a" opacity="0.83"/>
<ellipse cx="18.03" cy="590.05" rx="2.28" ry="1.49" transform="rotate(62 18.03 590.05)" fill="#2f3c9a" opacity="0.83"/>
<circle cx="108.92" cy="638.14" r="1.83" fill="#1a2060" stroke="#2f3c9a" stroke-width="0.8" opacity="0.83"/>
<ellipse cx="76.81" cy="577.69" rx="2.12" ry="1.38" transform="rotate(44 76.81 577.69)" fill="#2f3c9a" opacity="0.75"/>
<circle cx="33.99" cy="593.97" r="1.97" fill="#1a2060" stroke="#2f3c9a" stroke-width="0.8" opacity="0.52"/>
<circle cx="28.65" cy="626.91" r="1.74" fill="#2f3c9a" stroke="none" stroke-width="0.7" opacity="0.64"/>
<circle cx="62.69" cy="582.76" r="2.06" fill="#2f3c9a" stroke="none" stroke-width="0.7" opacity="0.42"/>
<ellipse cx="87.06" cy="638.22" rx="2.11" ry="1.38" transform="rotate(26 87.06 638.22)" fill="#2f3c9a" opacity="0.54"/>
<circle cx="119.76" cy="592.62" r="1.60" fill="#2f3c9a" stroke="none" stroke-width="0.7" opacity="0.36"/>
<ellipse cx="116.94" cy="626.21" rx="2.25" ry="1.47" transform="rotate(114 116.94 626.21)" fill="#2f3c9a" opacity="0.52"/>
<path d="M30.90 573.30 Q33.90 575.48 35.53 578.82" stroke="#c01cc0" stroke-width="1.9800000000000002" stroke-linecap="round" fill="none" opacity="0.8"/>
<path d="M23.06 596.44 Q28.83 596.53 33.88 599.34" stroke="#c01cc0" stroke-width="1.62" stroke-linecap="round" fill="none" opacity="0.8"/>
<path d="M61.80 603.34 Q66.25 605.51 69.15 609.51" stroke="#c01cc0" stroke-width="2.16" stroke-linecap="round" fill="none" opacity="0.8"/>
<path d="M78.43 597.41 Q82.92 593.77 88.58 592.67" stroke="#c01cc0" stroke-width="1.62" stroke-linecap="round" fill="none" opacity="0.8"/>
<path d="M89.32 588.38 Q88.97 583.44 90.98 578.92" stroke="#c01cc0" stroke-width="1.9800000000000002" stroke-linecap="round" fill="none" opacity="0.8"/>
<path d="M32.12 617.12 Q36.23 616.83 40.00 618.51" stroke="#c01cc0" stroke-width="1.8" stroke-linecap="round" fill="none" opacity="0.8"/>
<path d="M26.29 618.42 Q27.37 621.54 26.85 624.80" stroke="#c01cc0" stroke-width="1.62" stroke-linecap="round" fill="none" opacity="0.8"/>
<path d="M41.01 619.91 Q43.13 621.19 44.40 623.31" stroke="#c01cc0" stroke-width="1.4400000000000002" stroke-linecap="round" fill="none" opacity="0.8"/>
<path d="M45.13 638.78 Q48.14 640.96 49.76 644.30" stroke="#c01cc0" stroke-width="1.8" stroke-linecap="round" fill="none" opacity="0.8"/>
<path d="M86.75 639.94 Q86.52 636.65 87.86 633.64" stroke="#c01cc0" stroke-width="1.62" stroke-linecap="round" fill="none" opacity="0.8"/>
<path d="M106.71 642.50 Q110.78 644.49 113.45 648.16" stroke="#c01cc0" stroke-width="2.16" stroke-linecap="round" fill="none" opacity="0.8"/>
<path d="M105.61 560.66 Q108.95 563.08 110.75 566.79" stroke="#c01cc0" stroke-width="1.62" stroke-linecap="round" fill="none" opacity="0.8"/>
<path d="M118.13 580.89 Q119.31 583.53 119.10 586.41" stroke="#c01cc0" stroke-width="1.4400000000000002" stroke-linecap="round" fill="none" opacity="0.8"/>
<path d="M76.52 564.74 Q76.37 562.69 77.21 560.81" stroke="#c01cc0" stroke-width="1.1700000000000002" stroke-linecap="round" fill="none" opacity="0.8"/>
<path d="M64.66 583.29 Q66.04 585.34 66.30 587.80" stroke="#c01cc0" stroke-width="1.4400000000000002" stroke-linecap="round" fill="none" opacity="0.8"/>
<path d="M18.73 658.52 Q20.43 656.18 23.02 654.92" stroke="#c01cc0" stroke-width="1.62" stroke-linecap="round" fill="none" opacity="0.8"/>
<path d="M69.09 655.52 Q71.47 656.20 73.25 657.92" stroke="#c01cc0" stroke-width="1.62" stroke-linecap="round" fill="none" opacity="0.8"/>
<path d="M43.74 659.10 Q46.38 657.93 49.26 658.13" stroke="#c01cc0" stroke-width="1.4400000000000002" stroke-linecap="round" fill="none" opacity="0.8"/>
<path d="M99.59 573.38 Q101.02 574.86 101.59 576.84" stroke="#c01cc0" stroke-width="1.26" stroke-linecap="round" fill="none" opacity="0.8"/>
<path d="M113.19 619.73 Q114.34 621.44 114.56 623.49" stroke="#c01cc0" stroke-width="1.26" stroke-linecap="round" fill="none" opacity="0.8"/>
<path d="M62.90 633.96 Q64.05 635.67 64.26 637.72" stroke="#c01cc0" stroke-width="1.1700000000000002" stroke-linecap="round" fill="none" opacity="0.8"/>
<path d="M92.64 597.06 Q95.10 597.32 97.15 598.71" stroke="#c01cc0" stroke-width="1.62" stroke-linecap="round" fill="none" opacity="0.8"/>
<circle cx="47.83" cy="590.29" r="2.30" fill="#e8dc50" stroke="none" stroke-width="0.7" opacity="0.5"/>
<circle cx="47.83" cy="590.29" r="1.70" fill="#f4ee88" stroke="none" stroke-width="0.7"/>
<circle cx="92.43" cy="598.46" r="2.50" fill="#e8dc50" stroke="none" stroke-width="0.7" opacity="0.5"/>
<circle cx="92.43" cy="598.46" r="1.90" fill="#f4ee88" stroke="none" stroke-width="0.7"/>
<circle cx="87.68" cy="644.38" r="2.10" fill="#e8dc50" stroke="none" stroke-width="0.7" opacity="0.5"/>
<circle cx="87.68" cy="644.38" r="1.50" fill="#f4ee88" stroke="none" stroke-width="0.7"/>
</g>
<rect x="89.20" y="655.30" width="24.70" height="3.60" fill="#fff" stroke="none" stroke-width="0.7"/>
<text x="0" y="0" transform="translate(21.20 570.76) scale(1.0929 1)" font-size="9.33" text-anchor="start" fill="#fff">Lean</text>
</g>
<g clip-path="url(#ce2)">
<rect x="16.10" y="664.40" width="105.00" height="105.60" fill="#05051a" stroke="none" stroke-width="0.7"/>
<g filter="url(#soft)">
<circle cx="75.84" cy="730.90" r="2.15" fill="#3a48b8" stroke="none" stroke-width="0.7" opacity="0.70"/>
<circle cx="101.25" cy="694.13" r="2.09" fill="#151a5c" stroke="#3a48b8" stroke-width="0.8" opacity="0.94"/>
<circle cx="84.24" cy="757.69" r="2.33" fill="#151a5c" stroke="#3a48b8" stroke-width="0.8" opacity="0.84"/>
<circle cx="110.71" cy="684.72" r="1.97" fill="#151a5c" stroke="#3a48b8" stroke-width="0.8" opacity="0.64"/>
<ellipse cx="84.23" cy="729.33" rx="2.62" ry="1.71" transform="rotate(6 84.23 729.33)" fill="#3a48b8" opacity="0.87"/>
<circle cx="68.95" cy="765.50" r="2.07" fill="#3a48b8" stroke="none" stroke-width="0.7" opacity="0.77"/>
<circle cx="71.51" cy="711.53" r="2.23" fill="#3a48b8" stroke="none" stroke-width="0.7" opacity="0.79"/>
<ellipse cx="114.29" cy="731.25" rx="2.52" ry="1.65" transform="rotate(56 114.29 731.25)" fill="#3a48b8" opacity="0.57"/>
<circle cx="48.13" cy="697.44" r="1.81" fill="#151a5c" stroke="#3a48b8" stroke-width="0.8" opacity="0.58"/>
<circle cx="68.20" cy="670.85" r="1.63" fill="#151a5c" stroke="#3a48b8" stroke-width="0.8" opacity="0.48"/>
<circle cx="79.68" cy="741.63" r="1.68" fill="#3a48b8" stroke="none" stroke-width="0.7" opacity="0.35"/>
<circle cx="60.99" cy="753.11" r="2.15" fill="#3a48b8" stroke="none" stroke-width="0.7" opacity="0.50"/>
<circle cx="112.68" cy="722.96" r="2.18" fill="#3a48b8" stroke="none" stroke-width="0.7" opacity="0.35"/>
<ellipse cx="87.28" cy="677.55" rx="2.38" ry="1.55" transform="rotate(145 87.28 677.55)" fill="#3a48b8" opacity="0.49"/>
<ellipse cx="22.87" cy="766.93" rx="2.33" ry="1.52" transform="rotate(10 22.87 766.93)" fill="#3a48b8" opacity="0.70"/>
<circle cx="46.40" cy="687.50" r="2.30" fill="#151a5c" stroke="#3a48b8" stroke-width="0.8" opacity="0.69"/>
<circle cx="109.46" cy="743.08" r="1.81" fill="#151a5c" stroke="#3a48b8" stroke-width="0.8" opacity="0.70"/>
<ellipse cx="29.79" cy="698.73" rx="2.60" ry="1.70" transform="rotate(172 29.79 698.73)" fill="#3a48b8" opacity="0.62"/>
<circle cx="42.10" cy="693.65" r="2.23" fill="#151a5c" stroke="#3a48b8" stroke-width="0.8" opacity="0.46"/>
<circle cx="17.76" cy="719.76" r="2.00" fill="#3a48b8" stroke="none" stroke-width="0.7" opacity="0.78"/>
<circle cx="48.45" cy="706.24" r="1.79" fill="#3a48b8" stroke="none" stroke-width="0.7" opacity="0.72"/>
<ellipse cx="36.20" cy="676.80" rx="2.38" ry="1.55" transform="rotate(110 36.20 676.80)" fill="#3a48b8" opacity="0.65"/>
<circle cx="20.49" cy="755.82" r="1.69" fill="#151a5c" stroke="#3a48b8" stroke-width="0.8" opacity="0.75"/>
<circle cx="94.08" cy="723.38" r="1.74" fill="#151a5c" stroke="#3a48b8" stroke-width="0.8" opacity="0.67"/>
<circle cx="29.86" cy="680.83" r="2.24" fill="#3a48b8" stroke="none" stroke-width="0.7" opacity="0.44"/>
<circle cx="23.03" cy="693.93" r="1.52" fill="#3a48b8" stroke="none" stroke-width="0.7" opacity="0.48"/>
<circle cx="38.00" cy="685.38" r="1.90" fill="#3a48b8" stroke="none" stroke-width="0.7" opacity="0.65"/>
<ellipse cx="84.43" cy="712.83" rx="2.41" ry="1.57" transform="rotate(117 84.43 712.83)" fill="#3a48b8" opacity="0.54"/>
<circle cx="65.87" cy="702.50" r="1.62" fill="#151a5c" stroke="#3a48b8" stroke-width="0.8" opacity="0.86"/>
<ellipse cx="72.62" cy="746.74" rx="2.22" ry="1.45" transform="rotate(31 72.62 746.74)" fill="#3a48b8" opacity="0.76"/>
<circle cx="48.82" cy="672.68" r="1.75" fill="#3a48b8" stroke="none" stroke-width="0.7" opacity="0.58"/>
<ellipse cx="97.49" cy="676.90" rx="2.27" ry="1.48" transform="rotate(12 97.49 676.90)" fill="#3a48b8" opacity="0.79"/>
<ellipse cx="106.99" cy="666.94" rx="2.21" ry="1.44" transform="rotate(172 106.99 666.94)" fill="#3a48b8" opacity="0.84"/>
<circle cx="49.58" cy="757.49" r="1.78" fill="#3a48b8" stroke="none" stroke-width="0.7" opacity="0.46"/>
<circle cx="68.08" cy="728.83" r="2.15" fill="#3a48b8" stroke="none" stroke-width="0.7" opacity="0.71"/>
<circle cx="20.55" cy="674.46" r="1.70" fill="#151a5c" stroke="#3a48b8" stroke-width="0.8" opacity="0.78"/>
<circle cx="64.76" cy="709.13" r="1.62" fill="#151a5c" stroke="#3a48b8" stroke-width="0.8" opacity="0.40"/>
<circle cx="69.32" cy="692.40" r="1.90" fill="#151a5c" stroke="#3a48b8" stroke-width="0.8" opacity="0.70"/>
<circle cx="107.38" cy="765.04" r="2.01" fill="#151a5c" stroke="#3a48b8" stroke-width="0.8" opacity="0.75"/>
<ellipse cx="36.18" cy="739.13" rx="2.58" ry="1.68" transform="rotate(102 36.18 739.13)" fill="#3a48b8" opacity="0.77"/>
<circle cx="81.17" cy="695.05" r="1.93" fill="#3a48b8" stroke="none" stroke-width="0.7" opacity="0.73"/>
<circle cx="116.61" cy="751.52" r="1.81" fill="#151a5c" stroke="#3a48b8" stroke-width="0.8" opacity="0.88"/>
<circle cx="69.78" cy="753.49" r="1.73" fill="#3a48b8" stroke="none" stroke-width="0.7" opacity="0.73"/>
<circle cx="44.95" cy="725.84" r="1.64" fill="#3a48b8" stroke="none" stroke-width="0.7" opacity="0.76"/>
<circle cx="76.12" cy="685.98" r="1.62" fill="#151a5c" stroke="#3a48b8" stroke-width="0.8" opacity="0.59"/>
<circle cx="36.53" cy="763.83" r="1.82" fill="#151a5c" stroke="#3a48b8" stroke-width="0.8" opacity="0.80"/>
<circle cx="119.64" cy="735.82" r="1.58" fill="#3a48b8" stroke="none" stroke-width="0.7" opacity="0.74"/>
<circle cx="17.80" cy="762.69" r="1.88" fill="#3a48b8" stroke="none" stroke-width="0.7" opacity="0.75"/>
<circle cx="59.68" cy="760.36" r="2.28" fill="#151a5c" stroke="#3a48b8" stroke-width="0.8" opacity="0.58"/>
<circle cx="21.19" cy="667.56" r="1.77" fill="#3a48b8" stroke="none" stroke-width="0.7" opacity="0.56"/>
<ellipse cx="97.51" cy="747.39" rx="2.02" ry="1.32" transform="rotate(135 97.51 747.39)" fill="#3a48b8" opacity="0.71"/>
<circle cx="54.85" cy="748.21" r="1.52" fill="#3a48b8" stroke="none" stroke-width="0.7" opacity="0.56"/>
<ellipse cx="93.40" cy="755.23" rx="1.89" ry="1.23" transform="rotate(101 93.40 755.23)" fill="#3a48b8" opacity="0.95"/>
<circle cx="116.81" cy="743.59" r="2.01" fill="#151a5c" stroke="#3a48b8" stroke-width="0.8" opacity="0.75"/>
<circle cx="52.03" cy="716.76" r="2.06" fill="#151a5c" stroke="#3a48b8" stroke-width="0.8" opacity="0.68"/>
<circle cx="63.43" cy="686.35" r="1.88" fill="#3a48b8" stroke="none" stroke-width="0.7" opacity="0.37"/>
<circle cx="25.55" cy="686.44" r="1.79" fill="#151a5c" stroke="#3a48b8" stroke-width="0.8" opacity="0.55"/>
<circle cx="59.79" cy="678.88" r="2.09" fill="#3a48b8" stroke="none" stroke-width="0.7" opacity="0.55"/>
<circle cx="41.29" cy="667.83" r="2.01" fill="#151a5c" stroke="#3a48b8" stroke-width="0.8" opacity="0.72"/>
<circle cx="54.31" cy="691.57" r="1.72" fill="#3a48b8" stroke="none" stroke-width="0.7" opacity="0.70"/>
<circle cx="17.99" cy="711.92" r="1.72" fill="#151a5c" stroke="#3a48b8" stroke-width="0.8" opacity="0.48"/>
<circle cx="91.76" cy="688.65" r="2.24" fill="#151a5c" stroke="#3a48b8" stroke-width="0.8" opacity="0.57"/>
<circle cx="21.46" cy="681.92" r="1.85" fill="#3a48b8" stroke="none" stroke-width="0.7" opacity="0.57"/>
<ellipse cx="117.87" cy="701.22" rx="2.13" ry="1.39" transform="rotate(136 117.87 701.22)" fill="#3a48b8" opacity="0.62"/>
<circle cx="29.16" cy="765.98" r="1.78" fill="#151a5c" stroke="#3a48b8" stroke-width="0.8" opacity="0.68"/>
<ellipse cx="83.54" cy="764.49" rx="2.74" ry="1.79" transform="rotate(39 83.54 764.49)" fill="#3a48b8" opacity="0.54"/>
<circle cx="98.95" cy="718.86" r="1.78" fill="#151a5c" stroke="#3a48b8" stroke-width="0.8" opacity="0.59"/>
<circle cx="98.41" cy="705.38" r="1.88" fill="#151a5c" stroke="#3a48b8" stroke-width="0.8" opacity="0.62"/>
<circle cx="107.37" cy="673.44" r="1.61" fill="#3a48b8" stroke="none" stroke-width="0.7" opacity="0.63"/>
<circle cx="37.64" cy="756.89" r="1.78" fill="#151a5c" stroke="#3a48b8" stroke-width="0.8" opacity="0.47"/>
<circle cx="46.35" cy="741.05" r="1.66" fill="#3a48b8" stroke="none" stroke-width="0.7" opacity="0.58"/>
<circle cx="41.26" cy="734.63" r="2.35" fill="#151a5c" stroke="#3a48b8" stroke-width="0.8" opacity="0.85"/>
<circle cx="27.26" cy="745.02" r="1.81" fill="#151a5c" stroke="#3a48b8" stroke-width="0.8" opacity="0.51"/>
<ellipse cx="35.15" cy="709.38" rx="1.87" ry="1.22" transform="rotate(176 35.15 709.38)" fill="#3a48b8" opacity="0.70"/>
<circle cx="31.05" cy="719.52" r="1.62" fill="#151a5c" stroke="#3a48b8" stroke-width="0.8" opacity="0.54"/>
<circle cx="75.72" cy="674.89" r="2.29" fill="#151a5c" stroke="#3a48b8" stroke-width="0.8" opacity="0.46"/>
<circle cx="56.51" cy="726.21" r="2.30" fill="#151a5c" stroke="#3a48b8" stroke-width="0.8" opacity="0.83"/>
<circle cx="98.52" cy="768.41" r="2.01" fill="#151a5c" stroke="#3a48b8" stroke-width="0.8" opacity="0.77"/>
<circle cx="67.94" cy="717.89" r="2.29" fill="#151a5c" stroke="#3a48b8" stroke-width="0.8" opacity="0.77"/>
<ellipse cx="48.34" cy="751.07" rx="2.15" ry="1.40" transform="rotate(34 48.34 751.07)" fill="#3a48b8" opacity="0.45"/>
<circle cx="99.95" cy="685.57" r="1.97" fill="#3a48b8" stroke="none" stroke-width="0.7" opacity="0.67"/>
<circle cx="53.21" cy="677.75" r="2.13" fill="#3a48b8" stroke="none" stroke-width="0.7" opacity="0.47"/>
<ellipse cx="101.96" cy="732.75" rx="2.04" ry="1.33" transform="rotate(84 101.96 732.75)" fill="#3a48b8" opacity="0.79"/>
<circle cx="81.08" cy="751.06" r="2.18" fill="#151a5c" stroke="#3a48b8" stroke-width="0.8" opacity="0.77"/>
<circle cx="50.93" cy="732.74" r="1.68" fill="#3a48b8" stroke="none" stroke-width="0.7" opacity="0.44"/>
<ellipse cx="90.90" cy="671.87" rx="2.60" ry="1.70" transform="rotate(35 90.90 671.87)" fill="#3a48b8" opacity="0.53"/>
<circle cx="60.11" cy="698.20" r="1.94" fill="#151a5c" stroke="#3a48b8" stroke-width="0.8" opacity="0.87"/>
<circle cx="110.09" cy="710.26" r="2.29" fill="#151a5c" stroke="#3a48b8" stroke-width="0.8" opacity="0.42"/>
<circle cx="118.90" cy="673.56" r="2.27" fill="#151a5c" stroke="#3a48b8" stroke-width="0.8" opacity="0.76"/>
<circle cx="35.33" cy="749.31" r="1.99" fill="#151a5c" stroke="#3a48b8" stroke-width="0.8" opacity="0.69"/>
<ellipse cx="95.35" cy="666.61" rx="2.70" ry="1.76" transform="rotate(125 95.35 666.61)" fill="#3a48b8" opacity="0.41"/>
<circle cx="82.26" cy="685.24" r="2.13" fill="#151a5c" stroke="#3a48b8" stroke-width="0.8" opacity="0.60"/>
<circle cx="93.87" cy="762.48" r="1.99" fill="#151a5c" stroke="#3a48b8" stroke-width="0.8" opacity="0.92"/>
<ellipse cx="102.45" cy="756.47" rx="2.28" ry="1.49" transform="rotate(127 102.45 756.47)" fill="#3a48b8" opacity="0.73"/>
<circle cx="109.04" cy="702.55" r="2.36" fill="#151a5c" stroke="#3a48b8" stroke-width="0.8" opacity="0.79"/>
<circle cx="42.61" cy="747.36" r="2.23" fill="#3a48b8" stroke="none" stroke-width="0.7" opacity="0.36"/>
<circle cx="67.96" cy="736.65" r="1.61" fill="#151a5c" stroke="#3a48b8" stroke-width="0.8" opacity="0.45"/>
<ellipse cx="37.75" cy="701.76" rx="2.25" ry="1.47" transform="rotate(112 37.75 701.76)" fill="#3a48b8" opacity="0.84"/>
<circle cx="42.19" cy="768.02" r="1.80" fill="#3a48b8" stroke="none" stroke-width="0.7" opacity="0.48"/>
<circle cx="97.75" cy="739.47" r="1.77" fill="#3a48b8" stroke="none" stroke-width="0.7" opacity="0.58"/>
<circle cx="34.54" cy="667.82" r="1.67" fill="#151a5c" stroke="#3a48b8" stroke-width="0.8" opacity="0.91"/>
<circle cx="114.43" cy="766.74" r="2.30" fill="#151a5c" stroke="#3a48b8" stroke-width="0.8" opacity="0.41"/>
<circle cx="89.46" cy="750.17" r="2.37" fill="#151a5c" stroke="#3a48b8" stroke-width="0.8" opacity="0.58"/>
<circle cx="34.03" cy="731.88" r="2.11" fill="#3a48b8" stroke="none" stroke-width="0.7" opacity="0.38"/>
<circle cx="107.19" cy="725.84" r="2.29" fill="#151a5c" stroke="#3a48b8" stroke-width="0.8" opacity="0.67"/>
<circle cx="105.33" cy="750.40" r="1.72" fill="#151a5c" stroke="#3a48b8" stroke-width="0.8" opacity="0.88"/>
<ellipse cx="111.59" cy="757.49" rx="2.49" ry="1.62" transform="rotate(116 111.59 757.49)" fill="#3a48b8" opacity="0.75"/>
<circle cx="49.97" cy="764.92" r="1.93" fill="#3a48b8" stroke="none" stroke-width="0.7" opacity="0.72"/>
<circle cx="108.60" cy="693.60" r="1.69" fill="#3a48b8" stroke="none" stroke-width="0.7" opacity="0.37"/>
<circle cx="74.84" cy="766.81" r="2.06" fill="#151a5c" stroke="#3a48b8" stroke-width="0.8" opacity="0.77"/>
<circle cx="119.21" cy="682.03" r="2.39" fill="#151a5c" stroke="#3a48b8" stroke-width="0.8" opacity="0.73"/>
<circle cx="113.25" cy="665.56" r="1.74" fill="#151a5c" stroke="#3a48b8" stroke-width="0.8" opacity="0.50"/>
<ellipse cx="65.03" cy="745.94" rx="2.47" ry="1.61" transform="rotate(57 65.03 745.94)" fill="#3a48b8" opacity="0.63"/>
<circle cx="89.49" cy="705.13" r="2.16" fill="#3a48b8" stroke="none" stroke-width="0.7" opacity="0.79"/>
<circle cx="74.97" cy="702.92" r="2.12" fill="#3a48b8" stroke="none" stroke-width="0.7" opacity="0.48"/>
<ellipse cx="84.33" cy="667.97" rx="2.19" ry="1.43" transform="rotate(60 84.33 667.97)" fill="#3a48b8" opacity="0.62"/>
<circle cx="28.90" cy="672.52" r="2.37" fill="#151a5c" stroke="#3a48b8" stroke-width="0.8" opacity="0.80"/>
<circle cx="119.26" cy="760.31" r="1.85" fill="#3a48b8" stroke="none" stroke-width="0.7" opacity="0.54"/>
<circle cx="20.38" cy="744.16" r="2.24" fill="#3a48b8" stroke="none" stroke-width="0.7" opacity="0.64"/>
<circle cx="59.60" cy="737.77" r="2.07" fill="#151a5c" stroke="#3a48b8" stroke-width="0.8" opacity="0.59"/>
<ellipse cx="57.31" cy="708.28" rx="2.20" ry="1.43" transform="rotate(6 57.31 708.28)" fill="#3a48b8" opacity="0.84"/>
<circle cx="77.14" cy="719.84" r="2.00" fill="#3a48b8" stroke="none" stroke-width="0.7" opacity="0.70"/>
<circle cx="94.59" cy="712.72" r="2.36" fill="#151a5c" stroke="#3a48b8" stroke-width="0.8" opacity="0.57"/>
<ellipse cx="116.78" cy="695.03" rx="2.21" ry="1.44" transform="rotate(80 116.78 695.03)" fill="#3a48b8" opacity="0.41"/>
<circle cx="21.31" cy="735.44" r="2.02" fill="#3a48b8" stroke="none" stroke-width="0.7" opacity="0.57"/>
<path d="M104.65 673.19 Q107.60 674.03 109.81 676.16" stroke="#c01cc0" stroke-width="1.8" stroke-linecap="round" fill="none" opacity="0.8"/>
<path d="M98.15 710.10 Q101.46 712.97 103.03 717.06" stroke="#c01cc0" stroke-width="1.9800000000000002" stroke-linecap="round" fill="none" opacity="0.8"/>
<path d="M26.81 706.94 Q28.09 706.62 29.36 706.94" stroke="#c01cc0" stroke-width="1.9800000000000002" stroke-linecap="round" fill="none" opacity="0.8"/>
<path d="M75.27 710.15 Q77.01 710.33 78.46 711.31" stroke="#c01cc0" stroke-width="1.4400000000000002" stroke-linecap="round" fill="none" opacity="0.8"/>
<path d="M85.50 714.95 Q86.72 716.21 87.20 717.90" stroke="#c01cc0" stroke-width="1.4400000000000002" stroke-linecap="round" fill="none" opacity="0.8"/>
<path d="M87.22 701.61 Q88.97 701.79 90.42 702.77" stroke="#c01cc0" stroke-width="1.4400000000000002" stroke-linecap="round" fill="none" opacity="0.8"/>
<path d="M56.91 688.96 Q59.06 689.37 60.76 690.75" stroke="#c01cc0" stroke-width="1.08" stroke-linecap="round" fill="none" opacity="0.8"/>
<path d="M93.22 748.40 Q94.97 748.27 96.57 748.99" stroke="#c01cc0" stroke-width="1.9800000000000002" stroke-linecap="round" fill="none" opacity="0.8"/>
<path d="M60.58 758.58 Q62.77 758.62 64.68 759.68" stroke="#c01cc0" stroke-width="1.62" stroke-linecap="round" fill="none" opacity="0.8"/>
<path d="M18.92 748.95 Q21.29 750.10 22.83 752.23" stroke="#c01cc0" stroke-width="1.08" stroke-linecap="round" fill="none" opacity="0.8"/>
<path d="M70.19 763.92 Q72.34 764.34 74.05 765.72" stroke="#c01cc0" stroke-width="1.26" stroke-linecap="round" fill="none" opacity="0.8"/>
<path d="M75.89 681.19 Q76.66 680.12 77.84 679.55" stroke="#c01cc0" stroke-width="1.08" stroke-linecap="round" fill="none" opacity="0.8"/>
<path d="M90.41 689.04 Q92.16 689.07 93.69 689.92" stroke="#c01cc0" stroke-width="1.1700000000000002" stroke-linecap="round" fill="none" opacity="0.8"/>
<circle cx="42.70" cy="716.43" r="1.40" fill="#f0ecd8" stroke="none" stroke-width="0.7"/>
</g>
<rect x="89.20" y="761.40" width="24.70" height="3.50" fill="#fff" stroke="none" stroke-width="0.7"/>
<text x="0" y="0" transform="translate(21.20 676.56) scale(1.0929 1)" font-size="9.33" text-anchor="start" fill="#fff">Obesity</text>
</g>
<text x="0" y="0" transform="rotate(-90 7.00 666.80) translate(7.00 670.42) scale(1.0929 1)" font-size="10.61" text-anchor="middle" fill="#222" textLength="70.27" lengthAdjust="spacingAndGlyphs"><tspan fill="#f62cf2">CD68</tspan><tspan fill="#222">/</tspan><tspan fill="#e4e03c">Ki67</tspan><tspan fill="#222">/</tspan><tspan fill="#2b47c9">DAPI</tspan></text>
<text x="0" y="0" transform="translate(210.80 595.36) scale(1.0929 1)" font-size="9.88" text-anchor="middle" fill="#222">Proliferation</text>
<line x1="167.00" y1="594.60" x2="167.00" y2="720.30" stroke="#8c8c8c" stroke-width="0.8"/>
<line x1="166.60" y1="720.30" x2="254.20" y2="720.30" stroke="#8c8c8c" stroke-width="0.9"/>
<line x1="162.40" y1="720.30" x2="167.00" y2="720.30" stroke="#8c8c8c" stroke-width="0.8"/>
<text x="0" y="0" transform="translate(158.20 723.66) scale(1.0929 1)" font-size="9.33" text-anchor="end" fill="#222">0</text>
<line x1="162.40" y1="678.50" x2="167.00" y2="678.50" stroke="#8c8c8c" stroke-width="0.8"/>
<text x="0" y="0" transform="translate(158.20 681.86) scale(1.0929 1)" font-size="9.33" text-anchor="end" fill="#222">5</text>
<line x1="162.40" y1="636.70" x2="167.00" y2="636.70" stroke="#8c8c8c" stroke-width="0.8"/>
<text x="0" y="0" transform="translate(158.20 640.06) scale(1.0929 1)" font-size="9.33" text-anchor="end" fill="#222">10</text>
<line x1="162.40" y1="594.90" x2="167.00" y2="594.90" stroke="#8c8c8c" stroke-width="0.8"/>
<text x="0" y="0" transform="translate(158.20 598.26) scale(1.0929 1)" font-size="9.33" text-anchor="end" fill="#222">15</text>
<rect x="180.20" y="702.40" width="23.60" height="17.90" fill="#dcdcdc" stroke="#4d4d4d" stroke-width="0.8"/>
<rect x="217.70" y="687.60" width="23.70" height="32.70" fill="#dcdcdc" stroke="#4d4d4d" stroke-width="0.8"/>
<line x1="191.90" y1="695.30" x2="191.90" y2="709.00" stroke="#333" stroke-width="0.8"/>
<line x1="185.60" y1="695.30" x2="198.20" y2="695.30" stroke="#333" stroke-width="0.8"/>
<line x1="185.60" y1="709.00" x2="198.20" y2="709.00" stroke="#333" stroke-width="0.8"/>
<line x1="229.40" y1="672.20" x2="229.40" y2="700.20" stroke="#333" stroke-width="0.8"/>
<line x1="223.10" y1="672.20" x2="235.70" y2="672.20" stroke="#333" stroke-width="0.8"/>
<line x1="223.10" y1="700.20" x2="235.70" y2="700.20" stroke="#333" stroke-width="0.8"/>
<circle cx="191.90" cy="681.40" r="2.35" fill="#fff" stroke="#111" stroke-width="0.8"/>
<circle cx="191.90" cy="695.30" r="2.35" fill="#fff" stroke="#111" stroke-width="0.8"/>
<circle cx="186.80" cy="705.30" r="2.35" fill="#fff" stroke="#111" stroke-width="0.8"/>
<circle cx="196.80" cy="709.20" r="2.35" fill="#fff" stroke="#111" stroke-width="0.8"/>
<circle cx="191.90" cy="717.40" r="2.35" fill="#fff" stroke="#111" stroke-width="0.8"/>
<circle cx="229.40" cy="656.00" r="2.50" fill="#000" stroke="none" stroke-width="0.7"/>
<circle cx="229.40" cy="670.40" r="2.50" fill="#000" stroke="none" stroke-width="0.7"/>
<circle cx="229.40" cy="704.20" r="2.50" fill="#000" stroke="none" stroke-width="0.7"/>
<circle cx="229.40" cy="714.80" r="2.50" fill="#000" stroke="none" stroke-width="0.7"/>
<line x1="191.90" y1="640.60" x2="229.40" y2="640.60" stroke="#8a8a8a" stroke-width="1.1"/>
<text x="0" y="0" transform="translate(209.00 637.09) scale(1.0929 1)" font-size="9.70" text-anchor="middle" fill="#222">ns</text>
<text x="0" y="0" transform="translate(190.90 733.06) scale(1.0929 1)" font-size="9.88" text-anchor="middle" fill="#222">Lean</text>
<text x="0" y="0" transform="translate(231.10 733.06) scale(1.0929 1)" font-size="9.88" text-anchor="middle" fill="#222">Obesity</text>
<text x="0" y="0" transform="rotate(-90 139.50 658.20) translate(139.50 661.43) scale(1.0929 1)" font-size="9.52" text-anchor="middle" fill="#222" textLength="121.70" lengthAdjust="spacingAndGlyphs">Ki67<tspan font-size="5.95" dy="-3.4">+</tspan><tspan dy="3.4"> LMs (% of CD68</tspan><tspan font-size="5.95" dy="-3.4">+</tspan><tspan dy="3.4"> cells)</tspan></text>
</g>
<g id="panel-f">
<text x="271.60" y="559.90" font-size="16" font-weight="bold" fill="#000">f</text>
<line x1="281.30" y1="609.40" x2="281.30" y2="719.10" stroke="#8c8c8c" stroke-width="0.8"/>
<line x1="280.90" y1="719.10" x2="389.80" y2="719.10" stroke="#8c8c8c" stroke-width="0.8"/>
<text x="0" y="0" transform="translate(335.50 595.36) scale(1.0929 1)" font-size="9.88" text-anchor="middle" fill="#222" textLength="71.92" lengthAdjust="spacingAndGlyphs">Cell populations</text>
<text x="0" y="0" transform="rotate(-90 273.60 663.40) translate(273.60 666.69) scale(1.0929 1)" font-size="9.70" text-anchor="middle" fill="#222" textLength="30.74" lengthAdjust="spacingAndGlyphs">UMAP2</text>
<text x="0" y="0" transform="translate(342.80 732.99) scale(1.0929 1)" font-size="9.70" text-anchor="middle" fill="#222" textLength="29.46" lengthAdjust="spacingAndGlyphs">UMAP1</text>
<circle cx="344.35" cy="616.56" r="3.85" fill="#2f78b6" stroke="none" stroke-width="0.7"/>
<circle cx="351.36" cy="614.49" r="3.85" fill="#2f78b6" stroke="none" stroke-width="0.7"/>
<circle cx="364.33" cy="617.86" r="3.85" fill="#2f78b6" stroke="none" stroke-width="0.7"/>
<circle cx="352.91" cy="623.57" r="3.85" fill="#2f78b6" stroke="none" stroke-width="0.7"/>
<circle cx="372.38" cy="623.57" r="3.85" fill="#2f78b6" stroke="none" stroke-width="0.7"/>
<circle cx="341.24" cy="628.76" r="3.85" fill="#2f78b6" stroke="none" stroke-width="0.7"/>
<circle cx="361.74" cy="630.84" r="3.85" fill="#2f78b6" stroke="none" stroke-width="0.7"/>
<circle cx="343.05" cy="632.91" r="3.85" fill="#2f78b6" stroke="none" stroke-width="0.7"/>
<circle cx="349.54" cy="634.73" r="3.85" fill="#2f78b6" stroke="none" stroke-width="0.7"/>
<circle cx="353.43" cy="638.11" r="3.85" fill="#2f78b6" stroke="none" stroke-width="0.7"/>
<circle cx="366.41" cy="637.33" r="3.85" fill="#2f78b6" stroke="none" stroke-width="0.7"/>
<circle cx="374.98" cy="632.91" r="3.85" fill="#2f78b6" stroke="none" stroke-width="0.7"/>
<circle cx="381.98" cy="637.33" r="3.85" fill="#2f78b6" stroke="none" stroke-width="0.7"/>
<circle cx="377.57" cy="641.22" r="3.85" fill="#2f78b6" stroke="none" stroke-width="0.7"/>
<circle cx="340.46" cy="642.52" r="3.85" fill="#2f78b6" stroke="none" stroke-width="0.7"/>
<circle cx="362.52" cy="643.82" r="3.85" fill="#2f78b6" stroke="none" stroke-width="0.7"/>
<circle cx="356.03" cy="645.11" r="3.85" fill="#2f78b6" stroke="none" stroke-width="0.7"/>
<circle cx="349.54" cy="648.49" r="3.85" fill="#2f78b6" stroke="none" stroke-width="0.7"/>
<circle cx="357.33" cy="651.08" r="3.85" fill="#2f78b6" stroke="none" stroke-width="0.7"/>
<circle cx="369.53" cy="647.19" r="3.85" fill="#2f78b6" stroke="none" stroke-width="0.7"/>
<circle cx="385.10" cy="646.41" r="3.85" fill="#2f78b6" stroke="none" stroke-width="0.7"/>
<circle cx="343.05" cy="655.49" r="3.85" fill="#2f78b6" stroke="none" stroke-width="0.7"/>
<circle cx="369.53" cy="654.20" r="3.85" fill="#2f78b6" stroke="none" stroke-width="0.7"/>
<circle cx="380.69" cy="656.01" r="3.85" fill="#2f78b6" stroke="none" stroke-width="0.7"/>
<circle cx="375.49" cy="659.91" r="3.85" fill="#2f78b6" stroke="none" stroke-width="0.7"/>
<circle cx="358.62" cy="660.17" r="3.85" fill="#2f78b6" stroke="none" stroke-width="0.7"/>
<circle cx="364.59" cy="660.69" r="3.85" fill="#2f78b6" stroke="none" stroke-width="0.7"/>
<circle cx="350.32" cy="663.28" r="3.85" fill="#2f78b6" stroke="none" stroke-width="0.7"/>
<circle cx="336.04" cy="665.88" r="3.85" fill="#2f78b6" stroke="none" stroke-width="0.7"/>
<circle cx="346.43" cy="667.69" r="3.85" fill="#2f78b6" stroke="none" stroke-width="0.7"/>
<circle cx="328.78" cy="675.74" r="3.85" fill="#2f78b6" stroke="none" stroke-width="0.7"/>
<circle cx="340.98" cy="674.44" r="3.85" fill="#2f78b6" stroke="none" stroke-width="0.7"/>
<circle cx="350.84" cy="674.96" r="3.85" fill="#2f78b6" stroke="none" stroke-width="0.7"/>
<circle cx="357.33" cy="672.88" r="3.85" fill="#2f78b6" stroke="none" stroke-width="0.7"/>
<circle cx="362.52" cy="680.93" r="3.85" fill="#2f78b6" stroke="none" stroke-width="0.7"/>
<circle cx="349.02" cy="682.75" r="3.85" fill="#2f78b6" stroke="none" stroke-width="0.7"/>
<circle cx="316.58" cy="682.23" r="3.85" fill="#2f78b6" stroke="none" stroke-width="0.7"/>
<circle cx="320.47" cy="689.75" r="3.85" fill="#2f78b6" stroke="none" stroke-width="0.7"/>
<circle cx="330.08" cy="687.42" r="3.85" fill="#2f78b6" stroke="none" stroke-width="0.7"/>
<circle cx="294.52" cy="675.48" r="3.85" fill="#22f01e" stroke="none" stroke-width="0.7"/>
<circle cx="288.55" cy="680.93" r="3.85" fill="#22f01e" stroke="none" stroke-width="0.7"/>
<circle cx="300.23" cy="681.45" r="3.85" fill="#22f01e" stroke="none" stroke-width="0.7"/>
<circle cx="309.83" cy="687.16" r="3.85" fill="#22f01e" stroke="none" stroke-width="0.7"/>
<circle cx="292.44" cy="691.31" r="3.85" fill="#22f01e" stroke="none" stroke-width="0.7"/>
<circle cx="297.11" cy="690.01" r="3.85" fill="#22f01e" stroke="none" stroke-width="0.7"/>
<circle cx="285.43" cy="695.98" r="3.85" fill="#22f01e" stroke="none" stroke-width="0.7"/>
<circle cx="309.31" cy="695.20" r="3.85" fill="#22f01e" stroke="none" stroke-width="0.7"/>
<circle cx="290.63" cy="703.51" r="3.85" fill="#22f01e" stroke="none" stroke-width="0.7"/>
<circle cx="297.11" cy="702.99" r="3.85" fill="#22f01e" stroke="none" stroke-width="0.7"/>
<circle cx="301.01" cy="700.91" r="3.85" fill="#22f01e" stroke="none" stroke-width="0.7"/>
<circle cx="306.20" cy="707.40" r="3.85" fill="#22f01e" stroke="none" stroke-width="0.7"/>
<circle cx="309.31" cy="706.10" r="3.85" fill="#22f01e" stroke="none" stroke-width="0.7"/>
<circle cx="319.69" cy="707.40" r="3.85" fill="#22f01e" stroke="none" stroke-width="0.7"/>
<circle cx="293.22" cy="711.30" r="3.85" fill="#22f01e" stroke="none" stroke-width="0.7"/>
<circle cx="301.53" cy="714.67" r="3.85" fill="#22f01e" stroke="none" stroke-width="0.7"/>
<circle cx="341.00" cy="695.20" r="1.90" fill="#22f01e" stroke="#2a8a2a" stroke-width="0.5"/>
<text x="0" y="0" transform="translate(345.40 698.03) scale(1.0929 1)" font-size="8.14" text-anchor="start" fill="#222" textLength="44.84" lengthAdjust="spacingAndGlyphs">Proliferating</text>
<text x="0" y="0" transform="translate(345.40 706.93) scale(1.0929 1)" font-size="8.14" text-anchor="start" fill="#222">LMs</text>
<circle cx="341.00" cy="714.70" r="1.90" fill="#2f78b6" stroke="#1f5a8a" stroke-width="0.5"/>
<text x="0" y="0" transform="translate(345.40 717.63) scale(1.0929 1)" font-size="8.14" text-anchor="start" fill="#222">LM2</text>
<line x1="417.50" y1="609.20" x2="417.50" y2="720.00" stroke="#858585" stroke-width="1"/>
<line x1="417.00" y1="719.50" x2="525.00" y2="719.50" stroke="#858585" stroke-width="1"/>
<text x="0" y="0" transform="translate(471.80 595.16) scale(1.0929 1)" font-size="9.88" text-anchor="middle" fill="#222">Pseudotime</text>
<text x="0" y="0" transform="rotate(-90 409.40 663.50) translate(409.40 666.79) scale(1.0929 1)" font-size="9.70" text-anchor="middle" fill="#222" textLength="30.74" lengthAdjust="spacingAndGlyphs">UMAP2</text>
<text x="0" y="0" transform="translate(478.80 732.99) scale(1.0929 1)" font-size="9.70" text-anchor="middle" fill="#222" textLength="29.46" lengthAdjust="spacingAndGlyphs">UMAP1</text>
<circle cx="480.12" cy="616.72" r="3.85" fill="#fde725" stroke="none" stroke-width="0.7"/>
<circle cx="487.60" cy="613.91" r="3.85" fill="#fde725" stroke="none" stroke-width="0.7"/>
<circle cx="500.44" cy="618.35" r="3.85" fill="#fde725" stroke="none" stroke-width="0.7"/>
<circle cx="489.23" cy="623.73" r="3.85" fill="#fde725" stroke="none" stroke-width="0.7"/>
<circle cx="477.55" cy="628.40" r="3.85" fill="#fde725" stroke="none" stroke-width="0.7"/>
<circle cx="479.42" cy="633.07" r="3.85" fill="#fde725" stroke="none" stroke-width="0.7"/>
<circle cx="485.96" cy="634.70" r="3.85" fill="#fde725" stroke="none" stroke-width="0.7"/>
<circle cx="489.47" cy="638.21" r="3.85" fill="#fde725" stroke="none" stroke-width="0.7"/>
<circle cx="494.60" cy="659.93" r="3.85" fill="#fde725" stroke="none" stroke-width="0.7"/>
<circle cx="508.62" cy="624.19" r="3.85" fill="#c8e020" stroke="none" stroke-width="0.7"/>
<circle cx="498.11" cy="631.20" r="3.85" fill="#c8e020" stroke="none" stroke-width="0.7"/>
<circle cx="511.66" cy="632.60" r="3.85" fill="#c8e020" stroke="none" stroke-width="0.7"/>
<circle cx="502.78" cy="637.27" r="3.85" fill="#c8e020" stroke="none" stroke-width="0.7"/>
<circle cx="518.43" cy="637.74" r="3.85" fill="#c8e020" stroke="none" stroke-width="0.7"/>
<circle cx="513.76" cy="641.25" r="3.85" fill="#c8e020" stroke="none" stroke-width="0.7"/>
<circle cx="476.62" cy="642.41" r="3.85" fill="#c8e020" stroke="none" stroke-width="0.7"/>
<circle cx="498.81" cy="644.28" r="3.85" fill="#c8e020" stroke="none" stroke-width="0.7"/>
<circle cx="492.27" cy="645.22" r="3.85" fill="#c8e020" stroke="none" stroke-width="0.7"/>
<circle cx="521.00" cy="646.62" r="3.85" fill="#c8e020" stroke="none" stroke-width="0.7"/>
<circle cx="485.26" cy="648.95" r="3.85" fill="#c8e020" stroke="none" stroke-width="0.7"/>
<circle cx="506.28" cy="647.79" r="3.85" fill="#c8e020" stroke="none" stroke-width="0.7"/>
<circle cx="493.44" cy="651.76" r="3.85" fill="#c8e020" stroke="none" stroke-width="0.7"/>
<circle cx="516.80" cy="655.96" r="3.85" fill="#b0dd2f" stroke="none" stroke-width="0.7"/>
<circle cx="512.12" cy="659.93" r="3.85" fill="#b0dd2f" stroke="none" stroke-width="0.7"/>
<circle cx="486.90" cy="663.44" r="3.85" fill="#b0dd2f" stroke="none" stroke-width="0.7"/>
<circle cx="493.44" cy="672.31" r="3.85" fill="#b0dd2f" stroke="none" stroke-width="0.7"/>
<circle cx="478.95" cy="655.73" r="3.85" fill="#86d549" stroke="none" stroke-width="0.7"/>
<circle cx="500.91" cy="661.10" r="3.85" fill="#86d549" stroke="none" stroke-width="0.7"/>
<circle cx="482.22" cy="667.41" r="3.85" fill="#86d549" stroke="none" stroke-width="0.7"/>
<circle cx="487.60" cy="674.41" r="3.85" fill="#86d549" stroke="none" stroke-width="0.7"/>
<circle cx="498.58" cy="680.49" r="3.85" fill="#86d549" stroke="none" stroke-width="0.7"/>
<circle cx="485.26" cy="683.29" r="3.85" fill="#86d549" stroke="none" stroke-width="0.7"/>
<circle cx="505.82" cy="654.79" r="3.85" fill="#5ec962" stroke="none" stroke-width="0.7"/>
<circle cx="477.08" cy="674.41" r="3.85" fill="#4ac16d" stroke="none" stroke-width="0.7"/>
<circle cx="471.95" cy="665.77" r="3.85" fill="#35b779" stroke="none" stroke-width="0.7"/>
<circle cx="464.94" cy="675.82" r="3.85" fill="#26828e" stroke="none" stroke-width="0.7"/>
<circle cx="466.57" cy="687.26" r="3.85" fill="#2c728e" stroke="none" stroke-width="0.7"/>
<circle cx="431.07" cy="675.58" r="3.85" fill="#46337f" stroke="none" stroke-width="0.7"/>
<circle cx="425.23" cy="680.25" r="3.85" fill="#46337f" stroke="none" stroke-width="0.7"/>
<circle cx="436.21" cy="680.96" r="3.85" fill="#46337f" stroke="none" stroke-width="0.7"/>
<circle cx="453.26" cy="682.82" r="3.85" fill="#46337f" stroke="none" stroke-width="0.7"/>
<circle cx="456.76" cy="690.30" r="3.85" fill="#46337f" stroke="none" stroke-width="0.7"/>
<circle cx="422.19" cy="696.14" r="3.85" fill="#46337f" stroke="none" stroke-width="0.7"/>
<circle cx="429.20" cy="691.47" r="3.85" fill="#472b7a" stroke="none" stroke-width="0.7"/>
<circle cx="433.40" cy="690.77" r="3.85" fill="#472b7a" stroke="none" stroke-width="0.7"/>
<circle cx="445.55" cy="695.44" r="3.85" fill="#472b7a" stroke="none" stroke-width="0.7"/>
<circle cx="427.56" cy="703.85" r="3.85" fill="#472b7a" stroke="none" stroke-width="0.7"/>
<circle cx="433.40" cy="703.15" r="3.85" fill="#472b7a" stroke="none" stroke-width="0.7"/>
<circle cx="437.84" cy="701.28" r="3.85" fill="#472b7a" stroke="none" stroke-width="0.7"/>
<circle cx="443.21" cy="707.35" r="3.85" fill="#472b7a" stroke="none" stroke-width="0.7"/>
<circle cx="445.08" cy="706.18" r="3.85" fill="#472b7a" stroke="none" stroke-width="0.7"/>
<circle cx="429.90" cy="711.32" r="3.85" fill="#472b7a" stroke="none" stroke-width="0.7"/>
<circle cx="437.37" cy="714.83" r="3.85" fill="#472b7a" stroke="none" stroke-width="0.7"/>
<circle cx="446.02" cy="686.80" r="3.85" fill="#440154" stroke="none" stroke-width="0.7"/>
<circle cx="455.59" cy="707.12" r="3.85" fill="#3b528b" stroke="none" stroke-width="0.7"/>
<linearGradient id="vir" x1="0" y1="1" x2="0" y2="0"><stop offset="0" stop-color="#440154"/><stop offset="0.1" stop-color="#482475"/><stop offset="0.2" stop-color="#414487"/><stop offset="0.3" stop-color="#355f8d"/><stop offset="0.4" stop-color="#2a788e"/><stop offset="0.5" stop-color="#21918c"/><stop offset="0.6" stop-color="#22a884"/><stop offset="0.7" stop-color="#44bf70"/><stop offset="0.8" stop-color="#7ad151"/><stop offset="0.9" stop-color="#bddf26"/><stop offset="1.0" stop-color="#fde725"/></linearGradient>
<rect x="527.30" y="609.20" width="4.00" height="109.80" fill="url(#vir)" stroke="none" stroke-width="0.7"/>
<line x1="531.30" y1="719.00" x2="535.00" y2="719.00" stroke="#444" stroke-width="0.8"/>
<text x="0" y="0" transform="translate(538.20 722.46) scale(1.0929 1)" font-size="9.33" text-anchor="start" fill="#222">0</text>
<line x1="531.30" y1="697.04" x2="535.00" y2="697.04" stroke="#444" stroke-width="0.8"/>
<text x="0" y="0" transform="translate(538.20 700.50) scale(1.0929 1)" font-size="9.33" text-anchor="start" fill="#222" textLength="12.26" lengthAdjust="spacingAndGlyphs">0.2</text>
<line x1="531.30" y1="675.08" x2="535.00" y2="675.08" stroke="#444" stroke-width="0.8"/>
<text x="0" y="0" transform="translate(538.20 678.54) scale(1.0929 1)" font-size="9.33" text-anchor="start" fill="#222" textLength="12.26" lengthAdjust="spacingAndGlyphs">0.4</text>
<line x1="531.30" y1="653.12" x2="535.00" y2="653.12" stroke="#444" stroke-width="0.8"/>
<text x="0" y="0" transform="translate(538.20 656.58) scale(1.0929 1)" font-size="9.33" text-anchor="start" fill="#222" textLength="12.26" lengthAdjust="spacingAndGlyphs">0.6</text>
<line x1="531.30" y1="631.16" x2="535.00" y2="631.16" stroke="#444" stroke-width="0.8"/>
<text x="0" y="0" transform="translate(538.20 634.62) scale(1.0929 1)" font-size="9.33" text-anchor="start" fill="#222" textLength="12.26" lengthAdjust="spacingAndGlyphs">0.8</text>
<line x1="531.30" y1="609.20" x2="535.00" y2="609.20" stroke="#444" stroke-width="0.8"/>
<text x="0" y="0" transform="translate(538.20 612.66) scale(1.0929 1)" font-size="9.33" text-anchor="start" fill="#222" textLength="12.26" lengthAdjust="spacingAndGlyphs">1.0</text>
</g>
<g id="panel-g">
<text x="564.40" y="560.10" font-size="16" font-weight="bold" fill="#000">g</text>
<line x1="576.20" y1="609.40" x2="576.20" y2="719.20" stroke="#8c8c8c" stroke-width="0.8"/>
<line x1="575.80" y1="719.20" x2="685.00" y2="719.20" stroke="#8c8c8c" stroke-width="0.8"/>
<text x="0" y="0" transform="translate(630.00 595.36) scale(1.0929 1)" font-size="9.88" text-anchor="middle" fill="#222">Condition</text>
<text x="0" y="0" transform="rotate(-90 568.00 664.80) translate(568.00 668.09) scale(1.0929 1)" font-size="9.70" text-anchor="middle" fill="#222" textLength="30.74" lengthAdjust="spacingAndGlyphs">UMAP2</text>
<text x="0" y="0" transform="translate(630.00 732.99) scale(1.0929 1)" font-size="9.70" text-anchor="middle" fill="#222" textLength="29.46" lengthAdjust="spacingAndGlyphs">UMAP1</text>
<circle cx="646.30" cy="614.55" r="3.85" fill="#f07f72" stroke="none" stroke-width="0.7"/>
<circle cx="630.71" cy="665.97" r="3.85" fill="#f07f72" stroke="none" stroke-width="0.7"/>
<circle cx="641.62" cy="667.79" r="3.85" fill="#f07f72" stroke="none" stroke-width="0.7"/>
<circle cx="645.52" cy="662.86" r="3.85" fill="#f07f72" stroke="none" stroke-width="0.7"/>
<circle cx="623.70" cy="675.84" r="3.85" fill="#f07f72" stroke="none" stroke-width="0.7"/>
<circle cx="635.91" cy="674.55" r="3.85" fill="#f07f72" stroke="none" stroke-width="0.7"/>
<circle cx="646.30" cy="674.29" r="3.85" fill="#f07f72" stroke="none" stroke-width="0.7"/>
<circle cx="652.27" cy="672.99" r="3.85" fill="#f07f72" stroke="none" stroke-width="0.7"/>
<circle cx="643.70" cy="682.86" r="3.85" fill="#f07f72" stroke="none" stroke-width="0.7"/>
<circle cx="656.69" cy="681.04" r="3.85" fill="#f07f72" stroke="none" stroke-width="0.7"/>
<circle cx="589.68" cy="675.58" r="3.85" fill="#f07f72" stroke="none" stroke-width="0.7"/>
<circle cx="583.44" cy="681.04" r="3.85" fill="#f07f72" stroke="none" stroke-width="0.7"/>
<circle cx="611.23" cy="682.86" r="3.85" fill="#f07f72" stroke="none" stroke-width="0.7"/>
<circle cx="604.74" cy="687.27" r="3.85" fill="#f07f72" stroke="none" stroke-width="0.7"/>
<circle cx="615.13" cy="689.87" r="3.85" fill="#f07f72" stroke="none" stroke-width="0.7"/>
<circle cx="625.00" cy="687.53" r="3.85" fill="#f07f72" stroke="none" stroke-width="0.7"/>
<circle cx="604.22" cy="695.32" r="3.85" fill="#f07f72" stroke="none" stroke-width="0.7"/>
<circle cx="592.53" cy="703.64" r="3.85" fill="#f07f72" stroke="none" stroke-width="0.7"/>
<circle cx="602.66" cy="706.23" r="3.85" fill="#f07f72" stroke="none" stroke-width="0.7"/>
<circle cx="600.32" cy="708.05" r="3.85" fill="#f07f72" stroke="none" stroke-width="0.7"/>
<circle cx="596.17" cy="714.55" r="3.85" fill="#f07f72" stroke="none" stroke-width="0.7"/>
<circle cx="639.29" cy="616.62" r="3.85" fill="#a8d5e6" stroke="none" stroke-width="0.7"/>
<circle cx="648.12" cy="623.64" r="3.85" fill="#a8d5e6" stroke="none" stroke-width="0.7"/>
<circle cx="659.29" cy="617.92" r="3.85" fill="#a8d5e6" stroke="none" stroke-width="0.7"/>
<circle cx="667.08" cy="623.64" r="3.85" fill="#a8d5e6" stroke="none" stroke-width="0.7"/>
<circle cx="635.91" cy="628.83" r="3.85" fill="#a8d5e6" stroke="none" stroke-width="0.7"/>
<circle cx="637.99" cy="633.51" r="3.85" fill="#a8d5e6" stroke="none" stroke-width="0.7"/>
<circle cx="644.22" cy="634.81" r="3.85" fill="#a8d5e6" stroke="none" stroke-width="0.7"/>
<circle cx="648.38" cy="637.92" r="3.85" fill="#a8d5e6" stroke="none" stroke-width="0.7"/>
<circle cx="656.69" cy="630.91" r="3.85" fill="#a8d5e6" stroke="none" stroke-width="0.7"/>
<circle cx="661.10" cy="636.88" r="3.85" fill="#a8d5e6" stroke="none" stroke-width="0.7"/>
<circle cx="670.19" cy="632.99" r="3.85" fill="#a8d5e6" stroke="none" stroke-width="0.7"/>
<circle cx="676.95" cy="637.40" r="3.85" fill="#a8d5e6" stroke="none" stroke-width="0.7"/>
<circle cx="672.27" cy="641.30" r="3.85" fill="#a8d5e6" stroke="none" stroke-width="0.7"/>
<circle cx="635.39" cy="642.08" r="3.85" fill="#a8d5e6" stroke="none" stroke-width="0.7"/>
<circle cx="650.71" cy="645.19" r="3.85" fill="#a8d5e6" stroke="none" stroke-width="0.7"/>
<circle cx="657.21" cy="643.90" r="3.85" fill="#a8d5e6" stroke="none" stroke-width="0.7"/>
<circle cx="643.70" cy="649.09" r="3.85" fill="#a8d5e6" stroke="none" stroke-width="0.7"/>
<circle cx="664.48" cy="647.79" r="3.85" fill="#a8d5e6" stroke="none" stroke-width="0.7"/>
<circle cx="679.55" cy="646.49" r="3.85" fill="#a8d5e6" stroke="none" stroke-width="0.7"/>
<circle cx="651.49" cy="651.17" r="3.85" fill="#a8d5e6" stroke="none" stroke-width="0.7"/>
<circle cx="637.99" cy="655.58" r="3.85" fill="#a8d5e6" stroke="none" stroke-width="0.7"/>
<circle cx="664.48" cy="655.06" r="3.85" fill="#a8d5e6" stroke="none" stroke-width="0.7"/>
<circle cx="675.39" cy="656.10" r="3.85" fill="#a8d5e6" stroke="none" stroke-width="0.7"/>
<circle cx="670.45" cy="660.00" r="3.85" fill="#a8d5e6" stroke="none" stroke-width="0.7"/>
<circle cx="652.79" cy="660.26" r="3.85" fill="#a8d5e6" stroke="none" stroke-width="0.7"/>
<circle cx="659.29" cy="660.78" r="3.85" fill="#a8d5e6" stroke="none" stroke-width="0.7"/>
<circle cx="594.87" cy="681.56" r="3.85" fill="#a8d5e6" stroke="none" stroke-width="0.7"/>
<circle cx="587.86" cy="691.43" r="3.85" fill="#a8d5e6" stroke="none" stroke-width="0.7"/>
<circle cx="592.27" cy="690.65" r="3.85" fill="#a8d5e6" stroke="none" stroke-width="0.7"/>
<circle cx="580.84" cy="695.84" r="3.85" fill="#a8d5e6" stroke="none" stroke-width="0.7"/>
<circle cx="596.43" cy="701.04" r="3.85" fill="#a8d5e6" stroke="none" stroke-width="0.7"/>
<circle cx="585.78" cy="704.16" r="3.85" fill="#a8d5e6" stroke="none" stroke-width="0.7"/>
<circle cx="588.64" cy="711.43" r="3.85" fill="#a8d5e6" stroke="none" stroke-width="0.7"/>
<circle cx="613.83" cy="707.01" r="3.85" fill="#a8d5e6" stroke="none" stroke-width="0.7"/>
<circle cx="642.40" cy="700.30" r="2.30" fill="#a8d5e6" stroke="#4a6a7a" stroke-width="0.5"/>
<text x="0" y="0" transform="translate(648.30 703.69) scale(1.0929 1)" font-size="9.70" text-anchor="start" fill="#222">Lean</text>
<circle cx="642.40" cy="712.00" r="2.30" fill="#f07f72" stroke="#8a4a42" stroke-width="0.5"/>
<text x="0" y="0" transform="translate(648.30 715.39) scale(1.0929 1)" font-size="9.70" text-anchor="start" fill="#222">Obesity</text>
</g>
</svg>
</body></html>
